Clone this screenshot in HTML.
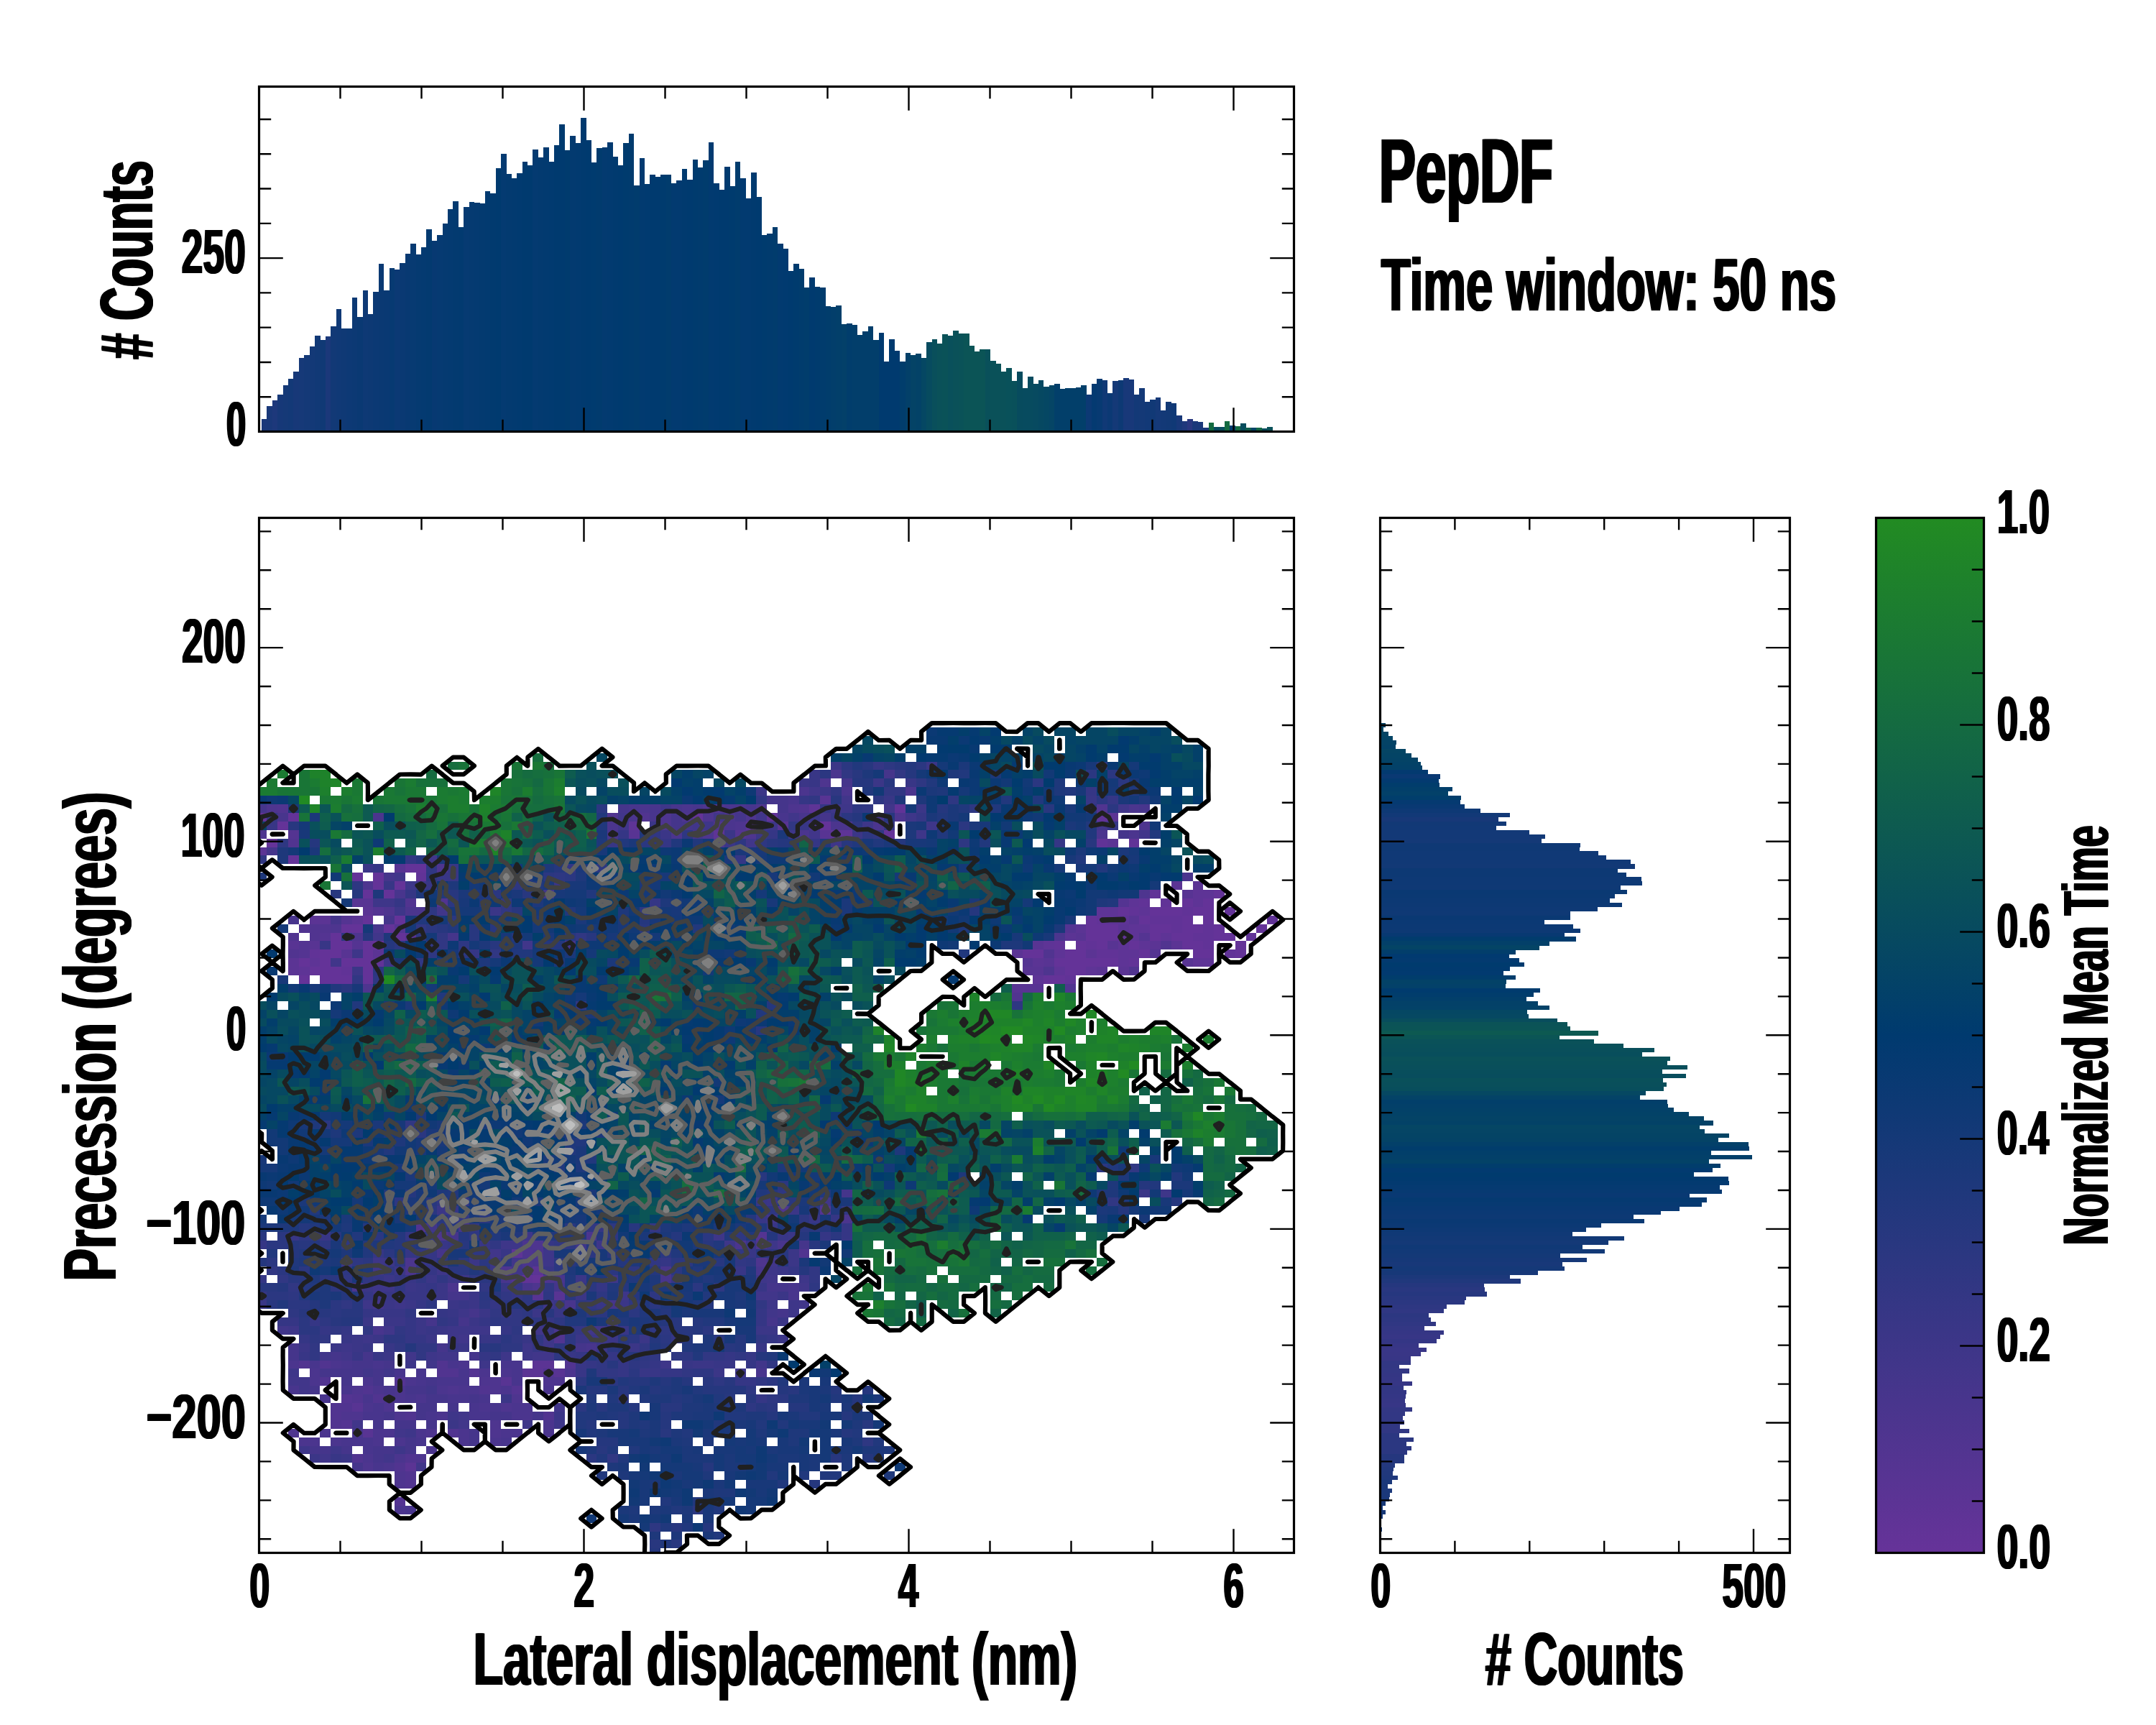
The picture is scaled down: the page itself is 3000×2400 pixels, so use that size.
<!DOCTYPE html><html><head><meta charset="utf-8"><title>PepDF</title><style>html,body{margin:0;padding:0;background:#fff}svg{display:block}</style></head><body><svg width="3000" height="2400" viewBox="0 0 3000 2400">
<rect width="3000" height="2400" fill="#fff"/>
<g shape-rendering="crispEdges">
<rect x="363.90" y="583.04" width="7.6" height="17.46" fill="#1a387a"/>
<rect x="371.31" y="565.07" width="7.6" height="35.43" fill="#193879"/>
<rect x="378.71" y="557.25" width="7.6" height="43.25" fill="#1d387b"/>
<rect x="386.11" y="549.13" width="7.6" height="51.37" fill="#163878"/>
<rect x="393.51" y="536.09" width="7.6" height="64.41" fill="#153977"/>
<rect x="400.92" y="527.39" width="7.6" height="73.11" fill="#133977"/>
<rect x="408.32" y="517.25" width="7.6" height="83.25" fill="#173878"/>
<rect x="415.72" y="498.41" width="7.6" height="102.09" fill="#163978"/>
<rect x="423.13" y="494.35" width="7.6" height="106.15" fill="#143977"/>
<rect x="430.53" y="482.17" width="7.6" height="118.33" fill="#133977"/>
<rect x="437.93" y="467.10" width="7.6" height="133.40" fill="#113976"/>
<rect x="445.34" y="472.90" width="7.6" height="127.60" fill="#103975"/>
<rect x="452.74" y="468.26" width="7.6" height="132.24" fill="#1b387a"/>
<rect x="460.14" y="454.06" width="7.6" height="146.44" fill="#123976"/>
<rect x="467.54" y="430.29" width="7.6" height="170.21" fill="#103976"/>
<rect x="474.95" y="456.96" width="7.6" height="143.54" fill="#0f3975"/>
<rect x="482.35" y="456.96" width="7.6" height="143.54" fill="#0d3975"/>
<rect x="489.75" y="414.06" width="7.6" height="186.44" fill="#0c3974"/>
<rect x="497.16" y="441.01" width="7.6" height="159.49" fill="#0a3973"/>
<rect x="504.56" y="404.20" width="7.6" height="196.30" fill="#0e3975"/>
<rect x="511.96" y="436.96" width="7.6" height="163.54" fill="#0d3974"/>
<rect x="519.37" y="406.23" width="7.6" height="194.27" fill="#0b3974"/>
<rect x="526.77" y="367.10" width="7.6" height="233.40" fill="#0a3973"/>
<rect x="534.17" y="404.20" width="7.6" height="196.30" fill="#093973"/>
<rect x="541.58" y="373.19" width="7.6" height="227.31" fill="#073a72"/>
<rect x="548.98" y="374.93" width="7.6" height="225.57" fill="#0b3974"/>
<rect x="556.38" y="366.23" width="7.6" height="234.27" fill="#0a3973"/>
<rect x="563.78" y="353.19" width="7.6" height="247.31" fill="#083972"/>
<rect x="571.19" y="339.28" width="7.6" height="261.22" fill="#073a72"/>
<rect x="578.59" y="354.06" width="7.6" height="246.44" fill="#053a71"/>
<rect x="585.99" y="344.20" width="7.6" height="256.30" fill="#043a71"/>
<rect x="593.40" y="318.99" width="7.6" height="281.51" fill="#033a70"/>
<rect x="600.80" y="334.93" width="7.6" height="265.57" fill="#073972"/>
<rect x="608.20" y="327.10" width="7.6" height="273.40" fill="#063a72"/>
<rect x="615.61" y="310.87" width="7.6" height="289.63" fill="#053a71"/>
<rect x="623.01" y="291.16" width="7.6" height="309.34" fill="#043a71"/>
<rect x="630.41" y="280.14" width="7.6" height="320.36" fill="#033a70"/>
<rect x="637.81" y="316.09" width="7.6" height="284.41" fill="#023a70"/>
<rect x="645.22" y="288.26" width="7.6" height="312.24" fill="#063a72"/>
<rect x="652.62" y="281.30" width="7.6" height="319.20" fill="#053a71"/>
<rect x="660.02" y="282.17" width="7.6" height="318.33" fill="#043a71"/>
<rect x="667.43" y="283.04" width="7.6" height="317.46" fill="#033a70"/>
<rect x="674.83" y="266.23" width="7.6" height="334.27" fill="#023a70"/>
<rect x="682.23" y="268.84" width="7.6" height="331.66" fill="#013a6f"/>
<rect x="689.63" y="234.06" width="7.6" height="366.44" fill="#003a6f"/>
<rect x="697.04" y="214.06" width="7.6" height="386.44" fill="#043a71"/>
<rect x="704.44" y="242.17" width="7.6" height="358.33" fill="#033a70"/>
<rect x="711.84" y="247.97" width="7.6" height="352.53" fill="#023a70"/>
<rect x="719.25" y="241.01" width="7.6" height="359.49" fill="#013a70"/>
<rect x="726.65" y="225.07" width="7.6" height="375.43" fill="#003a6f"/>
<rect x="734.05" y="230.00" width="7.6" height="370.50" fill="#003a6f"/>
<rect x="741.46" y="208.26" width="7.6" height="392.24" fill="#043a71"/>
<rect x="748.86" y="218.99" width="7.6" height="381.51" fill="#033a70"/>
<rect x="756.26" y="205.07" width="7.6" height="395.43" fill="#023a70"/>
<rect x="763.66" y="225.07" width="7.6" height="375.43" fill="#013a70"/>
<rect x="771.07" y="202.17" width="7.6" height="398.33" fill="#003a6f"/>
<rect x="778.47" y="173.19" width="7.6" height="427.31" fill="#003a6f"/>
<rect x="785.87" y="209.13" width="7.6" height="391.37" fill="#003b6e"/>
<rect x="793.28" y="189.13" width="7.6" height="411.37" fill="#033a70"/>
<rect x="800.68" y="198.99" width="7.6" height="401.51" fill="#023a70"/>
<rect x="808.08" y="164.20" width="7.6" height="436.30" fill="#013a6f"/>
<rect x="815.49" y="195.22" width="7.6" height="405.28" fill="#003a6f"/>
<rect x="822.89" y="225.94" width="7.6" height="374.56" fill="#003b6f"/>
<rect x="830.29" y="206.23" width="7.6" height="394.27" fill="#013b6e"/>
<rect x="837.69" y="205.07" width="7.6" height="395.43" fill="#033a70"/>
<rect x="845.10" y="198.12" width="7.6" height="402.38" fill="#023a70"/>
<rect x="852.50" y="218.12" width="7.6" height="382.38" fill="#013a6f"/>
<rect x="859.90" y="229.71" width="7.6" height="370.79" fill="#003a6f"/>
<rect x="867.31" y="198.99" width="7.6" height="401.51" fill="#003b6e"/>
<rect x="874.71" y="186.23" width="7.6" height="414.27" fill="#013b6e"/>
<rect x="882.11" y="257.83" width="7.6" height="342.67" fill="#013c6d"/>
<rect x="889.52" y="220.14" width="7.6" height="380.36" fill="#023a70"/>
<rect x="896.92" y="255.80" width="7.6" height="344.70" fill="#013a70"/>
<rect x="904.32" y="243.04" width="7.6" height="357.46" fill="#003a6f"/>
<rect x="911.73" y="245.65" width="7.6" height="354.85" fill="#003a6f"/>
<rect x="919.13" y="243.04" width="7.6" height="357.46" fill="#003b6e"/>
<rect x="926.53" y="243.04" width="7.6" height="357.46" fill="#013c6d"/>
<rect x="933.93" y="254.64" width="7.6" height="345.86" fill="#023a70"/>
<rect x="941.34" y="251.16" width="7.6" height="349.34" fill="#023a70"/>
<rect x="948.74" y="235.22" width="7.6" height="365.28" fill="#013a6f"/>
<rect x="956.14" y="250.00" width="7.6" height="350.50" fill="#003a6f"/>
<rect x="963.55" y="222.17" width="7.6" height="378.33" fill="#003b6e"/>
<rect x="970.95" y="232.90" width="7.6" height="367.60" fill="#013b6e"/>
<rect x="978.35" y="223.04" width="7.6" height="377.46" fill="#013c6d"/>
<rect x="985.75" y="198.12" width="7.6" height="402.38" fill="#023a70"/>
<rect x="993.16" y="254.93" width="7.6" height="345.57" fill="#013a70"/>
<rect x="1000.56" y="263.91" width="7.6" height="336.59" fill="#003a6f"/>
<rect x="1007.96" y="232.03" width="7.6" height="368.47" fill="#003a6f"/>
<rect x="1015.37" y="258.99" width="7.6" height="341.51" fill="#003b6e"/>
<rect x="1022.77" y="225.07" width="7.6" height="375.43" fill="#013c6d"/>
<rect x="1030.17" y="247.97" width="7.6" height="352.53" fill="#023a70"/>
<rect x="1037.58" y="275.80" width="7.6" height="324.70" fill="#023a70"/>
<rect x="1044.98" y="240.14" width="7.6" height="360.36" fill="#013a6f"/>
<rect x="1052.38" y="274.06" width="7.6" height="326.44" fill="#003a6f"/>
<rect x="1059.78" y="326.81" width="7.6" height="273.69" fill="#003b6e"/>
<rect x="1067.19" y="325.07" width="7.6" height="275.43" fill="#013b6e"/>
<rect x="1074.59" y="316.09" width="7.6" height="284.41" fill="#013c6d"/>
<rect x="1081.99" y="338.99" width="7.6" height="261.51" fill="#023a70"/>
<rect x="1089.40" y="345.94" width="7.6" height="254.56" fill="#013a70"/>
<rect x="1096.80" y="376.96" width="7.6" height="223.54" fill="#003a6f"/>
<rect x="1104.20" y="366.81" width="7.6" height="233.69" fill="#003b6e"/>
<rect x="1111.61" y="373.77" width="7.6" height="226.73" fill="#013c6d"/>
<rect x="1119.01" y="399.86" width="7.6" height="200.64" fill="#013d6c"/>
<rect x="1126.41" y="385.94" width="7.6" height="214.56" fill="#003a6f"/>
<rect x="1133.82" y="398.70" width="7.6" height="201.80" fill="#003b6e"/>
<rect x="1141.22" y="399.86" width="7.6" height="200.64" fill="#013c6d"/>
<rect x="1148.62" y="425.94" width="7.6" height="174.56" fill="#013d6c"/>
<rect x="1156.02" y="427.10" width="7.6" height="173.40" fill="#023e6b"/>
<rect x="1163.43" y="425.07" width="7.6" height="175.43" fill="#023f6a"/>
<rect x="1170.83" y="450.87" width="7.6" height="149.63" fill="#034069"/>
<rect x="1178.23" y="450.00" width="7.6" height="150.50" fill="#013d6c"/>
<rect x="1185.64" y="452.03" width="7.6" height="148.47" fill="#023e6b"/>
<rect x="1193.04" y="465.94" width="7.6" height="134.56" fill="#023e6b"/>
<rect x="1200.44" y="461.01" width="7.6" height="139.49" fill="#023e6b"/>
<rect x="1207.84" y="454.06" width="7.6" height="146.44" fill="#023e6b"/>
<rect x="1215.25" y="472.90" width="7.6" height="127.60" fill="#023e6b"/>
<rect x="1222.65" y="463.04" width="7.6" height="137.46" fill="#003a6f"/>
<rect x="1230.05" y="503.04" width="7.6" height="97.46" fill="#003a6f"/>
<rect x="1237.46" y="471.74" width="7.6" height="128.76" fill="#003a6f"/>
<rect x="1244.86" y="487.97" width="7.6" height="112.53" fill="#003a6f"/>
<rect x="1252.26" y="503.04" width="7.6" height="97.46" fill="#013d6c"/>
<rect x="1259.67" y="491.16" width="7.6" height="109.34" fill="#034069"/>
<rect x="1267.07" y="494.06" width="7.6" height="106.44" fill="#044366"/>
<rect x="1274.47" y="492.03" width="7.6" height="108.47" fill="#034267"/>
<rect x="1281.88" y="498.12" width="7.6" height="102.38" fill="#054763"/>
<rect x="1289.28" y="476.09" width="7.6" height="124.41" fill="#074b5f"/>
<rect x="1296.68" y="472.03" width="7.6" height="128.47" fill="#094f5b"/>
<rect x="1304.08" y="478.12" width="7.6" height="122.38" fill="#0a5159"/>
<rect x="1311.49" y="465.07" width="7.6" height="135.43" fill="#0a5258"/>
<rect x="1318.89" y="467.14" width="7.6" height="133.36" fill="#09505b"/>
<rect x="1326.29" y="460.19" width="7.6" height="140.31" fill="#0a5159"/>
<rect x="1333.70" y="464.13" width="7.6" height="136.37" fill="#0a5258"/>
<rect x="1341.10" y="464.13" width="7.6" height="136.37" fill="#0b5456"/>
<rect x="1348.50" y="481.06" width="7.6" height="119.44" fill="#0b5456"/>
<rect x="1355.90" y="489.17" width="7.6" height="111.33" fill="#0b5456"/>
<rect x="1363.31" y="486.16" width="7.6" height="114.34" fill="#0b5456"/>
<rect x="1370.71" y="486.16" width="7.6" height="114.34" fill="#09505a"/>
<rect x="1378.11" y="502.16" width="7.6" height="98.34" fill="#0a5159"/>
<rect x="1385.52" y="506.10" width="7.6" height="94.40" fill="#0a5159"/>
<rect x="1392.92" y="517.00" width="7.6" height="83.50" fill="#0a5159"/>
<rect x="1400.32" y="512.13" width="7.6" height="88.37" fill="#09515a"/>
<rect x="1407.73" y="529.99" width="7.6" height="70.51" fill="#09505a"/>
<rect x="1415.13" y="517.24" width="7.6" height="83.26" fill="#074b5e"/>
<rect x="1422.53" y="539.96" width="7.6" height="60.54" fill="#074b5f"/>
<rect x="1429.93" y="524.19" width="7.6" height="76.31" fill="#074b5f"/>
<rect x="1437.34" y="534.17" width="7.6" height="66.33" fill="#074a60"/>
<rect x="1444.74" y="529.29" width="7.6" height="71.21" fill="#064861"/>
<rect x="1452.14" y="538.11" width="7.6" height="62.39" fill="#054763"/>
<rect x="1459.55" y="536.25" width="7.6" height="64.25" fill="#054565"/>
<rect x="1466.95" y="534.17" width="7.6" height="66.33" fill="#023f6a"/>
<rect x="1474.35" y="541.12" width="7.6" height="59.38" fill="#023f6a"/>
<rect x="1481.76" y="540.19" width="7.6" height="60.31" fill="#023f6a"/>
<rect x="1489.16" y="540.19" width="7.6" height="60.31" fill="#023f6a"/>
<rect x="1496.56" y="539.04" width="7.6" height="61.46" fill="#023f6a"/>
<rect x="1503.96" y="536.25" width="7.6" height="64.25" fill="#023f6a"/>
<rect x="1511.37" y="549.24" width="7.6" height="51.26" fill="#0c3974"/>
<rect x="1518.77" y="534.17" width="7.6" height="66.33" fill="#043a71"/>
<rect x="1526.17" y="527.21" width="7.6" height="73.29" fill="#073a72"/>
<rect x="1533.58" y="529.29" width="7.6" height="71.21" fill="#103976"/>
<rect x="1540.98" y="547.15" width="7.6" height="53.35" fill="#0b3974"/>
<rect x="1548.38" y="530.22" width="7.6" height="70.28" fill="#143977"/>
<rect x="1555.79" y="529.29" width="7.6" height="71.21" fill="#0d3974"/>
<rect x="1563.19" y="526.05" width="7.6" height="74.45" fill="#183879"/>
<rect x="1570.59" y="528.37" width="7.6" height="72.13" fill="#183879"/>
<rect x="1577.99" y="549.01" width="7.6" height="51.49" fill="#133977"/>
<rect x="1585.40" y="540.19" width="7.6" height="60.31" fill="#143977"/>
<rect x="1592.80" y="558.98" width="7.6" height="41.52" fill="#123977"/>
<rect x="1600.20" y="556.20" width="7.6" height="44.30" fill="#113976"/>
<rect x="1607.61" y="552.95" width="7.6" height="47.55" fill="#153978"/>
<rect x="1615.01" y="571.04" width="7.6" height="29.46" fill="#133977"/>
<rect x="1622.41" y="558.98" width="7.6" height="41.52" fill="#123976"/>
<rect x="1629.82" y="561.30" width="7.6" height="39.20" fill="#103976"/>
<rect x="1637.22" y="578.00" width="7.6" height="22.50" fill="#183879"/>
<rect x="1644.62" y="586.11" width="7.6" height="14.39" fill="#1f387c"/>
<rect x="1652.02" y="583.33" width="7.6" height="17.17" fill="#2a3780"/>
<rect x="1659.43" y="586.11" width="7.6" height="14.39" fill="#1b387a"/>
<rect x="1666.83" y="587.04" width="7.6" height="13.46" fill="#1a387a"/>
<rect x="1674.23" y="595.16" width="7.6" height="5.34" fill="#193879"/>
<rect x="1681.64" y="588.20" width="7.6" height="12.30" fill="#146b41"/>
<rect x="1689.04" y="594.23" width="7.6" height="6.27" fill="#074a60"/>
<rect x="1696.44" y="594.23" width="7.6" height="6.27" fill="#084d5d"/>
<rect x="1703.85" y="586.11" width="7.6" height="14.39" fill="#146b41"/>
<rect x="1711.25" y="592.14" width="7.6" height="8.36" fill="#003a6f"/>
<rect x="1718.65" y="593.30" width="7.6" height="7.20" fill="#146b41"/>
<rect x="1726.05" y="589.13" width="7.6" height="11.37" fill="#084d5d"/>
<rect x="1733.46" y="595.16" width="7.6" height="5.34" fill="#0f5e4d"/>
<rect x="1740.86" y="595.16" width="7.6" height="5.34" fill="#044466"/>
<rect x="1748.26" y="595.16" width="7.6" height="5.34" fill="#136744"/>
<rect x="1755.67" y="596.09" width="7.6" height="4.41" fill="#084d5d"/>
<rect x="1763.07" y="594.00" width="7.6" height="6.50" fill="#0a5159"/>
</g>
<g shape-rendering="crispEdges">
<rect x="1920.50" y="1005.95" width="7.33" height="6.2" fill="#044366"/>
<rect x="1920.50" y="1011.90" width="4.55" height="6.2" fill="#054763"/>
<rect x="1920.50" y="1017.85" width="11.51" height="6.2" fill="#054564"/>
<rect x="1920.50" y="1023.80" width="17.35" height="6.2" fill="#044465"/>
<rect x="1920.50" y="1029.75" width="22.36" height="6.2" fill="#044366"/>
<rect x="1920.50" y="1035.70" width="21.25" height="6.2" fill="#034267"/>
<rect x="1920.50" y="1041.65" width="35.44" height="6.2" fill="#054564"/>
<rect x="1920.50" y="1047.60" width="43.51" height="6.2" fill="#044465"/>
<rect x="1920.50" y="1053.55" width="52.42" height="6.2" fill="#044366"/>
<rect x="1920.50" y="1059.50" width="56.59" height="6.2" fill="#034267"/>
<rect x="1920.50" y="1065.45" width="58.54" height="6.2" fill="#034168"/>
<rect x="1920.50" y="1071.40" width="66.34" height="6.2" fill="#033a70"/>
<rect x="1920.50" y="1077.35" width="83.31" height="6.2" fill="#0a3973"/>
<rect x="1920.50" y="1083.30" width="81.36" height="6.2" fill="#033a70"/>
<rect x="1920.50" y="1089.25" width="82.48" height="6.2" fill="#013d6c"/>
<rect x="1920.50" y="1095.20" width="100.29" height="6.2" fill="#023f6a"/>
<rect x="1920.50" y="1101.15" width="94.17" height="6.2" fill="#034169"/>
<rect x="1920.50" y="1107.10" width="112.26" height="6.2" fill="#013e6c"/>
<rect x="1920.50" y="1113.05" width="111.14" height="6.2" fill="#053a71"/>
<rect x="1920.50" y="1119.00" width="117.27" height="6.2" fill="#093973"/>
<rect x="1920.50" y="1124.95" width="139.26" height="6.2" fill="#0e3975"/>
<rect x="1920.50" y="1130.90" width="180.17" height="6.2" fill="#123977"/>
<rect x="1920.50" y="1136.85" width="164.30" height="6.2" fill="#173878"/>
<rect x="1920.50" y="1142.80" width="175.16" height="6.2" fill="#123976"/>
<rect x="1920.50" y="1148.75" width="161.52" height="6.2" fill="#123977"/>
<rect x="1920.50" y="1154.70" width="207.44" height="6.2" fill="#133977"/>
<rect x="1920.50" y="1160.65" width="229.15" height="6.2" fill="#133977"/>
<rect x="1920.50" y="1166.60" width="224.42" height="6.2" fill="#143977"/>
<rect x="1920.50" y="1172.55" width="278.14" height="6.2" fill="#0f3975"/>
<rect x="1920.50" y="1178.50" width="277.30" height="6.2" fill="#0f3975"/>
<rect x="1920.50" y="1184.45" width="303.18" height="6.2" fill="#103976"/>
<rect x="1920.50" y="1190.40" width="314.32" height="6.2" fill="#103976"/>
<rect x="1920.50" y="1196.35" width="348.27" height="6.2" fill="#113976"/>
<rect x="1920.50" y="1202.30" width="354.40" height="6.2" fill="#123976"/>
<rect x="1920.50" y="1208.25" width="330.46" height="6.2" fill="#0d3974"/>
<rect x="1920.50" y="1214.20" width="342.43" height="6.2" fill="#0d3974"/>
<rect x="1920.50" y="1220.15" width="363.30" height="6.2" fill="#0e3975"/>
<rect x="1920.50" y="1226.10" width="364.42" height="6.2" fill="#0e3975"/>
<rect x="1920.50" y="1232.05" width="334.36" height="6.2" fill="#0f3975"/>
<rect x="1920.50" y="1238.00" width="343.26" height="6.2" fill="#0a3973"/>
<rect x="1920.50" y="1243.95" width="326.29" height="6.2" fill="#0b3973"/>
<rect x="1920.50" y="1249.90" width="319.33" height="6.2" fill="#0c3974"/>
<rect x="1920.50" y="1255.85" width="336.30" height="6.2" fill="#0d3974"/>
<rect x="1920.50" y="1261.80" width="302.35" height="6.2" fill="#0e3975"/>
<rect x="1920.50" y="1267.75" width="264.22" height="6.2" fill="#0f3975"/>
<rect x="1920.50" y="1273.70" width="264.22" height="6.2" fill="#0a3973"/>
<rect x="1920.50" y="1279.65" width="228.32" height="6.2" fill="#0b3974"/>
<rect x="1920.50" y="1285.60" width="268.12" height="6.2" fill="#0c3974"/>
<rect x="1920.50" y="1291.55" width="278.14" height="6.2" fill="#0d3974"/>
<rect x="1920.50" y="1297.50" width="256.43" height="6.2" fill="#083972"/>
<rect x="1920.50" y="1303.45" width="272.29" height="6.2" fill="#013c6d"/>
<rect x="1920.50" y="1309.40" width="235.28" height="6.2" fill="#034069"/>
<rect x="1920.50" y="1315.35" width="221.36" height="6.2" fill="#044465"/>
<rect x="1920.50" y="1321.30" width="188.24" height="6.2" fill="#023e6b"/>
<rect x="1920.50" y="1327.25" width="179.33" height="6.2" fill="#013a70"/>
<rect x="1920.50" y="1333.20" width="193.25" height="6.2" fill="#033a70"/>
<rect x="1920.50" y="1339.15" width="200.21" height="6.2" fill="#003b6e"/>
<rect x="1920.50" y="1345.10" width="180.17" height="6.2" fill="#013a6f"/>
<rect x="1920.50" y="1351.05" width="171.54" height="6.2" fill="#023a70"/>
<rect x="1920.50" y="1357.00" width="188.24" height="6.2" fill="#013d6c"/>
<rect x="1920.50" y="1362.95" width="175.16" height="6.2" fill="#034267"/>
<rect x="1920.50" y="1368.90" width="174.32" height="6.2" fill="#034169"/>
<rect x="1920.50" y="1374.85" width="222.19" height="6.2" fill="#003b6e"/>
<rect x="1920.50" y="1380.80" width="213.29" height="6.2" fill="#013d6c"/>
<rect x="1920.50" y="1386.75" width="203.55" height="6.2" fill="#023f6a"/>
<rect x="1920.50" y="1392.70" width="219.13" height="6.2" fill="#034168"/>
<rect x="1920.50" y="1398.65" width="235.28" height="6.2" fill="#034268"/>
<rect x="1920.50" y="1404.60" width="204.38" height="6.2" fill="#054763"/>
<rect x="1920.50" y="1410.55" width="206.33" height="6.2" fill="#064862"/>
<rect x="1920.50" y="1416.50" width="246.13" height="6.2" fill="#084d5d"/>
<rect x="1920.50" y="1422.45" width="260.32" height="6.2" fill="#0b5357"/>
<rect x="1920.50" y="1428.40" width="264.22" height="6.2" fill="#0b5456"/>
<rect x="1920.50" y="1434.35" width="303.18" height="6.2" fill="#0d5951"/>
<rect x="1920.50" y="1440.30" width="249.47" height="6.2" fill="#0b5555"/>
<rect x="1920.50" y="1446.25" width="297.34" height="6.2" fill="#0a5159"/>
<rect x="1920.50" y="1452.20" width="338.53" height="6.2" fill="#09505a"/>
<rect x="1920.50" y="1458.15" width="381.39" height="6.2" fill="#094f5b"/>
<rect x="1920.50" y="1464.10" width="364.42" height="6.2" fill="#084e5c"/>
<rect x="1920.50" y="1470.05" width="403.38" height="6.2" fill="#0a5159"/>
<rect x="1920.50" y="1476.00" width="399.20" height="6.2" fill="#09505a"/>
<rect x="1920.50" y="1481.95" width="427.04" height="6.2" fill="#094f5b"/>
<rect x="1920.50" y="1487.90" width="392.53" height="6.2" fill="#084e5c"/>
<rect x="1920.50" y="1493.85" width="425.37" height="6.2" fill="#084d5d"/>
<rect x="1920.50" y="1499.80" width="393.36" height="6.2" fill="#09505a"/>
<rect x="1920.50" y="1505.75" width="398.37" height="6.2" fill="#094f5b"/>
<rect x="1920.50" y="1511.70" width="394.20" height="6.2" fill="#084e5c"/>
<rect x="1920.50" y="1517.65" width="369.15" height="6.2" fill="#064862"/>
<rect x="1920.50" y="1523.60" width="361.35" height="6.2" fill="#044367"/>
<rect x="1920.50" y="1529.55" width="399.20" height="6.2" fill="#023f6a"/>
<rect x="1920.50" y="1535.50" width="400.32" height="6.2" fill="#034069"/>
<rect x="1920.50" y="1541.45" width="408.39" height="6.2" fill="#034168"/>
<rect x="1920.50" y="1547.40" width="429.26" height="6.2" fill="#034267"/>
<rect x="1920.50" y="1553.35" width="450.14" height="6.2" fill="#044366"/>
<rect x="1920.50" y="1559.30" width="463.22" height="6.2" fill="#034267"/>
<rect x="1920.50" y="1565.25" width="444.29" height="6.2" fill="#054664"/>
<rect x="1920.50" y="1571.20" width="451.25" height="6.2" fill="#054565"/>
<rect x="1920.50" y="1577.15" width="485.21" height="6.2" fill="#044465"/>
<rect x="1920.50" y="1583.10" width="470.45" height="6.2" fill="#044366"/>
<rect x="1920.50" y="1589.05" width="512.20" height="6.2" fill="#034069"/>
<rect x="1920.50" y="1595.00" width="513.32" height="6.2" fill="#013d6c"/>
<rect x="1920.50" y="1600.95" width="460.44" height="6.2" fill="#023f6a"/>
<rect x="1920.50" y="1606.90" width="517.21" height="6.2" fill="#034069"/>
<rect x="1920.50" y="1612.85" width="457.37" height="6.2" fill="#034267"/>
<rect x="1920.50" y="1618.80" width="473.52" height="6.2" fill="#013d6c"/>
<rect x="1920.50" y="1624.75" width="462.38" height="6.2" fill="#023a70"/>
<rect x="1920.50" y="1630.70" width="436.50" height="6.2" fill="#003b6e"/>
<rect x="1920.50" y="1636.65" width="484.37" height="6.2" fill="#013a6f"/>
<rect x="1920.50" y="1642.60" width="485.21" height="6.2" fill="#033a70"/>
<rect x="1920.50" y="1648.55" width="472.40" height="6.2" fill="#053a71"/>
<rect x="1920.50" y="1654.50" width="475.19" height="6.2" fill="#073a72"/>
<rect x="1920.50" y="1660.45" width="430.38" height="6.2" fill="#093973"/>
<rect x="1920.50" y="1666.40" width="454.31" height="6.2" fill="#053a71"/>
<rect x="1920.50" y="1672.35" width="447.35" height="6.2" fill="#073a72"/>
<rect x="1920.50" y="1678.30" width="416.46" height="6.2" fill="#093973"/>
<rect x="1920.50" y="1684.25" width="390.30" height="6.2" fill="#0b3974"/>
<rect x="1920.50" y="1690.20" width="352.45" height="6.2" fill="#0d3974"/>
<rect x="1920.50" y="1696.15" width="367.48" height="6.2" fill="#0a3973"/>
<rect x="1920.50" y="1702.10" width="307.36" height="6.2" fill="#0c3974"/>
<rect x="1920.50" y="1708.05" width="286.21" height="6.2" fill="#0e3975"/>
<rect x="1920.50" y="1714.00" width="267.28" height="6.2" fill="#103976"/>
<rect x="1920.50" y="1719.95" width="339.37" height="6.2" fill="#123976"/>
<rect x="1920.50" y="1725.90" width="317.38" height="6.2" fill="#143977"/>
<rect x="1920.50" y="1731.85" width="281.48" height="6.2" fill="#103976"/>
<rect x="1920.50" y="1737.80" width="312.37" height="6.2" fill="#123977"/>
<rect x="1920.50" y="1743.75" width="250.30" height="6.2" fill="#143977"/>
<rect x="1920.50" y="1749.70" width="287.32" height="6.2" fill="#163878"/>
<rect x="1920.50" y="1755.65" width="253.37" height="6.2" fill="#183879"/>
<rect x="1920.50" y="1761.60" width="256.43" height="6.2" fill="#153978"/>
<rect x="1920.50" y="1767.55" width="219.13" height="6.2" fill="#173878"/>
<rect x="1920.50" y="1773.50" width="180.45" height="6.2" fill="#1c387a"/>
<rect x="1920.50" y="1779.45" width="195.20" height="6.2" fill="#20387c"/>
<rect x="1920.50" y="1785.40" width="144.54" height="6.2" fill="#25377e"/>
<rect x="1920.50" y="1791.35" width="145.38" height="6.2" fill="#293780"/>
<rect x="1920.50" y="1797.30" width="148.44" height="6.2" fill="#26377f"/>
<rect x="1920.50" y="1803.25" width="119.49" height="6.2" fill="#293780"/>
<rect x="1920.50" y="1809.20" width="117.27" height="6.2" fill="#2b3781"/>
<rect x="1920.50" y="1815.15" width="92.22" height="6.2" fill="#2e3782"/>
<rect x="1920.50" y="1821.10" width="88.32" height="6.2" fill="#303783"/>
<rect x="1920.50" y="1827.05" width="67.45" height="6.2" fill="#2c3781"/>
<rect x="1920.50" y="1833.00" width="70.23" height="6.2" fill="#2e3782"/>
<rect x="1920.50" y="1838.95" width="77.19" height="6.2" fill="#303783"/>
<rect x="1920.50" y="1844.90" width="61.33" height="6.2" fill="#333784"/>
<rect x="1920.50" y="1850.85" width="88.32" height="6.2" fill="#353685"/>
<rect x="1920.50" y="1856.80" width="83.31" height="6.2" fill="#373686"/>
<rect x="1920.50" y="1862.75" width="78.30" height="6.2" fill="#343685"/>
<rect x="1920.50" y="1868.70" width="53.25" height="6.2" fill="#373686"/>
<rect x="1920.50" y="1874.65" width="64.39" height="6.2" fill="#393687"/>
<rect x="1920.50" y="1880.60" width="56.32" height="6.2" fill="#393686"/>
<rect x="1920.50" y="1886.55" width="42.40" height="6.2" fill="#383686"/>
<rect x="1920.50" y="1892.50" width="42.40" height="6.2" fill="#323784"/>
<rect x="1920.50" y="1898.45" width="26.26" height="6.2" fill="#323783"/>
<rect x="1920.50" y="1904.40" width="40.45" height="6.2" fill="#333784"/>
<rect x="1920.50" y="1910.35" width="30.43" height="6.2" fill="#343684"/>
<rect x="1920.50" y="1916.30" width="30.43" height="6.2" fill="#353685"/>
<rect x="1920.50" y="1922.25" width="44.35" height="6.2" fill="#363685"/>
<rect x="1920.50" y="1928.20" width="32.38" height="6.2" fill="#323784"/>
<rect x="1920.50" y="1934.15" width="36.28" height="6.2" fill="#333684"/>
<rect x="1920.50" y="1940.10" width="35.16" height="6.2" fill="#343685"/>
<rect x="1920.50" y="1946.05" width="34.33" height="6.2" fill="#363685"/>
<rect x="1920.50" y="1952.00" width="35.16" height="6.2" fill="#373686"/>
<rect x="1920.50" y="1957.95" width="44.35" height="6.2" fill="#333784"/>
<rect x="1920.50" y="1963.90" width="34.33" height="6.2" fill="#323784"/>
<rect x="1920.50" y="1969.85" width="31.27" height="6.2" fill="#323784"/>
<rect x="1920.50" y="1975.80" width="33.22" height="6.2" fill="#313783"/>
<rect x="1920.50" y="1981.75" width="27.37" height="6.2" fill="#313783"/>
<rect x="1920.50" y="1987.70" width="40.45" height="6.2" fill="#313783"/>
<rect x="1920.50" y="1993.65" width="26.26" height="6.2" fill="#2b3781"/>
<rect x="1920.50" y="1999.60" width="46.30" height="6.2" fill="#2b3781"/>
<rect x="1920.50" y="2005.55" width="36.28" height="6.2" fill="#2b3781"/>
<rect x="1920.50" y="2011.50" width="43.51" height="6.2" fill="#2b3781"/>
<rect x="1920.50" y="2017.45" width="37.39" height="6.2" fill="#2b3781"/>
<rect x="1920.50" y="2023.40" width="33.22" height="6.2" fill="#25377e"/>
<rect x="1920.50" y="2029.35" width="33.22" height="6.2" fill="#25377e"/>
<rect x="1920.50" y="2035.30" width="20.41" height="6.2" fill="#24387e"/>
<rect x="1920.50" y="2041.25" width="18.46" height="6.2" fill="#22387d"/>
<rect x="1920.50" y="2047.20" width="17.35" height="6.2" fill="#21387c"/>
<rect x="1920.50" y="2053.15" width="24.31" height="6.2" fill="#1f387c"/>
<rect x="1920.50" y="2059.10" width="16.24" height="6.2" fill="#1a387a"/>
<rect x="1920.50" y="2065.05" width="10.39" height="6.2" fill="#1a387a"/>
<rect x="1920.50" y="2071.00" width="16.24" height="6.2" fill="#1b387a"/>
<rect x="1920.50" y="2076.95" width="13.45" height="6.2" fill="#1b387a"/>
<rect x="1920.50" y="2082.90" width="12.34" height="6.2" fill="#1b387a"/>
<rect x="1920.50" y="2088.85" width="7.33" height="6.2" fill="#163878"/>
<rect x="1920.50" y="2094.80" width="3.44" height="6.2" fill="#163878"/>
<rect x="1920.50" y="2100.75" width="7.33" height="6.2" fill="#173878"/>
<rect x="1920.50" y="2106.70" width="3.44" height="6.2" fill="#173878"/>
<rect x="1920.50" y="2124.55" width="2.60" height="6.2" fill="#123977"/>
</g>
<defs><linearGradient id="cb" x1="0" y1="1" x2="0" y2="0"><stop offset="0" stop-color="#663399"/><stop offset="0.5" stop-color="#003a6f"/><stop offset="1" stop-color="#228b22"/></linearGradient></defs>
<rect x="2610.5" y="720.5" width="150.0" height="1440.0" fill="url(#cb)"/>
<clipPath id="ax"><rect x="360.5" y="720.5" width="1440" height="1440"/></clipPath>
<g clip-path="url(#ax)">
<g transform="translate(356.5,1011.9) scale(14.807,11.9)" shape-rendering="crispEdges">
<path d="M0 10h1v1h-1zM3 10h1v1h-1zM41 10h1v1h-1zM2 11h1v1h-1zM53 11h1v1h-1zM59 12h1v1h-1zM1 13h1v1h-1zM3 15h1v1h-1zM14 16h2v1h-2zM9 17h1v1h-1zM11 17h1v1h-1zM11 18h1v1h-1zM13 18h1v1h-1zM10 19h1v1h-1zM12 19h1v1h-1zM90 19h1v1h-1zM87 20h1v1h-1zM89 20h1v1h-1zM81 21h1v1h-1zM84 21h3v1h-3zM88 21h2v1h-2zM91 21h1v1h-1zM10 22h1v1h-1zM13 22h1v1h-1zM78 22h1v1h-1zM83 22h1v1h-1zM87 22h1v1h-1zM89 22h1v1h-1zM8 23h2v1h-2zM12 23h1v1h-1zM78 23h3v1h-3zM84 23h2v1h-2zM87 23h2v1h-2zM90 23h1v1h-1zM94 23h1v1h-1zM7 24h1v1h-1zM13 24h1v1h-1zM78 24h3v1h-3zM84 24h1v1h-1zM86 24h2v1h-2zM90 24h2v1h-2zM7 25h2v1h-2zM10 25h2v1h-2zM77 25h1v1h-1zM79 25h1v1h-1zM82 25h1v1h-1zM87 25h2v1h-2zM92 25h1v1h-1zM6 26h2v1h-2zM10 26h1v1h-1zM72 26h2v1h-2zM76 26h2v1h-2zM83 26h1v1h-1zM88 26h2v1h-2zM92 26h1v1h-1zM4 27h1v1h-1zM6 27h1v1h-1zM8 27h3v1h-3zM75 27h6v1h-6zM5 28h3v1h-3zM10 28h1v1h-1zM76 28h2v1h-2zM4 29h1v1h-1zM6 29h3v1h-3zM10 29h1v1h-1zM74 29h2v1h-2zM26 64h1v1h-1z" fill="#643398"/>
<path d="M60 9h1v1h-1zM48 10h1v1h-1zM79 10h1v1h-1zM79 13h1v1h-1zM82 13h1v1h-1zM15 17h1v1h-1zM84 19h1v1h-1zM83 20h1v1h-1zM85 20h1v1h-1zM82 21h1v1h-1zM87 21h1v1h-1zM79 22h1v1h-1zM84 22h3v1h-3zM95 22h1v1h-1zM86 23h1v1h-1zM89 23h1v1h-1zM81 24h1v1h-1zM88 24h2v1h-2zM93 24h1v1h-1zM75 25h1v1h-1zM78 25h1v1h-1zM89 25h1v1h-1zM5 26h1v1h-1zM79 26h2v1h-2zM91 26h1v1h-1zM11 27h1v1h-1zM82 27h1v1h-1zM8 28h1v1h-1zM76 29h1v1h-1zM25 64h1v1h-1z" fill="#613397"/>
<path d="M52 9h1v1h-1zM35 11h1v1h-1zM43 12h1v1h-1zM54 12h2v1h-2zM88 19h2v1h-2zM82 20h1v1h-1zM88 20h1v1h-1zM79 21h2v1h-2zM83 21h1v1h-1zM80 22h2v1h-2zM82 23h2v1h-2zM82 24h1v1h-1zM85 24h1v1h-1zM74 25h1v1h-1zM81 25h1v1h-1zM83 25h1v1h-1zM75 26h1v1h-1zM81 26h2v1h-2zM5 27h1v1h-1zM81 27h1v1h-1zM88 27h2v1h-2zM4 28h1v1h-1zM75 28h1v1h-1zM78 28h1v1h-1zM73 29h1v1h-1zM24 61h1v1h-1z" fill="#5e3496"/>
<path d="M80 10h1v1h-1zM46 11h1v1h-1zM80 13h1v1h-1zM0 14h1v1h-1zM86 18h1v1h-1zM88 18h1v1h-1zM10 21h1v1h-1zM5 22h2v1h-2zM9 22h1v1h-1zM77 23h1v1h-1zM81 23h1v1h-1zM76 24h1v1h-1zM84 25h1v1h-1zM86 25h1v1h-1zM11 26h1v1h-1zM71 26h1v1h-1zM78 26h1v1h-1zM3 27h1v1h-1zM73 27h1v1h-1zM3 28h1v1h-1zM79 28h1v1h-1zM81 28h1v1h-1zM26 63h1v1h-1zM26 74h2v1h-2zM25 75h2v1h-2zM14 86h1v1h-1z" fill="#5b3494"/>
<path d="M53 8h1v1h-1zM49 11h1v1h-1zM35 12h1v1h-1zM53 12h1v1h-1zM13 16h1v1h-1zM87 19h1v1h-1zM9 20h2v1h-2zM82 22h1v1h-1zM14 24h1v1h-1zM77 24h1v1h-1zM3 25h1v1h-1zM5 25h1v1h-1zM73 25h1v1h-1zM80 25h1v1h-1zM8 26h1v1h-1zM74 27h1v1h-1zM87 27h1v1h-1zM72 28h2v1h-2zM71 30h3v1h-3zM26 66h1v1h-1zM28 66h1v1h-1zM28 75h1v1h-1zM23 76h1v1h-1zM9 79h1v1h-1zM10 82h1v1h-1z" fill="#583493"/>
<path d="M3 12h1v1h-1zM45 12h1v1h-1zM81 20h1v1h-1zM11 21h1v1h-1zM8 22h1v1h-1zM13 23h1v1h-1zM76 23h1v1h-1zM6 24h1v1h-1zM83 24h1v1h-1zM4 25h1v1h-1zM9 25h1v1h-1zM4 26h1v1h-1zM84 26h1v1h-1zM72 27h1v1h-1zM53 56h1v1h-1zM47 59h1v1h-1zM20 75h1v1h-1zM13 76h1v1h-1zM24 77h1v1h-1zM8 78h1v1h-1zM8 81h1v1h-1zM13 90h1v1h-1z" fill="#543492"/>
<path d="M2 9h1v1h-1zM43 9h1v1h-1zM51 9h1v1h-1zM79 9h1v1h-1zM33 10h1v1h-1zM36 10h1v1h-1zM43 11h1v1h-1zM3 13h1v1h-1zM14 20h1v1h-1zM17 20h1v1h-1zM4 23h3v1h-3zM3 24h1v1h-1zM5 24h1v1h-1zM85 25h1v1h-1zM3 26h1v1h-1zM74 26h1v1h-1zM82 28h1v1h-1zM76 30h1v1h-1zM71 31h1v1h-1zM15 58h1v1h-1zM51 61h1v1h-1zM24 64h1v1h-1zM28 71h1v1h-1zM4 74h1v1h-1zM6 74h1v1h-1zM17 74h1v1h-1zM29 74h1v1h-1zM17 75h2v1h-2zM27 75h1v1h-1zM6 76h1v1h-1zM10 77h1v1h-1zM21 77h1v1h-1zM9 78h1v1h-1zM11 78h1v1h-1zM7 79h2v1h-2zM7 80h1v1h-1zM14 80h1v1h-1zM27 80h1v1h-1zM7 81h1v1h-1zM18 82h1v1h-1zM9 85h1v1h-1zM14 85h1v1h-1zM13 86h1v1h-1zM14 87h1v1h-1zM14 88h1v1h-1z" fill="#513490"/>
<path d="M53 6h1v1h-1zM1 9h1v1h-1zM42 9h1v1h-1zM47 9h1v1h-1zM50 9h1v1h-1zM38 10h1v1h-1zM40 10h1v1h-1zM42 10h1v1h-1zM46 10h1v1h-1zM60 10h1v1h-1zM38 11h1v1h-1zM45 11h1v1h-1zM83 11h1v1h-1zM0 12h1v1h-1zM42 12h1v1h-1zM46 12h1v1h-1zM43 13h1v1h-1zM17 16h1v1h-1zM10 18h1v1h-1zM83 19h1v1h-1zM12 21h1v1h-1zM7 23h1v1h-1zM9 24h1v1h-1zM74 28h1v1h-1zM10 30h1v1h-1zM49 56h1v1h-1zM17 59h1v1h-1zM26 60h1v1h-1zM47 60h1v1h-1zM25 61h1v1h-1zM47 62h1v1h-1zM23 63h1v1h-1zM27 64h1v1h-1zM26 65h1v1h-1zM21 76h2v1h-2zM27 76h2v1h-2zM9 77h1v1h-1zM18 77h1v1h-1zM22 77h1v1h-1zM24 78h1v1h-1zM12 79h1v1h-1zM23 79h1v1h-1zM8 80h2v1h-2zM13 80h1v1h-1zM22 81h1v1h-1zM3 82h1v1h-1zM16 82h1v1h-1zM22 82h1v1h-1zM15 85h1v1h-1zM10 86h1v1h-1zM13 87h1v1h-1zM13 88h1v1h-1z" fill="#4e358f"/>
<path d="M54 5h1v1h-1zM51 7h1v1h-1zM55 7h1v1h-1zM61 7h1v1h-1zM36 9h1v1h-1zM40 9h1v1h-1zM44 9h2v1h-2zM82 9h1v1h-1zM11 10h1v1h-1zM35 10h1v1h-1zM44 10h1v1h-1zM33 11h1v1h-1zM44 11h1v1h-1zM52 11h1v1h-1zM54 11h2v1h-2zM58 11h1v1h-1zM39 12h1v1h-1zM51 12h1v1h-1zM79 12h1v1h-1zM82 12h1v1h-1zM87 17h1v1h-1zM14 21h2v1h-2zM75 24h1v1h-1zM55 57h1v1h-1zM31 59h1v1h-1zM25 60h1v1h-1zM45 60h1v1h-1zM26 61h1v1h-1zM14 62h1v1h-1zM25 62h1v1h-1zM14 63h1v1h-1zM9 65h1v1h-1zM18 65h1v1h-1zM3 74h1v1h-1zM7 74h1v1h-1zM19 74h1v1h-1zM5 75h1v1h-1zM21 75h1v1h-1zM23 75h1v1h-1zM29 75h1v1h-1zM5 76h1v1h-1zM10 76h1v1h-1zM14 76h1v1h-1zM11 77h1v1h-1zM13 77h1v1h-1zM17 77h1v1h-1zM19 77h2v1h-2zM23 77h1v1h-1zM27 77h1v1h-1zM12 78h2v1h-2zM15 78h1v1h-1zM10 79h1v1h-1zM21 79h1v1h-1zM24 79h2v1h-2zM17 80h1v1h-1zM24 80h2v1h-2zM27 81h1v1h-1zM6 82h1v1h-1zM11 82h2v1h-2zM15 82h1v1h-1zM19 82h1v1h-1zM23 82h2v1h-2zM27 82h1v1h-1zM4 83h2v1h-2zM7 83h1v1h-1zM11 83h1v1h-1zM13 83h1v1h-1zM19 83h1v1h-1zM22 83h1v1h-1zM16 84h1v1h-1zM10 85h1v1h-1zM13 85h1v1h-1zM12 86h1v1h-1zM13 91h1v1h-1z" fill="#4b358e"/>
<path d="M50 8h1v1h-1zM35 9h1v1h-1zM37 9h1v1h-1zM39 9h1v1h-1zM41 9h1v1h-1zM46 9h1v1h-1zM83 9h1v1h-1zM2 10h1v1h-1zM37 10h1v1h-1zM49 10h1v1h-1zM51 10h1v1h-1zM33 12h1v1h-1zM13 19h1v1h-1zM3 22h1v1h-1zM11 23h1v1h-1zM49 60h1v1h-1zM26 62h1v1h-1zM38 63h1v1h-1zM47 63h1v1h-1zM23 64h1v1h-1zM28 64h1v1h-1zM38 64h1v1h-1zM25 65h1v1h-1zM50 65h1v1h-1zM50 66h1v1h-1zM29 67h1v1h-1zM11 70h1v1h-1zM28 70h1v1h-1zM31 72h1v1h-1zM5 74h1v1h-1zM8 74h1v1h-1zM11 74h1v1h-1zM18 74h1v1h-1zM23 74h2v1h-2zM13 75h1v1h-1zM15 75h1v1h-1zM19 75h1v1h-1zM24 75h1v1h-1zM47 75h1v1h-1zM15 76h1v1h-1zM17 76h3v1h-3zM24 76h1v1h-1zM3 77h1v1h-1zM8 77h1v1h-1zM12 77h1v1h-1zM6 78h1v1h-1zM10 78h1v1h-1zM14 78h1v1h-1zM18 78h2v1h-2zM21 78h1v1h-1zM11 79h1v1h-1zM20 79h1v1h-1zM22 79h1v1h-1zM10 80h2v1h-2zM16 80h1v1h-1zM20 80h2v1h-2zM9 82h1v1h-1zM8 83h3v1h-3zM15 83h1v1h-1zM23 83h1v1h-1zM10 84h1v1h-1zM11 86h1v1h-1zM14 91h1v1h-1z" fill="#48358d"/>
<path d="M59 5h1v1h-1zM55 6h1v1h-1zM48 8h2v1h-2zM0 9h1v1h-1zM34 9h1v1h-1zM49 9h1v1h-1zM39 10h1v1h-1zM45 10h1v1h-1zM53 10h1v1h-1zM58 10h1v1h-1zM39 11h2v1h-2zM41 12h1v1h-1zM81 12h1v1h-1zM1 14h1v1h-1zM12 17h1v1h-1zM7 22h1v1h-1zM12 22h1v1h-1zM18 24h1v1h-1zM29 25h1v1h-1zM55 54h1v1h-1zM19 58h1v1h-1zM18 59h1v1h-1zM51 60h1v1h-1zM17 61h1v1h-1zM25 63h1v1h-1zM28 65h1v1h-1zM48 65h2v1h-2zM18 66h2v1h-2zM11 67h1v1h-1zM33 67h1v1h-1zM20 68h1v1h-1zM49 68h1v1h-1zM16 69h1v1h-1zM19 69h1v1h-1zM48 69h1v1h-1zM3 72h1v1h-1zM17 72h1v1h-1zM30 72h1v1h-1zM3 73h1v1h-1zM7 73h1v1h-1zM10 73h1v1h-1zM20 73h1v1h-1zM9 74h2v1h-2zM12 74h1v1h-1zM6 75h4v1h-4zM11 75h1v1h-1zM8 76h1v1h-1zM11 76h1v1h-1zM16 76h1v1h-1zM5 77h1v1h-1zM14 77h2v1h-2zM16 78h2v1h-2zM20 78h1v1h-1zM15 79h2v1h-2zM18 79h1v1h-1zM12 80h1v1h-1zM15 80h1v1h-1zM22 80h2v1h-2zM26 80h1v1h-1zM11 81h1v1h-1zM13 81h2v1h-2zM16 81h1v1h-1zM20 82h1v1h-1zM14 83h1v1h-1zM20 83h1v1h-1zM5 84h2v1h-2zM8 84h1v1h-1zM11 84h2v1h-2zM14 84h1v1h-1zM11 85h1v1h-1zM9 86h1v1h-1z" fill="#45358b"/>
<path d="M52 7h1v1h-1zM55 8h1v1h-1zM59 9h1v1h-1zM81 9h1v1h-1zM34 10h1v1h-1zM43 10h1v1h-1zM47 10h1v1h-1zM50 10h1v1h-1zM34 11h1v1h-1zM41 11h1v1h-1zM79 11h1v1h-1zM52 12h1v1h-1zM83 12h1v1h-1zM46 13h1v1h-1zM16 15h1v1h-1zM13 17h1v1h-1zM27 19h1v1h-1zM17 21h1v1h-1zM11 24h1v1h-1zM25 25h1v1h-1zM7 27h1v1h-1zM53 55h1v1h-1zM48 57h1v1h-1zM16 58h1v1h-1zM22 61h1v1h-1zM24 62h1v1h-1zM48 62h1v1h-1zM11 63h1v1h-1zM24 63h1v1h-1zM48 64h1v1h-1zM51 65h1v1h-1zM47 66h2v1h-2zM51 67h1v1h-1zM48 68h1v1h-1zM2 70h1v1h-1zM12 70h1v1h-1zM26 70h1v1h-1zM31 70h2v1h-2zM19 71h1v1h-1zM6 73h1v1h-1zM8 73h1v1h-1zM14 73h1v1h-1zM17 73h2v1h-2zM26 73h2v1h-2zM16 74h1v1h-1zM47 74h1v1h-1zM10 75h1v1h-1zM12 75h1v1h-1zM3 76h2v1h-2zM4 77h1v1h-1zM16 77h1v1h-1zM28 79h1v1h-1zM19 80h1v1h-1zM9 81h1v1h-1zM19 81h1v1h-1zM13 82h1v1h-1zM6 85h1v1h-1zM12 85h1v1h-1zM15 86h1v1h-1z" fill="#41368a"/>
<path d="M38 9h1v1h-1zM54 9h2v1h-2zM61 10h1v1h-1zM42 11h1v1h-1zM47 11h2v1h-2zM57 11h1v1h-1zM63 11h1v1h-1zM50 12h1v1h-1zM62 12h1v1h-1zM54 13h1v1h-1zM14 18h2v1h-2zM11 20h2v1h-2zM13 21h1v1h-1zM9 26h1v1h-1zM12 27h1v1h-1zM85 54h1v1h-1zM25 59h1v1h-1zM43 59h1v1h-1zM23 60h2v1h-2zM30 60h1v1h-1zM32 60h1v1h-1zM44 60h1v1h-1zM48 60h1v1h-1zM27 61h1v1h-1zM11 62h1v1h-1zM27 62h1v1h-1zM17 63h1v1h-1zM48 63h1v1h-1zM33 64h1v1h-1zM47 64h1v1h-1zM51 64h1v1h-1zM11 65h2v1h-2zM11 66h1v1h-1zM34 66h1v1h-1zM10 67h1v1h-1zM13 67h1v1h-1zM27 67h1v1h-1zM48 67h1v1h-1zM50 67h1v1h-1zM19 68h1v1h-1zM50 68h1v1h-1zM33 69h1v1h-1zM3 70h1v1h-1zM18 70h4v1h-4zM10 71h1v1h-1zM18 71h1v1h-1zM27 71h1v1h-1zM8 72h1v1h-1zM25 72h1v1h-1zM27 72h1v1h-1zM16 73h1v1h-1zM23 73h1v1h-1zM25 73h1v1h-1zM14 74h1v1h-1zM21 74h1v1h-1zM38 74h1v1h-1zM3 75h1v1h-1zM45 75h1v1h-1zM18 80h1v1h-1zM25 81h1v1h-1zM28 81h1v1h-1zM14 82h1v1h-1zM4 84h1v1h-1zM7 84h1v1h-1zM13 84h1v1h-1z" fill="#3e3689"/>
<path d="M54 4h1v1h-1zM63 4h1v1h-1zM51 6h1v1h-1zM58 6h1v1h-1zM47 7h1v1h-1zM53 7h1v1h-1zM62 9h1v1h-1zM52 10h1v1h-1zM37 11h1v1h-1zM38 12h1v1h-1zM44 12h1v1h-1zM47 12h1v1h-1zM56 12h1v1h-1zM44 13h1v1h-1zM10 16h1v1h-1zM28 18h1v1h-1zM22 21h1v1h-1zM9 28h1v1h-1zM83 54h1v1h-1zM48 55h1v1h-1zM17 56h1v1h-1zM50 56h1v1h-1zM50 59h1v1h-1zM46 60h1v1h-1zM50 61h1v1h-1zM8 62h1v1h-1zM12 62h1v1h-1zM20 62h1v1h-1zM22 62h1v1h-1zM50 62h1v1h-1zM13 63h1v1h-1zM22 63h1v1h-1zM49 63h1v1h-1zM12 64h1v1h-1zM16 64h1v1h-1zM18 64h2v1h-2zM30 64h1v1h-1zM10 65h1v1h-1zM14 65h1v1h-1zM17 65h1v1h-1zM17 66h1v1h-1zM20 66h1v1h-1zM30 66h1v1h-1zM49 66h1v1h-1zM12 67h1v1h-1zM14 67h1v1h-1zM18 67h1v1h-1zM20 67h1v1h-1zM34 67h1v1h-1zM21 68h1v1h-1zM26 68h1v1h-1zM10 69h1v1h-1zM12 69h2v1h-2zM15 69h1v1h-1zM20 69h1v1h-1zM49 69h1v1h-1zM15 70h1v1h-1zM17 70h1v1h-1zM47 70h2v1h-2zM9 71h1v1h-1zM11 71h1v1h-1zM16 71h1v1h-1zM30 71h4v1h-4zM36 71h1v1h-1zM49 71h1v1h-1zM4 72h1v1h-1zM7 72h1v1h-1zM9 72h1v1h-1zM19 72h1v1h-1zM32 72h1v1h-1zM35 72h1v1h-1zM12 73h1v1h-1zM41 74h2v1h-2zM43 75h1v1h-1zM23 78h1v1h-1zM28 80h1v1h-1zM18 81h1v1h-1zM5 85h1v1h-1zM8 85h1v1h-1z" fill="#3b3687"/>
<path d="M52 5h1v1h-1zM52 6h1v1h-1zM61 6h1v1h-1zM59 8h1v1h-1zM78 8h1v1h-1zM54 10h1v1h-1zM1 11h1v1h-1zM51 11h1v1h-1zM33 13h1v1h-1zM18 16h1v1h-1zM17 17h2v1h-2zM12 18h1v1h-1zM16 18h1v1h-1zM6 25h1v1h-1zM47 55h1v1h-1zM47 57h1v1h-1zM52 57h1v1h-1zM48 58h1v1h-1zM3 59h1v1h-1zM6 59h1v1h-1zM49 59h1v1h-1zM16 60h2v1h-2zM21 60h1v1h-1zM23 61h1v1h-1zM46 61h1v1h-1zM15 62h1v1h-1zM27 63h1v1h-1zM45 63h1v1h-1zM14 64h1v1h-1zM39 64h1v1h-1zM15 65h1v1h-1zM23 65h1v1h-1zM47 65h1v1h-1zM12 66h5v1h-5zM0 67h1v1h-1zM19 67h1v1h-1zM28 67h1v1h-1zM32 67h1v1h-1zM11 68h3v1h-3zM18 68h1v1h-1zM23 68h1v1h-1zM28 68h1v1h-1zM16 70h1v1h-1zM27 70h1v1h-1zM34 70h1v1h-1zM8 71h1v1h-1zM21 71h1v1h-1zM25 71h1v1h-1zM10 72h1v1h-1zM12 72h1v1h-1zM18 72h1v1h-1zM47 72h1v1h-1zM4 73h1v1h-1zM9 73h1v1h-1zM11 73h1v1h-1zM29 73h1v1h-1zM30 74h1v1h-1zM40 74h1v1h-1zM43 74h2v1h-2zM30 75h1v1h-1zM36 75h2v1h-2zM7 85h1v1h-1z" fill="#383686"/>
<path d="M58 4h1v1h-1zM78 7h1v1h-1zM51 8h1v1h-1zM80 8h1v1h-1zM53 9h1v1h-1zM1 10h1v1h-1zM62 10h1v1h-1zM59 11h1v1h-1zM80 11h1v1h-1zM34 12h1v1h-1zM48 12h1v1h-1zM38 13h1v1h-1zM52 13h1v1h-1zM75 13h1v1h-1zM45 15h1v1h-1zM11 16h1v1h-1zM29 16h1v1h-1zM14 19h1v1h-1zM13 20h1v1h-1zM37 20h1v1h-1zM20 26h1v1h-1zM18 56h1v1h-1zM54 57h1v1h-1zM32 58h1v1h-1zM37 58h1v1h-1zM55 58h1v1h-1zM14 59h1v1h-1zM16 59h1v1h-1zM53 59h1v1h-1zM55 59h1v1h-1zM0 60h1v1h-1zM18 60h1v1h-1zM27 60h1v1h-1zM11 61h1v1h-1zM14 61h1v1h-1zM16 61h1v1h-1zM16 62h1v1h-1zM38 62h1v1h-1zM16 63h1v1h-1zM50 63h1v1h-1zM0 64h1v1h-1zM11 64h1v1h-1zM13 64h1v1h-1zM16 65h1v1h-1zM24 65h1v1h-1zM32 65h1v1h-1zM0 66h1v1h-1zM10 66h1v1h-1zM24 66h1v1h-1zM15 67h1v1h-1zM22 67h1v1h-1zM10 68h1v1h-1zM17 68h1v1h-1zM47 68h1v1h-1zM2 69h2v1h-2zM5 69h1v1h-1zM14 69h1v1h-1zM18 69h1v1h-1zM21 69h1v1h-1zM27 69h1v1h-1zM47 69h1v1h-1zM6 70h1v1h-1zM8 70h1v1h-1zM14 70h1v1h-1zM23 70h1v1h-1zM30 70h1v1h-1zM4 71h1v1h-1zM14 71h2v1h-2zM22 71h1v1h-1zM39 71h1v1h-1zM48 71h1v1h-1zM26 72h1v1h-1zM21 73h1v1h-1zM30 73h1v1h-1zM33 73h1v1h-1zM44 73h1v1h-1zM46 73h1v1h-1zM31 74h1v1h-1zM34 74h1v1h-1zM37 74h1v1h-1zM46 74h1v1h-1zM34 75h1v1h-1zM38 75h2v1h-2zM45 76h2v1h-2zM47 78h1v1h-1z" fill="#353685"/>
<path d="M55 5h1v1h-1zM60 5h1v1h-1zM54 7h1v1h-1zM59 7h2v1h-2zM47 8h1v1h-1zM52 8h1v1h-1zM57 9h1v1h-1zM50 11h1v1h-1zM37 12h1v1h-1zM58 12h1v1h-1zM0 15h1v1h-1zM14 15h1v1h-1zM16 16h1v1h-1zM23 20h1v1h-1zM23 21h1v1h-1zM15 23h1v1h-1zM17 24h1v1h-1zM30 24h1v1h-1zM16 25h2v1h-2zM22 26h1v1h-1zM15 27h1v1h-1zM9 29h1v1h-1zM14 46h1v1h-1zM82 51h1v1h-1zM17 55h1v1h-1zM19 55h1v1h-1zM80 55h1v1h-1zM55 56h1v1h-1zM18 57h2v1h-2zM20 58h1v1h-1zM31 58h1v1h-1zM22 60h1v1h-1zM28 60h1v1h-1zM15 61h1v1h-1zM45 61h1v1h-1zM37 62h1v1h-1zM45 62h1v1h-1zM1 63h1v1h-1zM12 63h1v1h-1zM15 63h1v1h-1zM52 63h1v1h-1zM2 64h1v1h-1zM8 64h1v1h-1zM10 64h1v1h-1zM15 64h1v1h-1zM17 64h1v1h-1zM52 64h1v1h-1zM3 65h1v1h-1zM13 65h1v1h-1zM21 65h1v1h-1zM27 65h1v1h-1zM30 65h1v1h-1zM23 66h1v1h-1zM8 67h1v1h-1zM31 67h1v1h-1zM47 67h1v1h-1zM14 68h1v1h-1zM22 68h1v1h-1zM24 68h1v1h-1zM17 69h1v1h-1zM23 69h2v1h-2zM7 70h1v1h-1zM10 70h1v1h-1zM13 70h1v1h-1zM29 70h1v1h-1zM6 71h1v1h-1zM24 71h1v1h-1zM26 71h1v1h-1zM47 71h1v1h-1zM5 72h1v1h-1zM13 72h1v1h-1zM15 72h2v1h-2zM36 72h1v1h-1zM5 73h1v1h-1zM15 73h1v1h-1zM22 73h1v1h-1zM37 73h1v1h-1zM42 73h2v1h-2zM45 73h1v1h-1zM32 74h1v1h-1zM36 74h1v1h-1zM48 74h1v1h-1zM32 75h2v1h-2zM40 75h1v1h-1zM47 76h1v1h-1zM33 85h1v1h-1z" fill="#313783"/>
<path d="M59 4h1v1h-1zM62 6h1v1h-1zM58 8h1v1h-1zM65 8h1v1h-1zM56 9h1v1h-1zM67 9h1v1h-1zM56 11h1v1h-1zM40 12h1v1h-1zM57 12h1v1h-1zM2 13h1v1h-1zM45 13h1v1h-1zM47 13h1v1h-1zM66 13h1v1h-1zM16 17h1v1h-1zM28 17h1v1h-1zM9 18h1v1h-1zM24 18h1v1h-1zM16 21h1v1h-1zM36 21h1v1h-1zM8 24h1v1h-1zM15 24h1v1h-1zM19 25h1v1h-1zM16 26h1v1h-1zM11 29h1v1h-1zM30 32h1v1h-1zM71 32h1v1h-1zM49 54h1v1h-1zM13 55h1v1h-1zM48 56h1v1h-1zM51 57h1v1h-1zM17 58h1v1h-1zM33 58h1v1h-1zM4 59h2v1h-2zM15 59h1v1h-1zM20 59h1v1h-1zM33 59h1v1h-1zM45 59h1v1h-1zM6 60h1v1h-1zM8 60h1v1h-1zM29 60h1v1h-1zM20 61h2v1h-2zM48 61h1v1h-1zM9 62h1v1h-1zM13 62h1v1h-1zM46 62h1v1h-1zM8 63h1v1h-1zM35 63h1v1h-1zM20 64h1v1h-1zM7 65h1v1h-1zM43 65h1v1h-1zM52 65h1v1h-1zM3 66h1v1h-1zM25 66h1v1h-1zM27 66h1v1h-1zM32 66h1v1h-1zM37 66h1v1h-1zM16 67h1v1h-1zM21 67h1v1h-1zM25 67h1v1h-1zM30 67h1v1h-1zM35 67h1v1h-1zM3 68h1v1h-1zM25 68h1v1h-1zM6 69h1v1h-1zM22 69h1v1h-1zM25 69h2v1h-2zM28 69h1v1h-1zM24 70h1v1h-1zM37 70h2v1h-2zM5 71h1v1h-1zM12 71h2v1h-2zM29 71h1v1h-1zM23 72h2v1h-2zM28 72h2v1h-2zM28 73h1v1h-1zM36 73h1v1h-1zM39 73h2v1h-2zM35 74h1v1h-1zM41 75h2v1h-2zM43 76h1v1h-1zM46 77h1v1h-1zM34 78h1v1h-1zM48 78h1v1h-1zM46 79h1v1h-1zM57 83h1v1h-1zM37 93h1v1h-1z" fill="#2e3782"/>
<path d="M55 4h1v1h-1zM62 4h1v1h-1zM79 4h1v1h-1zM53 5h1v1h-1zM78 5h1v1h-1zM80 5h1v1h-1zM73 6h1v1h-1zM81 6h1v1h-1zM79 8h1v1h-1zM32 9h1v1h-1zM78 9h1v1h-1zM80 9h1v1h-1zM55 10h1v1h-1zM66 11h1v1h-1zM36 13h2v1h-2zM32 16h1v1h-1zM27 17h1v1h-1zM29 17h1v1h-1zM22 19h1v1h-1zM18 20h1v1h-1zM18 22h1v1h-1zM16 23h1v1h-1zM13 25h1v1h-1zM19 26h1v1h-1zM11 28h1v1h-1zM6 46h1v1h-1zM15 47h1v1h-1zM79 51h1v1h-1zM49 53h1v1h-1zM16 56h1v1h-1zM52 56h1v1h-1zM51 58h1v1h-1zM2 59h1v1h-1zM11 59h1v1h-1zM42 59h1v1h-1zM54 59h1v1h-1zM1 60h2v1h-2zM12 61h1v1h-1zM31 61h1v1h-1zM38 61h1v1h-1zM1 62h1v1h-1zM10 62h1v1h-1zM17 62h1v1h-1zM19 62h1v1h-1zM21 62h1v1h-1zM23 62h1v1h-1zM28 62h1v1h-1zM39 62h2v1h-2zM2 63h1v1h-1zM4 63h1v1h-1zM18 63h2v1h-2zM28 63h1v1h-1zM33 63h1v1h-1zM39 63h1v1h-1zM6 64h2v1h-2zM21 64h1v1h-1zM31 65h1v1h-1zM41 65h1v1h-1zM1 66h2v1h-2zM21 66h1v1h-1zM29 66h1v1h-1zM3 67h2v1h-2zM7 67h1v1h-1zM23 67h1v1h-1zM26 67h1v1h-1zM37 67h1v1h-1zM7 68h1v1h-1zM31 68h2v1h-2zM35 68h1v1h-1zM4 69h1v1h-1zM4 70h2v1h-2zM42 70h1v1h-1zM23 71h1v1h-1zM35 71h1v1h-1zM38 71h1v1h-1zM21 72h1v1h-1zM33 72h1v1h-1zM32 73h1v1h-1zM35 75h1v1h-1zM30 76h1v1h-1zM33 76h1v1h-1zM48 76h1v1h-1zM49 78h1v1h-1zM30 79h1v1h-1zM48 79h1v1h-1zM31 85h1v1h-1zM41 91h1v1h-1z" fill="#2b3781"/>
<path d="M57 4h1v1h-1zM60 4h1v1h-1zM56 5h1v1h-1zM59 6h1v1h-1zM54 8h1v1h-1zM74 9h1v1h-1zM59 10h1v1h-1zM3 11h1v1h-1zM48 13h1v1h-1zM55 13h1v1h-1zM78 13h1v1h-1zM15 15h1v1h-1zM7 19h1v1h-1zM18 19h1v1h-1zM25 19h1v1h-1zM24 21h1v1h-1zM17 23h1v1h-1zM20 23h1v1h-1zM22 23h1v1h-1zM36 23h1v1h-1zM20 24h1v1h-1zM29 24h1v1h-1zM31 24h1v1h-1zM22 25h1v1h-1zM8 30h1v1h-1zM47 35h1v1h-1zM47 52h1v1h-1zM16 55h1v1h-1zM50 55h1v1h-1zM17 57h1v1h-1zM21 57h1v1h-1zM29 58h1v1h-1zM35 58h1v1h-1zM52 58h1v1h-1zM0 59h1v1h-1zM7 59h1v1h-1zM4 60h1v1h-1zM19 60h1v1h-1zM42 60h1v1h-1zM52 60h1v1h-1zM33 61h1v1h-1zM47 61h1v1h-1zM49 61h1v1h-1zM29 62h1v1h-1zM43 62h1v1h-1zM21 63h1v1h-1zM3 64h2v1h-2zM0 65h2v1h-2zM8 65h1v1h-1zM22 66h1v1h-1zM1 67h1v1h-1zM9 67h1v1h-1zM4 68h1v1h-1zM6 68h1v1h-1zM8 68h2v1h-2zM27 68h1v1h-1zM7 69h1v1h-1zM39 69h1v1h-1zM39 70h2v1h-2zM34 71h1v1h-1zM43 71h1v1h-1zM22 72h1v1h-1zM34 72h1v1h-1zM38 72h1v1h-1zM44 72h1v1h-1zM35 73h1v1h-1zM33 74h1v1h-1zM42 76h1v1h-1zM44 76h1v1h-1zM34 77h1v1h-1zM50 77h1v1h-1zM44 78h1v1h-1zM46 78h1v1h-1zM32 79h1v1h-1zM38 79h2v1h-2zM47 79h1v1h-1zM56 79h1v1h-1zM57 81h1v1h-1zM38 82h1v1h-1zM32 84h1v1h-1zM54 85h1v1h-1zM39 93h1v1h-1zM37 95h1v1h-1zM39 95h1v1h-1zM37 97h1v1h-1z" fill="#28377f"/>
<path d="M61 4h1v1h-1zM61 5h1v1h-1zM56 6h2v1h-2zM64 9h1v1h-1zM56 10h1v1h-1zM5 13h1v1h-1zM49 13h1v1h-1zM60 13h1v1h-1zM28 16h1v1h-1zM25 17h1v1h-1zM9 19h1v1h-1zM67 21h1v1h-1zM36 22h1v1h-1zM10 24h1v1h-1zM24 24h1v1h-1zM12 25h1v1h-1zM27 25h2v1h-2zM48 32h1v1h-1zM83 53h1v1h-1zM14 54h1v1h-1zM48 54h1v1h-1zM86 55h1v1h-1zM81 56h1v1h-1zM46 57h1v1h-1zM4 58h1v1h-1zM10 58h1v1h-1zM18 58h1v1h-1zM53 58h1v1h-1zM13 59h1v1h-1zM19 59h1v1h-1zM30 59h1v1h-1zM32 59h1v1h-1zM37 59h1v1h-1zM39 59h1v1h-1zM48 59h1v1h-1zM51 59h1v1h-1zM3 60h1v1h-1zM5 60h1v1h-1zM13 60h2v1h-2zM31 60h1v1h-1zM3 61h1v1h-1zM30 61h1v1h-1zM0 62h1v1h-1zM34 62h1v1h-1zM49 62h1v1h-1zM37 63h1v1h-1zM51 63h1v1h-1zM22 64h1v1h-1zM2 65h1v1h-1zM4 65h1v1h-1zM34 65h1v1h-1zM8 66h1v1h-1zM35 66h1v1h-1zM5 67h1v1h-1zM24 67h1v1h-1zM42 67h1v1h-1zM5 68h1v1h-1zM38 68h1v1h-1zM8 69h2v1h-2zM38 69h1v1h-1zM41 69h1v1h-1zM33 70h1v1h-1zM41 70h1v1h-1zM37 71h1v1h-1zM40 71h1v1h-1zM45 71h1v1h-1zM14 72h1v1h-1zM45 72h1v1h-1zM34 73h1v1h-1zM47 73h1v1h-1zM35 76h2v1h-2zM38 76h1v1h-1zM40 76h1v1h-1zM31 77h2v1h-2zM37 77h1v1h-1zM42 77h4v1h-4zM49 77h1v1h-1zM54 77h1v1h-1zM57 77h1v1h-1zM39 78h1v1h-1zM56 78h1v1h-1zM35 79h1v1h-1zM50 79h2v1h-2zM34 80h1v1h-1zM38 80h1v1h-1zM48 80h1v1h-1zM55 80h1v1h-1zM31 81h1v1h-1zM34 81h1v1h-1zM38 81h1v1h-1zM55 82h1v1h-1zM32 83h2v1h-2zM57 85h1v1h-1zM42 86h1v1h-1zM52 88h1v1h-1zM42 93h1v1h-1zM37 96h1v1h-1z" fill="#25377e"/>
<path d="M56 4h1v1h-1zM66 5h1v1h-1zM63 6h1v1h-1zM57 7h1v1h-1zM76 7h1v1h-1zM82 7h1v1h-1zM70 8h1v1h-1zM73 8h1v1h-1zM83 8h1v1h-1zM66 9h1v1h-1zM69 9h1v1h-1zM32 10h1v1h-1zM64 10h1v1h-1zM32 11h1v1h-1zM78 11h1v1h-1zM36 12h1v1h-1zM64 12h1v1h-1zM78 12h1v1h-1zM84 12h1v1h-1zM34 13h1v1h-1zM39 13h1v1h-1zM41 13h1v1h-1zM50 13h1v1h-1zM53 13h1v1h-1zM56 13h1v1h-1zM58 13h1v1h-1zM68 13h1v1h-1zM77 15h1v1h-1zM79 16h1v1h-1zM26 18h1v1h-1zM17 19h1v1h-1zM31 19h1v1h-1zM21 20h1v1h-1zM80 20h1v1h-1zM29 21h1v1h-1zM15 22h1v1h-1zM18 23h1v1h-1zM41 23h1v1h-1zM24 26h2v1h-2zM66 26h1v1h-1zM17 27h1v1h-1zM7 30h1v1h-1zM17 31h1v1h-1zM9 32h1v1h-1zM47 33h1v1h-1zM30 48h1v1h-1zM12 49h1v1h-1zM29 49h1v1h-1zM31 50h1v1h-1zM28 51h1v1h-1zM80 51h1v1h-1zM86 52h1v1h-1zM84 53h1v1h-1zM18 54h1v1h-1zM47 54h1v1h-1zM53 54h1v1h-1zM49 55h1v1h-1zM5 56h1v1h-1zM21 56h1v1h-1zM54 56h1v1h-1zM5 58h1v1h-1zM47 58h1v1h-1zM49 58h1v1h-1zM9 59h1v1h-1zM22 59h1v1h-1zM24 59h1v1h-1zM26 59h4v1h-4zM44 59h1v1h-1zM46 59h1v1h-1zM10 60h1v1h-1zM12 60h1v1h-1zM15 60h1v1h-1zM43 60h1v1h-1zM1 61h1v1h-1zM4 61h1v1h-1zM10 61h1v1h-1zM39 61h1v1h-1zM3 62h1v1h-1zM30 62h1v1h-1zM20 63h1v1h-1zM41 63h1v1h-1zM46 63h1v1h-1zM29 64h1v1h-1zM32 64h1v1h-1zM35 64h1v1h-1zM42 64h1v1h-1zM5 65h1v1h-1zM29 65h1v1h-1zM33 65h1v1h-1zM4 66h1v1h-1zM9 66h1v1h-1zM42 66h1v1h-1zM2 67h1v1h-1zM36 67h1v1h-1zM38 67h1v1h-1zM29 68h1v1h-1zM36 68h1v1h-1zM29 69h2v1h-2zM34 69h1v1h-1zM37 69h1v1h-1zM42 69h2v1h-2zM37 72h1v1h-1zM40 72h1v1h-1zM31 73h1v1h-1zM41 73h1v1h-1zM48 73h1v1h-1zM34 76h1v1h-1zM49 76h1v1h-1zM35 77h1v1h-1zM38 77h1v1h-1zM41 77h1v1h-1zM31 78h1v1h-1zM33 78h1v1h-1zM36 78h1v1h-1zM40 78h1v1h-1zM43 78h1v1h-1zM54 78h1v1h-1zM44 79h1v1h-1zM30 80h2v1h-2zM33 80h1v1h-1zM44 80h2v1h-2zM51 80h2v1h-2zM30 81h1v1h-1zM36 81h1v1h-1zM43 81h1v1h-1zM47 81h1v1h-1zM49 81h1v1h-1zM31 82h1v1h-1zM40 82h1v1h-1zM56 82h1v1h-1zM58 83h1v1h-1zM33 84h1v1h-1zM35 84h1v1h-1zM32 85h1v1h-1zM34 85h1v1h-1zM32 87h1v1h-1zM48 87h1v1h-1zM51 87h1v1h-1zM53 87h2v1h-2zM49 88h1v1h-1zM38 90h1v1h-1zM41 90h1v1h-1zM39 91h1v1h-1zM43 91h1v1h-1zM38 93h1v1h-1zM40 93h1v1h-1zM43 94h1v1h-1zM38 95h1v1h-1z" fill="#21387d"/>
<path d="M57 5h1v1h-1zM65 5h1v1h-1zM75 6h1v1h-1zM64 7h1v1h-1zM75 7h1v1h-1zM60 8h1v1h-1zM62 8h1v1h-1zM61 12h1v1h-1zM32 13h1v1h-1zM2 14h1v1h-1zM2 15h1v1h-1zM27 16h1v1h-1zM31 16h1v1h-1zM0 17h1v1h-1zM23 17h1v1h-1zM30 17h1v1h-1zM18 18h1v1h-1zM11 19h1v1h-1zM15 19h1v1h-1zM20 19h2v1h-2zM26 20h1v1h-1zM38 20h1v1h-1zM79 20h1v1h-1zM34 21h1v1h-1zM66 23h1v1h-1zM12 24h1v1h-1zM21 25h1v1h-1zM24 25h1v1h-1zM70 25h2v1h-2zM21 27h1v1h-1zM15 45h1v1h-1zM5 46h1v1h-1zM7 47h1v1h-1zM9 47h1v1h-1zM13 48h1v1h-1zM29 48h1v1h-1zM60 49h1v1h-1zM30 51h1v1h-1zM49 51h1v1h-1zM66 52h1v1h-1zM81 52h1v1h-1zM30 53h1v1h-1zM80 53h1v1h-1zM12 54h1v1h-1zM17 54h1v1h-1zM79 54h2v1h-2zM18 55h1v1h-1zM81 55h1v1h-1zM14 56h1v1h-1zM6 57h1v1h-1zM1 58h3v1h-3zM8 58h1v1h-1zM38 58h1v1h-1zM40 58h1v1h-1zM11 60h1v1h-1zM8 61h1v1h-1zM13 61h1v1h-1zM4 62h1v1h-1zM6 62h1v1h-1zM35 62h1v1h-1zM3 63h1v1h-1zM10 63h1v1h-1zM29 63h1v1h-1zM5 64h1v1h-1zM31 64h1v1h-1zM34 64h1v1h-1zM37 64h1v1h-1zM46 64h1v1h-1zM6 65h1v1h-1zM37 65h2v1h-2zM6 66h1v1h-1zM33 66h1v1h-1zM45 66h1v1h-1zM6 67h1v1h-1zM41 67h1v1h-1zM30 68h1v1h-1zM37 68h1v1h-1zM36 69h1v1h-1zM35 70h1v1h-1zM42 71h1v1h-1zM41 72h2v1h-2zM31 75h1v1h-1zM37 76h1v1h-1zM39 76h1v1h-1zM39 77h1v1h-1zM37 78h2v1h-2zM50 78h2v1h-2zM31 79h1v1h-1zM33 79h2v1h-2zM40 79h2v1h-2zM43 79h1v1h-1zM45 79h1v1h-1zM55 79h1v1h-1zM32 80h1v1h-1zM35 80h1v1h-1zM39 80h2v1h-2zM46 80h2v1h-2zM57 80h1v1h-1zM35 81h1v1h-1zM56 81h1v1h-1zM32 82h1v1h-1zM36 82h1v1h-1zM39 82h1v1h-1zM47 82h1v1h-1zM50 82h2v1h-2zM40 83h1v1h-1zM42 83h1v1h-1zM50 83h1v1h-1zM56 83h1v1h-1zM31 84h1v1h-1zM57 84h3v1h-3zM55 85h1v1h-1zM58 85h1v1h-1zM33 86h1v1h-1zM55 86h1v1h-1zM34 87h1v1h-1zM42 87h1v1h-1zM59 87h1v1h-1zM43 89h2v1h-2zM35 91h1v1h-1zM37 91h1v1h-1zM40 91h1v1h-1zM37 94h1v1h-1zM39 94h1v1h-1z" fill="#1e387b"/>
<path d="M66 4h1v1h-1zM69 5h1v1h-1zM63 7h1v1h-1zM81 8h1v1h-1zM3 9h1v1h-1zM65 9h1v1h-1zM5 10h1v1h-1zM63 10h1v1h-1zM65 10h1v1h-1zM61 11h1v1h-1zM67 11h1v1h-1zM76 11h1v1h-1zM32 12h1v1h-1zM49 12h1v1h-1zM35 13h1v1h-1zM59 13h1v1h-1zM5 14h1v1h-1zM45 14h2v1h-2zM77 14h1v1h-1zM81 14h1v1h-1zM17 15h1v1h-1zM44 15h1v1h-1zM30 16h1v1h-1zM27 18h1v1h-1zM36 18h1v1h-1zM19 19h1v1h-1zM24 19h1v1h-1zM55 20h1v1h-1zM67 20h1v1h-1zM37 21h1v1h-1zM42 21h1v1h-1zM55 21h1v1h-1zM16 22h1v1h-1zM26 22h1v1h-1zM30 22h1v1h-1zM34 22h1v1h-1zM75 23h1v1h-1zM27 24h1v1h-1zM29 26h1v1h-1zM13 27h1v1h-1zM28 27h1v1h-1zM33 27h1v1h-1zM12 32h1v1h-1zM14 32h1v1h-1zM31 33h1v1h-1zM11 46h1v1h-1zM30 46h1v1h-1zM12 47h1v1h-1zM16 47h1v1h-1zM32 47h1v1h-1zM10 48h1v1h-1zM17 48h1v1h-1zM30 49h1v1h-1zM30 50h1v1h-1zM81 51h1v1h-1zM14 52h1v1h-1zM86 53h2v1h-2zM4 55h1v1h-1zM14 55h1v1h-1zM51 55h1v1h-1zM55 55h1v1h-1zM79 56h1v1h-1zM8 57h1v1h-1zM23 57h1v1h-1zM0 58h1v1h-1zM22 58h1v1h-1zM24 58h1v1h-1zM30 58h1v1h-1zM41 58h1v1h-1zM43 58h1v1h-1zM45 58h1v1h-1zM23 59h1v1h-1zM36 59h1v1h-1zM38 59h1v1h-1zM7 60h1v1h-1zM41 60h1v1h-1zM53 60h1v1h-1zM34 61h1v1h-1zM44 61h1v1h-1zM5 62h1v1h-1zM7 62h1v1h-1zM18 62h1v1h-1zM41 62h2v1h-2zM51 62h1v1h-1zM31 63h1v1h-1zM34 63h1v1h-1zM40 63h1v1h-1zM9 64h1v1h-1zM41 64h1v1h-1zM43 64h3v1h-3zM22 65h1v1h-1zM46 65h1v1h-1zM5 66h1v1h-1zM7 66h1v1h-1zM31 66h1v1h-1zM40 66h1v1h-1zM45 67h1v1h-1zM34 68h1v1h-1zM40 68h1v1h-1zM32 69h1v1h-1zM35 69h1v1h-1zM36 70h1v1h-1zM51 76h1v1h-1zM30 77h1v1h-1zM33 77h1v1h-1zM36 77h1v1h-1zM51 77h1v1h-1zM53 77h1v1h-1zM41 78h1v1h-1zM55 78h1v1h-1zM58 78h1v1h-1zM42 79h1v1h-1zM53 79h1v1h-1zM41 80h2v1h-2zM50 80h1v1h-1zM56 80h1v1h-1zM37 81h1v1h-1zM45 81h1v1h-1zM37 82h1v1h-1zM42 82h1v1h-1zM44 82h1v1h-1zM54 82h1v1h-1zM39 83h1v1h-1zM37 84h1v1h-1zM40 84h1v1h-1zM48 84h1v1h-1zM55 84h1v1h-1zM40 85h3v1h-3zM44 85h1v1h-1zM49 85h2v1h-2zM52 85h1v1h-1zM34 86h1v1h-1zM44 86h2v1h-2zM52 86h1v1h-1zM39 87h1v1h-1zM37 88h1v1h-1zM43 88h1v1h-1zM42 89h1v1h-1zM34 91h1v1h-1zM38 91h1v1h-1zM42 91h1v1h-1zM35 92h1v1h-1zM40 92h1v1h-1zM42 92h1v1h-1zM42 94h1v1h-1z" fill="#1b387a"/>
<path d="M78 4h1v1h-1zM82 6h1v1h-1zM77 7h1v1h-1zM80 7h1v1h-1zM76 9h1v1h-1zM62 11h1v1h-1zM64 11h1v1h-1zM68 11h1v1h-1zM4 12h1v1h-1zM57 13h1v1h-1zM61 13h2v1h-2zM32 14h1v1h-1zM47 14h1v1h-1zM76 15h1v1h-1zM82 15h1v1h-1zM77 16h1v1h-1zM24 17h1v1h-1zM38 17h1v1h-1zM48 17h1v1h-1zM29 18h2v1h-2zM28 19h1v1h-1zM19 20h1v1h-1zM39 20h1v1h-1zM48 20h1v1h-1zM18 21h1v1h-1zM39 21h1v1h-1zM14 22h1v1h-1zM37 22h1v1h-1zM76 22h1v1h-1zM31 23h1v1h-1zM34 23h1v1h-1zM23 24h1v1h-1zM33 24h1v1h-1zM71 24h1v1h-1zM74 24h1v1h-1zM23 25h1v1h-1zM18 26h1v1h-1zM2 29h1v1h-1zM5 30h1v1h-1zM9 30h1v1h-1zM46 35h1v1h-1zM4 46h1v1h-1zM13 46h1v1h-1zM17 46h1v1h-1zM21 46h1v1h-1zM13 47h1v1h-1zM17 47h1v1h-1zM28 47h1v1h-1zM15 48h2v1h-2zM11 49h1v1h-1zM15 49h1v1h-1zM0 50h1v1h-1zM27 50h1v1h-1zM84 50h1v1h-1zM13 51h1v1h-1zM50 52h1v1h-1zM15 54h1v1h-1zM22 54h1v1h-1zM31 54h1v1h-1zM12 55h1v1h-1zM15 55h1v1h-1zM26 55h1v1h-1zM30 55h1v1h-1zM52 55h1v1h-1zM85 55h1v1h-1zM47 56h1v1h-1zM51 56h1v1h-1zM80 56h1v1h-1zM5 57h1v1h-1zM13 57h1v1h-1zM15 57h2v1h-2zM20 57h1v1h-1zM22 57h1v1h-1zM25 57h1v1h-1zM30 57h1v1h-1zM33 57h1v1h-1zM53 57h1v1h-1zM83 57h1v1h-1zM6 58h1v1h-1zM39 58h1v1h-1zM21 59h1v1h-1zM41 59h1v1h-1zM37 60h1v1h-1zM6 61h1v1h-1zM18 61h2v1h-2zM28 61h2v1h-2zM32 61h1v1h-1zM43 61h1v1h-1zM32 62h2v1h-2zM36 62h1v1h-1zM44 62h1v1h-1zM43 63h1v1h-1zM36 65h1v1h-1zM40 65h1v1h-1zM44 65h2v1h-2zM39 66h1v1h-1zM43 66h2v1h-2zM40 67h1v1h-1zM44 67h1v1h-1zM33 68h1v1h-1zM41 68h3v1h-3zM44 69h1v1h-1zM45 70h2v1h-2zM44 71h1v1h-1zM46 71h1v1h-1zM31 76h2v1h-2zM53 76h1v1h-1zM40 77h1v1h-1zM52 77h1v1h-1zM52 78h1v1h-1zM37 79h1v1h-1zM52 79h1v1h-1zM37 80h1v1h-1zM49 80h1v1h-1zM53 80h2v1h-2zM44 81h1v1h-1zM46 81h1v1h-1zM51 81h2v1h-2zM30 82h1v1h-1zM33 82h2v1h-2zM43 82h1v1h-1zM34 83h3v1h-3zM45 83h1v1h-1zM47 83h1v1h-1zM49 83h1v1h-1zM55 83h1v1h-1zM30 84h1v1h-1zM36 84h1v1h-1zM41 84h1v1h-1zM43 84h2v1h-2zM46 84h1v1h-1zM49 84h2v1h-2zM54 84h1v1h-1zM38 85h1v1h-1zM51 85h1v1h-1zM41 86h1v1h-1zM48 86h2v1h-2zM51 86h1v1h-1zM35 87h1v1h-1zM44 87h1v1h-1zM36 88h1v1h-1zM40 88h1v1h-1zM46 88h3v1h-3zM36 89h1v1h-1zM47 89h1v1h-1zM36 90h1v1h-1zM39 90h1v1h-1zM43 90h1v1h-1zM37 92h1v1h-1z" fill="#183879"/>
<path d="M64 4h1v1h-1zM82 4h1v1h-1zM58 5h1v1h-1zM62 5h1v1h-1zM80 6h1v1h-1zM66 7h1v1h-1zM82 8h1v1h-1zM61 9h1v1h-1zM66 10h1v1h-1zM78 10h1v1h-1zM4 11h1v1h-1zM77 11h1v1h-1zM42 13h1v1h-1zM63 13h1v1h-1zM3 14h1v1h-1zM82 14h1v1h-1zM47 15h1v1h-1zM55 15h1v1h-1zM66 16h1v1h-1zM75 16h1v1h-1zM78 16h1v1h-1zM37 17h1v1h-1zM60 17h1v1h-1zM20 18h1v1h-1zM37 18h1v1h-1zM50 18h1v1h-1zM84 18h1v1h-1zM23 19h1v1h-1zM29 19h2v1h-2zM36 19h1v1h-1zM47 19h1v1h-1zM8 20h1v1h-1zM57 20h1v1h-1zM72 20h1v1h-1zM19 21h3v1h-3zM26 21h1v1h-1zM30 21h1v1h-1zM38 21h1v1h-1zM17 22h1v1h-1zM22 22h2v1h-2zM39 22h1v1h-1zM2 23h1v1h-1zM10 23h1v1h-1zM14 23h1v1h-1zM26 23h1v1h-1zM16 24h1v1h-1zM25 24h1v1h-1zM37 24h1v1h-1zM20 25h1v1h-1zM26 26h1v1h-1zM31 26h1v1h-1zM22 27h1v1h-1zM26 27h1v1h-1zM19 29h1v1h-1zM16 30h1v1h-1zM30 31h1v1h-1zM7 33h1v1h-1zM43 43h1v1h-1zM6 45h1v1h-1zM8 46h1v1h-1zM6 47h1v1h-1zM14 47h1v1h-1zM29 47h1v1h-1zM7 48h2v1h-2zM6 49h1v1h-1zM17 49h1v1h-1zM29 50h1v1h-1zM0 51h2v1h-2zM59 51h1v1h-1zM52 52h1v1h-1zM13 53h2v1h-2zM16 53h1v1h-1zM21 53h1v1h-1zM47 53h1v1h-1zM87 54h1v1h-1zM9 55h1v1h-1zM20 55h1v1h-1zM54 55h1v1h-1zM20 56h1v1h-1zM32 56h1v1h-1zM82 56h1v1h-1zM0 57h1v1h-1zM3 57h2v1h-2zM29 57h1v1h-1zM50 57h1v1h-1zM79 57h1v1h-1zM7 58h1v1h-1zM14 58h1v1h-1zM23 58h1v1h-1zM28 58h1v1h-1zM46 58h1v1h-1zM33 60h1v1h-1zM5 61h1v1h-1zM7 61h1v1h-1zM37 61h1v1h-1zM31 62h1v1h-1zM6 63h1v1h-1zM9 63h1v1h-1zM42 63h1v1h-1zM39 65h1v1h-1zM42 65h1v1h-1zM39 67h1v1h-1zM46 67h1v1h-1zM39 68h1v1h-1zM45 69h2v1h-2zM43 72h1v1h-1zM42 78h1v1h-1zM53 78h1v1h-1zM42 81h1v1h-1zM50 81h1v1h-1zM55 81h1v1h-1zM58 81h1v1h-1zM35 82h1v1h-1zM46 82h1v1h-1zM48 82h1v1h-1zM52 82h2v1h-2zM44 83h1v1h-1zM46 83h1v1h-1zM53 83h1v1h-1zM38 84h2v1h-2zM45 84h1v1h-1zM51 84h1v1h-1zM53 84h1v1h-1zM56 84h1v1h-1zM37 85h1v1h-1zM43 85h1v1h-1zM45 85h2v1h-2zM48 85h1v1h-1zM53 85h1v1h-1zM38 86h3v1h-3zM43 86h1v1h-1zM46 86h1v1h-1zM36 87h1v1h-1zM40 87h2v1h-2zM49 87h1v1h-1zM41 88h1v1h-1zM39 89h1v1h-1zM42 90h1v1h-1zM44 90h1v1h-1zM46 90h2v1h-2zM46 91h1v1h-1zM34 92h1v1h-1zM36 93h1v1h-1z" fill="#153978"/>
<path d="M74 5h1v1h-1zM70 6h1v1h-1zM72 6h1v1h-1zM58 7h1v1h-1zM74 7h1v1h-1zM84 8h1v1h-1zM73 10h1v1h-1zM76 10h2v1h-2zM70 11h1v1h-1zM84 11h1v1h-1zM65 12h1v1h-1zM67 15h1v1h-1zM81 15h1v1h-1zM24 16h1v1h-1zM80 16h1v1h-1zM7 17h1v1h-1zM22 17h1v1h-1zM26 17h1v1h-1zM36 17h1v1h-1zM52 17h1v1h-1zM21 18h1v1h-1zM25 18h1v1h-1zM16 19h1v1h-1zM38 19h1v1h-1zM78 19h2v1h-2zM81 19h2v1h-2zM27 20h1v1h-1zM30 20h1v1h-1zM40 20h1v1h-1zM78 20h1v1h-1zM35 21h1v1h-1zM65 21h1v1h-1zM78 21h1v1h-1zM32 22h1v1h-1zM64 22h1v1h-1zM66 22h1v1h-1zM27 23h1v1h-1zM30 23h1v1h-1zM32 23h2v1h-2zM35 23h1v1h-1zM65 23h1v1h-1zM26 25h1v1h-1zM65 25h1v1h-1zM72 25h1v1h-1zM23 26h1v1h-1zM44 26h1v1h-1zM20 27h1v1h-1zM42 28h1v1h-1zM3 30h1v1h-1zM30 33h1v1h-1zM26 34h1v1h-1zM19 35h1v1h-1zM43 41h1v1h-1zM7 45h1v1h-1zM30 45h1v1h-1zM7 46h1v1h-1zM16 46h1v1h-1zM24 46h1v1h-1zM29 46h1v1h-1zM1 47h1v1h-1zM4 47h1v1h-1zM24 47h1v1h-1zM1 48h2v1h-2zM14 48h1v1h-1zM25 48h1v1h-1zM2 49h1v1h-1zM13 49h2v1h-2zM11 50h1v1h-1zM18 50h1v1h-1zM28 50h1v1h-1zM51 51h1v1h-1zM86 51h1v1h-1zM29 52h2v1h-2zM48 52h1v1h-1zM87 52h1v1h-1zM1 53h1v1h-1zM3 53h1v1h-1zM52 53h1v1h-1zM20 54h1v1h-1zM52 54h1v1h-1zM84 54h1v1h-1zM5 55h1v1h-1zM24 55h1v1h-1zM4 56h1v1h-1zM15 56h1v1h-1zM19 56h1v1h-1zM30 56h1v1h-1zM84 56h2v1h-2zM10 57h1v1h-1zM25 58h1v1h-1zM36 58h1v1h-1zM44 58h1v1h-1zM54 58h1v1h-1zM8 59h1v1h-1zM34 59h1v1h-1zM20 60h1v1h-1zM39 60h2v1h-2zM50 60h1v1h-1zM35 61h1v1h-1zM40 61h1v1h-1zM55 61h1v1h-1zM53 62h1v1h-1zM30 63h1v1h-1zM44 63h1v1h-1zM36 64h1v1h-1zM40 64h1v1h-1zM46 68h1v1h-1zM53 75h1v1h-1zM57 78h1v1h-1zM53 81h1v1h-1zM41 82h1v1h-1zM37 83h1v1h-1zM51 83h1v1h-1zM35 85h1v1h-1zM36 86h1v1h-1zM47 86h1v1h-1zM45 87h1v1h-1zM47 87h1v1h-1zM35 88h1v1h-1zM39 88h1v1h-1zM44 88h1v1h-1zM38 89h1v1h-1zM46 89h1v1h-1zM48 89h1v1h-1zM35 90h1v1h-1zM45 91h1v1h-1zM31 92h1v1h-1zM36 92h1v1h-1zM38 92h1v1h-1z" fill="#123976"/>
<path d="M63 5h1v1h-1zM83 5h1v1h-1zM64 6h1v1h-1zM79 6h1v1h-1zM46 7h1v1h-1zM72 7h1v1h-1zM1 8h1v1h-1zM63 8h1v1h-1zM75 8h1v1h-1zM63 9h1v1h-1zM72 10h1v1h-1zM63 12h1v1h-1zM68 12h1v1h-1zM11 13h1v1h-1zM67 13h1v1h-1zM38 14h1v1h-1zM43 14h1v1h-1zM57 14h1v1h-1zM76 14h1v1h-1zM78 14h1v1h-1zM48 15h2v1h-2zM37 16h1v1h-1zM72 16h1v1h-1zM82 16h1v1h-1zM33 17h1v1h-1zM31 18h2v1h-2zM49 18h1v1h-1zM61 18h1v1h-1zM56 19h1v1h-1zM80 19h1v1h-1zM22 20h1v1h-1zM24 20h1v1h-1zM29 20h1v1h-1zM41 20h1v1h-1zM77 21h1v1h-1zM27 22h1v1h-1zM31 22h1v1h-1zM40 22h2v1h-2zM69 22h1v1h-1zM29 23h1v1h-1zM44 23h1v1h-1zM32 24h1v1h-1zM35 24h1v1h-1zM73 24h1v1h-1zM18 25h1v1h-1zM31 25h2v1h-2zM64 25h1v1h-1zM15 26h1v1h-1zM28 26h1v1h-1zM42 26h2v1h-2zM34 27h1v1h-1zM32 29h1v1h-1zM6 30h1v1h-1zM29 31h1v1h-1zM17 32h1v1h-1zM18 33h1v1h-1zM48 33h1v1h-1zM30 34h1v1h-1zM45 34h1v1h-1zM44 35h1v1h-1zM44 36h1v1h-1zM14 44h1v1h-1zM12 45h1v1h-1zM33 45h1v1h-1zM54 45h1v1h-1zM3 46h1v1h-1zM9 46h1v1h-1zM22 46h1v1h-1zM8 47h1v1h-1zM11 47h1v1h-1zM27 47h1v1h-1zM5 48h1v1h-1zM10 49h1v1h-1zM19 49h1v1h-1zM81 49h1v1h-1zM3 50h1v1h-1zM10 50h1v1h-1zM79 50h1v1h-1zM83 51h1v1h-1zM87 51h1v1h-1zM21 52h1v1h-1zM0 53h1v1h-1zM29 53h1v1h-1zM59 53h1v1h-1zM61 53h1v1h-1zM16 54h1v1h-1zM54 54h1v1h-1zM78 54h1v1h-1zM81 54h1v1h-1zM0 55h2v1h-2zM46 55h1v1h-1zM2 56h1v1h-1zM12 56h2v1h-2zM28 56h1v1h-1zM31 56h1v1h-1zM41 56h1v1h-1zM67 56h1v1h-1zM41 57h1v1h-1zM43 57h1v1h-1zM45 57h1v1h-1zM21 58h1v1h-1zM26 58h1v1h-1zM42 58h1v1h-1zM50 58h1v1h-1zM12 59h1v1h-1zM34 60h1v1h-1zM9 61h1v1h-1zM41 61h1v1h-1zM5 63h1v1h-1zM36 63h1v1h-1zM36 66h1v1h-1zM46 66h1v1h-1zM44 68h1v1h-1zM31 69h1v1h-1zM36 80h1v1h-1zM43 80h1v1h-1zM40 81h2v1h-2zM48 81h1v1h-1zM49 82h1v1h-1zM38 83h1v1h-1zM47 84h1v1h-1zM36 85h1v1h-1zM39 85h1v1h-1zM47 85h1v1h-1zM60 86h1v1h-1zM37 87h2v1h-2zM46 87h1v1h-1zM38 88h1v1h-1zM42 88h1v1h-1zM35 89h1v1h-1zM40 89h1v1h-1zM45 89h1v1h-1zM40 90h1v1h-1zM48 90h1v1h-1zM41 93h1v1h-1z" fill="#0e3975"/>
<path d="M63 0h1v1h-1zM66 1h1v1h-1zM65 3h1v1h-1zM67 4h1v1h-1zM77 4h1v1h-1zM76 5h1v1h-1zM82 5h1v1h-1zM67 6h1v1h-1zM69 6h1v1h-1zM77 6h1v1h-1zM62 7h1v1h-1zM67 7h1v1h-1zM79 7h1v1h-1zM83 7h2v1h-2zM2 8h1v1h-1zM40 8h1v1h-1zM69 8h1v1h-1zM74 8h1v1h-1zM57 10h1v1h-1zM71 12h1v1h-1zM40 13h1v1h-1zM39 14h1v1h-1zM56 14h1v1h-1zM67 14h1v1h-1zM79 14h1v1h-1zM39 15h1v1h-1zM46 15h1v1h-1zM72 15h1v1h-1zM81 16h1v1h-1zM31 17h1v1h-1zM80 17h1v1h-1zM17 18h1v1h-1zM23 18h1v1h-1zM51 18h1v1h-1zM78 18h1v1h-1zM34 19h1v1h-1zM39 19h1v1h-1zM76 19h1v1h-1zM16 20h1v1h-1zM20 20h1v1h-1zM25 20h1v1h-1zM56 20h1v1h-1zM77 20h1v1h-1zM27 21h1v1h-1zM66 21h1v1h-1zM33 22h1v1h-1zM35 22h1v1h-1zM43 22h1v1h-1zM65 22h1v1h-1zM71 22h1v1h-1zM21 23h1v1h-1zM54 23h1v1h-1zM70 23h1v1h-1zM36 24h1v1h-1zM39 24h1v1h-1zM14 25h1v1h-1zM69 25h1v1h-1zM12 26h1v1h-1zM18 27h2v1h-2zM23 27h1v1h-1zM7 32h1v1h-1zM13 32h1v1h-1zM29 32h1v1h-1zM41 32h1v1h-1zM8 33h1v1h-1zM46 34h2v1h-2zM50 34h1v1h-1zM21 37h1v1h-1zM1 38h1v1h-1zM18 40h1v1h-1zM34 40h1v1h-1zM22 43h1v1h-1zM40 43h1v1h-1zM4 45h1v1h-1zM10 46h1v1h-1zM15 46h1v1h-1zM23 46h1v1h-1zM31 46h1v1h-1zM3 47h1v1h-1zM25 47h1v1h-1zM56 47h1v1h-1zM26 48h1v1h-1zM57 48h1v1h-1zM26 49h1v1h-1zM17 50h1v1h-1zM58 50h1v1h-1zM2 51h1v1h-1zM26 51h1v1h-1zM56 51h1v1h-1zM1 52h1v1h-1zM4 52h1v1h-1zM31 52h2v1h-2zM11 53h1v1h-1zM20 53h1v1h-1zM23 53h1v1h-1zM48 53h1v1h-1zM2 54h1v1h-1zM13 54h1v1h-1zM19 54h1v1h-1zM21 55h1v1h-1zM25 55h1v1h-1zM83 56h1v1h-1zM28 57h1v1h-1zM40 57h1v1h-1zM12 58h2v1h-2zM40 59h1v1h-1zM42 61h1v1h-1zM7 63h1v1h-1zM53 63h1v1h-1zM35 65h1v1h-1zM41 66h1v1h-1zM37 89h1v1h-1z" fill="#0b3974"/>
<path d="M63 1h2v1h-2zM68 1h1v1h-1zM67 2h1v1h-1zM57 3h1v1h-1zM66 3h1v1h-1zM65 4h1v1h-1zM68 4h1v1h-1zM76 4h1v1h-1zM80 4h1v1h-1zM67 5h1v1h-1zM81 5h1v1h-1zM66 6h1v1h-1zM83 6h1v1h-1zM0 8h1v1h-1zM70 9h2v1h-2zM75 9h1v1h-1zM65 11h1v1h-1zM70 12h1v1h-1zM70 13h1v1h-1zM49 14h1v1h-1zM63 14h1v1h-1zM65 14h1v1h-1zM83 15h1v1h-1zM35 16h1v1h-1zM39 16h1v1h-1zM74 16h1v1h-1zM49 17h1v1h-1zM61 17h1v1h-1zM82 17h1v1h-1zM84 17h1v1h-1zM55 18h1v1h-1zM37 19h1v1h-1zM54 19h1v1h-1zM75 19h1v1h-1zM35 20h1v1h-1zM65 20h1v1h-1zM76 20h1v1h-1zM54 21h1v1h-1zM62 21h1v1h-1zM75 21h1v1h-1zM38 22h1v1h-1zM54 22h1v1h-1zM75 22h1v1h-1zM38 23h1v1h-1zM45 23h1v1h-1zM69 23h1v1h-1zM74 23h1v1h-1zM28 24h1v1h-1zM30 25h1v1h-1zM17 26h1v1h-1zM45 26h1v1h-1zM29 27h1v1h-1zM35 27h1v1h-1zM43 27h1v1h-1zM46 27h1v1h-1zM1 28h1v1h-1zM18 28h1v1h-1zM30 29h1v1h-1zM4 30h1v1h-1zM13 30h1v1h-1zM30 30h1v1h-1zM33 30h1v1h-1zM48 30h1v1h-1zM6 31h1v1h-1zM31 31h1v1h-1zM26 35h1v1h-1zM41 35h1v1h-1zM50 35h1v1h-1zM24 36h1v1h-1zM46 36h1v1h-1zM19 37h1v1h-1zM2 38h1v1h-1zM17 39h1v1h-1zM19 39h1v1h-1zM34 39h1v1h-1zM43 39h1v1h-1zM6 42h1v1h-1zM25 43h1v1h-1zM3 45h1v1h-1zM31 45h1v1h-1zM41 46h1v1h-1zM55 46h1v1h-1zM18 47h1v1h-1zM26 47h1v1h-1zM3 48h1v1h-1zM5 49h1v1h-1zM7 49h1v1h-1zM16 49h1v1h-1zM24 49h2v1h-2zM42 49h1v1h-1zM2 50h1v1h-1zM6 50h1v1h-1zM8 50h2v1h-2zM12 50h2v1h-2zM26 50h1v1h-1zM3 51h2v1h-2zM22 51h1v1h-1zM27 51h1v1h-1zM29 51h1v1h-1zM31 51h1v1h-1zM0 52h1v1h-1zM2 52h1v1h-1zM22 52h1v1h-1zM49 52h1v1h-1zM82 52h1v1h-1zM15 53h1v1h-1zM24 53h1v1h-1zM26 53h1v1h-1zM51 53h1v1h-1zM0 54h2v1h-2zM10 54h1v1h-1zM24 54h1v1h-1zM22 55h1v1h-1zM28 55h2v1h-2zM79 55h1v1h-1zM1 56h1v1h-1zM3 56h1v1h-1zM45 56h1v1h-1zM2 57h1v1h-1zM9 57h1v1h-1zM11 57h1v1h-1zM31 57h1v1h-1zM42 57h1v1h-1zM80 57h1v1h-1zM9 58h1v1h-1zM27 58h1v1h-1zM34 58h1v1h-1zM10 59h1v1h-1zM52 59h1v1h-1zM9 60h1v1h-1zM36 60h1v1h-1zM38 66h1v1h-1zM49 73h1v1h-1zM52 75h1v1h-1z" fill="#083972"/>
<path d="M64 0h2v1h-2zM67 0h1v1h-1zM63 3h2v1h-2zM71 4h1v1h-1zM70 5h1v1h-1zM65 7h1v1h-1zM68 7h1v1h-1zM44 8h1v1h-1zM77 9h1v1h-1zM70 10h1v1h-1zM74 11h1v1h-1zM34 14h2v1h-2zM58 14h1v1h-1zM13 15h1v1h-1zM36 15h1v1h-1zM53 15h1v1h-1zM70 15h1v1h-1zM73 15h1v1h-1zM53 16h1v1h-1zM64 16h2v1h-2zM19 17h1v1h-1zM32 17h1v1h-1zM53 17h2v1h-2zM76 17h1v1h-1zM81 18h1v1h-1zM26 19h1v1h-1zM62 19h1v1h-1zM36 20h1v1h-1zM68 20h1v1h-1zM75 20h1v1h-1zM40 21h2v1h-2zM56 21h1v1h-1zM71 21h1v1h-1zM19 22h2v1h-2zM24 23h1v1h-1zM40 23h1v1h-1zM19 24h1v1h-1zM21 24h1v1h-1zM44 24h1v1h-1zM22 29h1v1h-1zM65 29h1v1h-1zM31 30h1v1h-1zM49 31h1v1h-1zM31 32h1v1h-1zM11 33h1v1h-1zM28 33h1v1h-1zM31 34h1v1h-1zM40 34h1v1h-1zM28 35h1v1h-1zM43 35h1v1h-1zM20 36h1v1h-1zM40 36h1v1h-1zM43 36h1v1h-1zM1 37h1v1h-1zM22 37h1v1h-1zM27 37h1v1h-1zM17 38h1v1h-1zM1 39h2v1h-2zM38 39h1v1h-1zM3 40h1v1h-1zM31 42h1v1h-1zM5 43h1v1h-1zM14 43h1v1h-1zM44 43h1v1h-1zM53 43h1v1h-1zM32 44h1v1h-1zM43 44h1v1h-1zM1 45h1v1h-1zM5 45h1v1h-1zM23 45h1v1h-1zM38 45h1v1h-1zM0 46h1v1h-1zM2 46h1v1h-1zM19 46h1v1h-1zM25 46h1v1h-1zM42 46h1v1h-1zM2 47h1v1h-1zM5 47h1v1h-1zM19 47h1v1h-1zM21 47h1v1h-1zM23 47h1v1h-1zM30 47h1v1h-1zM54 47h1v1h-1zM4 48h1v1h-1zM6 48h1v1h-1zM11 48h1v1h-1zM18 48h1v1h-1zM21 48h1v1h-1zM28 48h1v1h-1zM41 48h1v1h-1zM3 49h2v1h-2zM8 49h2v1h-2zM61 49h1v1h-1zM4 50h1v1h-1zM19 50h1v1h-1zM21 50h1v1h-1zM10 51h2v1h-2zM88 51h1v1h-1zM13 52h1v1h-1zM19 52h1v1h-1zM43 52h1v1h-1zM78 52h1v1h-1zM12 53h1v1h-1zM53 53h1v1h-1zM21 54h1v1h-1zM37 54h1v1h-1zM88 54h1v1h-1zM31 55h1v1h-1zM67 55h1v1h-1zM6 56h1v1h-1zM10 56h1v1h-1zM22 56h2v1h-2zM25 56h1v1h-1zM29 56h1v1h-1zM40 56h1v1h-1zM46 56h1v1h-1zM12 57h1v1h-1zM24 57h1v1h-1zM72 57h1v1h-1zM75 58h1v1h-1zM35 60h1v1h-1zM38 60h1v1h-1zM36 61h1v1h-1zM52 62h1v1h-1z" fill="#053a71"/>
<path d="M69 0h1v1h-1zM67 1h1v1h-1zM81 1h1v1h-1zM64 2h1v1h-1zM62 3h1v1h-1zM81 3h1v1h-1zM84 3h1v1h-1zM64 5h1v1h-1zM84 5h1v1h-1zM39 6h1v1h-1zM40 7h1v1h-1zM43 7h1v1h-1zM86 7h1v1h-1zM41 8h1v1h-1zM88 8h1v1h-1zM72 9h1v1h-1zM69 10h1v1h-1zM74 10h1v1h-1zM72 13h1v1h-1zM44 14h1v1h-1zM55 14h1v1h-1zM59 14h1v1h-1zM29 15h1v1h-1zM32 15h1v1h-1zM57 15h1v1h-1zM36 16h1v1h-1zM52 16h1v1h-1zM39 17h2v1h-2zM45 17h1v1h-1zM79 17h1v1h-1zM83 17h1v1h-1zM85 17h1v1h-1zM48 18h1v1h-1zM76 18h1v1h-1zM83 18h1v1h-1zM40 19h1v1h-1zM50 19h1v1h-1zM52 19h1v1h-1zM55 19h1v1h-1zM28 20h1v1h-1zM33 20h1v1h-1zM73 20h1v1h-1zM31 21h1v1h-1zM48 21h1v1h-1zM76 21h1v1h-1zM25 22h1v1h-1zM28 22h1v1h-1zM45 22h1v1h-1zM63 22h1v1h-1zM67 22h1v1h-1zM25 23h1v1h-1zM55 23h1v1h-1zM58 23h1v1h-1zM62 23h1v1h-1zM72 23h1v1h-1zM34 24h1v1h-1zM45 24h1v1h-1zM54 24h1v1h-1zM62 24h1v1h-1zM64 24h1v1h-1zM15 25h1v1h-1zM36 25h1v1h-1zM67 25h1v1h-1zM1 26h1v1h-1zM14 26h1v1h-1zM27 27h1v1h-1zM22 28h1v1h-1zM29 28h1v1h-1zM33 28h2v1h-2zM21 31h1v1h-1zM32 31h1v1h-1zM49 32h1v1h-1zM29 33h1v1h-1zM32 34h1v1h-1zM41 34h1v1h-1zM49 34h1v1h-1zM18 35h1v1h-1zM21 35h1v1h-1zM40 35h1v1h-1zM45 35h1v1h-1zM48 37h1v1h-1zM10 38h1v1h-1zM18 38h1v1h-1zM11 39h1v1h-1zM44 39h1v1h-1zM4 40h1v1h-1zM6 40h1v1h-1zM20 40h1v1h-1zM39 40h1v1h-1zM38 42h1v1h-1zM41 42h1v1h-1zM42 44h1v1h-1zM14 45h1v1h-1zM16 45h1v1h-1zM22 45h1v1h-1zM26 46h1v1h-1zM53 46h1v1h-1zM58 46h1v1h-1zM31 47h1v1h-1zM9 48h1v1h-1zM24 48h1v1h-1zM31 48h1v1h-1zM22 49h2v1h-2zM50 49h1v1h-1zM14 50h1v1h-1zM78 50h1v1h-1zM8 51h2v1h-2zM12 51h1v1h-1zM18 51h1v1h-1zM21 51h1v1h-1zM7 52h1v1h-1zM28 52h1v1h-1zM65 52h1v1h-1zM2 53h1v1h-1zM81 53h1v1h-1zM4 54h1v1h-1zM51 54h1v1h-1zM57 54h1v1h-1zM86 54h1v1h-1zM2 55h2v1h-2zM10 55h1v1h-1zM68 55h1v1h-1zM26 56h1v1h-1zM43 56h1v1h-1zM14 57h1v1h-1zM26 57h1v1h-1zM44 57h1v1h-1zM81 57h1v1h-1zM35 59h1v1h-1zM55 60h1v1h-1zM32 63h1v1h-1zM54 75h1v1h-1z" fill="#023a70"/>
<path d="M65 2h2v1h-2zM69 2h2v1h-2zM78 2h1v1h-1zM80 2h2v1h-2zM67 3h1v1h-1zM78 3h1v1h-1zM74 4h2v1h-2zM83 4h2v1h-2zM75 5h1v1h-1zM71 6h1v1h-1zM74 6h1v1h-1zM42 7h1v1h-1zM43 8h1v1h-1zM46 8h1v1h-1zM64 8h1v1h-1zM71 8h1v1h-1zM86 8h1v1h-1zM12 10h1v1h-1zM71 10h1v1h-1zM67 12h1v1h-1zM4 14h1v1h-1zM33 14h1v1h-1zM52 14h1v1h-1zM60 14h1v1h-1zM83 14h1v1h-1zM18 15h1v1h-1zM37 15h1v1h-1zM68 15h1v1h-1zM74 15h1v1h-1zM21 16h1v1h-1zM23 16h1v1h-1zM41 16h1v1h-1zM46 16h1v1h-1zM48 16h1v1h-1zM55 16h1v1h-1zM84 16h1v1h-1zM20 17h2v1h-2zM46 17h1v1h-1zM58 17h1v1h-1zM71 17h2v1h-2zM78 17h1v1h-1zM86 17h1v1h-1zM40 18h1v1h-1zM53 18h1v1h-1zM75 18h1v1h-1zM77 18h1v1h-1zM79 18h2v1h-2zM82 18h1v1h-1zM77 19h1v1h-1zM32 20h1v1h-1zM54 20h1v1h-1zM60 20h1v1h-1zM64 20h1v1h-1zM45 21h1v1h-1zM21 22h1v1h-1zM74 22h1v1h-1zM28 23h1v1h-1zM37 23h1v1h-1zM64 23h1v1h-1zM43 24h1v1h-1zM60 24h1v1h-1zM70 24h1v1h-1zM34 25h2v1h-2zM61 25h2v1h-2zM27 26h1v1h-1zM34 26h1v1h-1zM62 26h1v1h-1zM44 27h2v1h-2zM48 27h1v1h-1zM60 27h2v1h-2zM19 28h1v1h-1zM32 28h1v1h-1zM15 29h1v1h-1zM46 29h1v1h-1zM32 30h1v1h-1zM1 31h1v1h-1zM41 31h1v1h-1zM48 31h1v1h-1zM50 31h1v1h-1zM15 32h1v1h-1zM18 32h1v1h-1zM26 32h1v1h-1zM32 32h2v1h-2zM19 33h1v1h-1zM21 33h1v1h-1zM26 33h1v1h-1zM9 34h1v1h-1zM11 34h1v1h-1zM38 34h1v1h-1zM42 34h1v1h-1zM48 34h1v1h-1zM8 35h1v1h-1zM42 35h1v1h-1zM48 35h1v1h-1zM18 36h1v1h-1zM42 36h1v1h-1zM0 37h1v1h-1zM25 37h1v1h-1zM40 37h4v1h-4zM54 37h1v1h-1zM3 38h3v1h-3zM18 39h1v1h-1zM31 39h1v1h-1zM41 39h1v1h-1zM5 41h2v1h-2zM33 42h1v1h-1zM42 42h2v1h-2zM1 44h1v1h-1zM17 44h1v1h-1zM25 44h1v1h-1zM31 44h1v1h-1zM41 44h1v1h-1zM9 45h1v1h-1zM12 46h1v1h-1zM20 46h1v1h-1zM27 46h2v1h-2zM40 46h1v1h-1zM10 47h1v1h-1zM79 47h1v1h-1zM83 47h1v1h-1zM19 48h1v1h-1zM54 48h1v1h-1zM77 48h1v1h-1zM86 49h1v1h-1zM42 50h1v1h-1zM86 50h1v1h-1zM7 51h1v1h-1zM14 51h1v1h-1zM37 51h1v1h-1zM50 51h1v1h-1zM3 52h1v1h-1zM8 52h1v1h-1zM26 52h2v1h-2zM54 52h1v1h-1zM58 52h1v1h-1zM4 53h2v1h-2zM9 53h1v1h-1zM5 54h1v1h-1zM11 54h1v1h-1zM26 54h1v1h-1zM28 54h1v1h-1zM30 54h1v1h-1zM32 54h2v1h-2zM82 54h1v1h-1zM7 55h2v1h-2zM23 55h1v1h-1zM75 55h1v1h-1zM82 55h1v1h-1zM9 56h1v1h-1zM11 56h1v1h-1zM7 57h1v1h-1zM27 57h1v1h-1zM32 57h1v1h-1zM34 57h1v1h-1zM50 74h1v1h-1z" fill="#013b6e"/>
<path d="M66 0h1v1h-1zM84 0h1v1h-1zM65 1h1v1h-1zM69 1h1v1h-1zM82 1h1v1h-1zM60 3h1v1h-1zM75 3h1v1h-1zM79 3h1v1h-1zM82 3h2v1h-2zM40 5h1v1h-1zM72 5h1v1h-1zM85 5h1v1h-1zM41 6h1v1h-1zM84 6h2v1h-2zM87 6h2v1h-2zM41 7h1v1h-1zM45 7h1v1h-1zM71 7h1v1h-1zM73 7h1v1h-1zM81 7h1v1h-1zM35 8h1v1h-1zM85 9h2v1h-2zM75 10h1v1h-1zM85 12h1v1h-1zM68 14h1v1h-1zM72 14h1v1h-1zM84 14h1v1h-1zM12 15h1v1h-1zM51 15h1v1h-1zM64 15h1v1h-1zM84 15h2v1h-2zM19 16h1v1h-1zM62 16h1v1h-1zM68 16h2v1h-2zM83 16h1v1h-1zM88 16h2v1h-2zM42 17h1v1h-1zM75 17h1v1h-1zM19 18h1v1h-1zM33 18h1v1h-1zM60 18h1v1h-1zM46 19h1v1h-1zM61 19h1v1h-1zM64 19h1v1h-1zM49 20h1v1h-1zM53 20h1v1h-1zM62 20h1v1h-1zM46 21h1v1h-1zM53 21h1v1h-1zM63 21h1v1h-1zM68 21h2v1h-2zM74 21h1v1h-1zM44 22h1v1h-1zM47 22h1v1h-1zM53 22h1v1h-1zM58 22h1v1h-1zM62 22h1v1h-1zM68 22h1v1h-1zM72 22h1v1h-1zM39 23h1v1h-1zM63 23h1v1h-1zM26 24h1v1h-1zM40 24h1v1h-1zM61 24h1v1h-1zM65 24h1v1h-1zM69 24h1v1h-1zM33 25h1v1h-1zM37 25h1v1h-1zM40 25h1v1h-1zM21 26h1v1h-1zM30 26h1v1h-1zM41 26h1v1h-1zM60 26h1v1h-1zM16 27h1v1h-1zM41 27h1v1h-1zM62 27h1v1h-1zM54 28h1v1h-1zM17 29h2v1h-2zM47 29h1v1h-1zM2 30h1v1h-1zM11 30h1v1h-1zM29 30h1v1h-1zM9 31h1v1h-1zM47 32h1v1h-1zM45 33h1v1h-1zM49 33h2v1h-2zM1 34h1v1h-1zM7 34h2v1h-2zM18 34h1v1h-1zM20 34h1v1h-1zM27 34h1v1h-1zM0 35h1v1h-1zM24 35h1v1h-1zM31 35h1v1h-1zM39 35h1v1h-1zM0 36h1v1h-1zM19 36h1v1h-1zM25 36h1v1h-1zM47 36h1v1h-1zM23 37h1v1h-1zM31 38h1v1h-1zM33 38h2v1h-2zM41 38h1v1h-1zM53 38h1v1h-1zM21 39h1v1h-1zM18 41h1v1h-1zM41 41h1v1h-1zM45 41h1v1h-1zM6 43h1v1h-1zM11 44h1v1h-1zM23 44h1v1h-1zM8 45h1v1h-1zM20 45h1v1h-1zM27 45h1v1h-1zM41 45h1v1h-1zM32 46h1v1h-1zM37 46h2v1h-2zM45 46h1v1h-1zM48 46h1v1h-1zM82 46h1v1h-1zM33 47h1v1h-1zM40 47h1v1h-1zM58 47h1v1h-1zM12 48h1v1h-1zM23 48h1v1h-1zM20 49h1v1h-1zM28 49h1v1h-1zM23 50h1v1h-1zM43 50h1v1h-1zM61 50h1v1h-1zM74 50h1v1h-1zM23 51h2v1h-2zM41 51h1v1h-1zM47 51h1v1h-1zM57 51h1v1h-1zM60 51h1v1h-1zM69 51h1v1h-1zM6 52h1v1h-1zM9 52h1v1h-1zM16 52h1v1h-1zM51 52h1v1h-1zM53 52h1v1h-1zM85 52h1v1h-1zM71 53h1v1h-1zM88 53h1v1h-1zM3 54h1v1h-1zM9 54h1v1h-1zM23 54h1v1h-1zM27 54h1v1h-1zM29 54h1v1h-1zM34 54h1v1h-1zM6 55h1v1h-1zM11 55h1v1h-1zM72 55h1v1h-1zM7 56h1v1h-1zM11 58h1v1h-1z" fill="#023e6b"/>
<path d="M71 1h1v1h-1zM61 2h2v1h-2zM77 2h1v1h-1zM83 2h1v1h-1zM86 2h1v1h-1zM88 2h1v1h-1zM54 3h1v1h-1zM56 3h1v1h-1zM68 3h1v1h-1zM71 3h1v1h-1zM85 3h1v1h-1zM88 3h1v1h-1zM85 4h2v1h-2zM68 5h1v1h-1zM71 5h1v1h-1zM79 5h1v1h-1zM88 5h1v1h-1zM40 6h1v1h-1zM78 6h1v1h-1zM86 6h1v1h-1zM39 7h1v1h-1zM88 7h1v1h-1zM33 8h1v1h-1zM36 8h2v1h-2zM42 8h1v1h-1zM72 8h1v1h-1zM85 10h1v1h-1zM8 11h1v1h-1zM69 11h1v1h-1zM75 11h1v1h-1zM65 13h1v1h-1zM77 13h1v1h-1zM85 13h1v1h-1zM42 14h1v1h-1zM48 14h1v1h-1zM62 14h1v1h-1zM71 14h1v1h-1zM73 14h1v1h-1zM9 15h1v1h-1zM30 15h2v1h-2zM40 15h1v1h-1zM63 15h1v1h-1zM69 15h1v1h-1zM79 15h1v1h-1zM22 16h1v1h-1zM26 16h1v1h-1zM38 16h1v1h-1zM47 16h1v1h-1zM49 16h1v1h-1zM85 16h1v1h-1zM81 17h1v1h-1zM71 18h1v1h-1zM48 19h2v1h-2zM51 19h1v1h-1zM63 19h1v1h-1zM31 20h1v1h-1zM42 20h1v1h-1zM32 21h1v1h-1zM57 21h3v1h-3zM70 21h1v1h-1zM29 22h1v1h-1zM46 22h1v1h-1zM57 22h1v1h-1zM19 23h1v1h-1zM38 24h1v1h-1zM42 24h1v1h-1zM63 24h1v1h-1zM44 25h2v1h-2zM61 26h1v1h-1zM48 28h1v1h-1zM26 29h1v1h-1zM17 30h1v1h-1zM20 30h1v1h-1zM28 31h1v1h-1zM40 31h1v1h-1zM53 31h1v1h-1zM19 32h1v1h-1zM9 33h1v1h-1zM10 34h1v1h-1zM37 34h1v1h-1zM20 35h1v1h-1zM27 35h1v1h-1zM52 35h1v1h-1zM7 36h1v1h-1zM16 36h1v1h-1zM41 36h1v1h-1zM52 36h1v1h-1zM18 37h1v1h-1zM44 37h1v1h-1zM36 38h1v1h-1zM3 39h1v1h-1zM33 39h1v1h-1zM46 39h1v1h-1zM54 39h1v1h-1zM30 40h1v1h-1zM33 40h1v1h-1zM42 40h1v1h-1zM44 40h1v1h-1zM19 41h1v1h-1zM21 41h1v1h-1zM38 41h1v1h-1zM44 42h1v1h-1zM4 43h1v1h-1zM8 43h1v1h-1zM18 43h1v1h-1zM20 43h1v1h-1zM26 43h1v1h-1zM32 43h1v1h-1zM42 43h1v1h-1zM2 44h2v1h-2zM37 44h1v1h-1zM0 45h1v1h-1zM11 45h1v1h-1zM19 45h1v1h-1zM24 45h1v1h-1zM28 45h2v1h-2zM40 45h1v1h-1zM42 45h1v1h-1zM48 45h1v1h-1zM18 46h1v1h-1zM47 46h1v1h-1zM43 47h1v1h-1zM48 47h1v1h-1zM72 47h1v1h-1zM76 47h1v1h-1zM22 48h1v1h-1zM42 48h1v1h-1zM83 48h1v1h-1zM18 49h1v1h-1zM58 49h1v1h-1zM84 49h1v1h-1zM24 50h1v1h-1zM36 50h1v1h-1zM48 50h1v1h-1zM87 50h1v1h-1zM5 51h1v1h-1zM19 51h2v1h-2zM34 51h1v1h-1zM5 52h1v1h-1zM24 52h1v1h-1zM44 52h1v1h-1zM57 52h1v1h-1zM59 52h1v1h-1zM74 52h1v1h-1zM83 52h1v1h-1zM8 53h1v1h-1zM18 53h1v1h-1zM25 53h1v1h-1zM28 53h1v1h-1zM37 53h1v1h-1zM44 53h1v1h-1zM54 53h1v1h-1zM68 53h1v1h-1zM82 53h1v1h-1zM8 54h1v1h-1zM46 54h1v1h-1zM74 55h1v1h-1zM77 55h1v1h-1zM42 56h1v1h-1zM78 56h1v1h-1zM60 57h1v1h-1zM53 74h1v1h-1z" fill="#034069"/>
<path d="M68 0h1v1h-1zM72 0h1v1h-1zM83 0h1v1h-1zM73 1h1v1h-1zM76 1h1v1h-1zM79 2h1v1h-1zM85 2h1v1h-1zM58 3h1v1h-1zM70 3h1v1h-1zM73 3h1v1h-1zM77 3h1v1h-1zM42 5h1v1h-1zM86 5h2v1h-2zM32 7h1v1h-1zM44 7h1v1h-1zM69 7h1v1h-1zM34 8h1v1h-1zM38 8h2v1h-2zM45 8h1v1h-1zM67 8h2v1h-2zM77 8h1v1h-1zM85 8h1v1h-1zM0 11h1v1h-1zM72 12h1v1h-1zM74 12h1v1h-1zM64 13h1v1h-1zM53 14h1v1h-1zM64 14h1v1h-1zM70 14h1v1h-1zM28 15h1v1h-1zM43 15h1v1h-1zM50 15h1v1h-1zM34 16h1v1h-1zM45 16h1v1h-1zM57 16h1v1h-1zM71 16h1v1h-1zM73 16h1v1h-1zM57 17h1v1h-1zM63 17h1v1h-1zM38 18h1v1h-1zM52 18h1v1h-1zM56 18h3v1h-3zM70 18h1v1h-1zM72 18h1v1h-1zM35 19h1v1h-1zM53 19h1v1h-1zM68 19h1v1h-1zM63 20h1v1h-1zM66 20h1v1h-1zM70 20h2v1h-2zM33 21h1v1h-1zM43 21h1v1h-1zM50 21h1v1h-1zM52 21h1v1h-1zM64 21h1v1h-1zM73 21h1v1h-1zM52 22h1v1h-1zM55 22h1v1h-1zM60 22h1v1h-1zM73 22h1v1h-1zM23 23h1v1h-1zM68 23h1v1h-1zM71 23h1v1h-1zM73 23h1v1h-1zM55 24h2v1h-2zM59 24h1v1h-1zM68 24h1v1h-1zM38 25h1v1h-1zM41 25h1v1h-1zM55 25h1v1h-1zM35 26h1v1h-1zM39 26h1v1h-1zM58 27h1v1h-1zM28 28h1v1h-1zM35 28h1v1h-1zM46 28h1v1h-1zM20 29h1v1h-1zM42 29h1v1h-1zM58 29h1v1h-1zM51 30h1v1h-1zM8 31h1v1h-1zM27 31h1v1h-1zM8 32h1v1h-1zM20 32h1v1h-1zM27 32h2v1h-2zM43 32h1v1h-1zM0 33h1v1h-1zM25 33h1v1h-1zM32 33h1v1h-1zM19 34h1v1h-1zM25 34h1v1h-1zM28 34h2v1h-2zM33 34h1v1h-1zM1 35h1v1h-1zM7 35h1v1h-1zM25 35h1v1h-1zM33 35h1v1h-1zM3 36h1v1h-1zM21 36h1v1h-1zM45 36h1v1h-1zM16 37h1v1h-1zM20 37h1v1h-1zM6 38h1v1h-1zM19 38h2v1h-2zM42 38h1v1h-1zM26 39h1v1h-1zM1 40h1v1h-1zM5 40h1v1h-1zM19 40h1v1h-1zM45 40h1v1h-1zM31 41h1v1h-1zM34 41h1v1h-1zM44 41h1v1h-1zM25 42h1v1h-1zM54 42h1v1h-1zM17 43h1v1h-1zM36 43h1v1h-1zM39 43h1v1h-1zM41 43h1v1h-1zM46 43h1v1h-1zM9 44h1v1h-1zM20 44h3v1h-3zM24 44h1v1h-1zM39 44h2v1h-2zM17 45h1v1h-1zM21 45h1v1h-1zM35 45h1v1h-1zM39 45h1v1h-1zM1 46h1v1h-1zM33 46h1v1h-1zM35 46h1v1h-1zM39 46h1v1h-1zM35 47h1v1h-1zM42 47h1v1h-1zM59 47h1v1h-1zM70 47h1v1h-1zM78 47h1v1h-1zM81 47h1v1h-1zM27 48h1v1h-1zM38 48h1v1h-1zM56 48h1v1h-1zM43 49h2v1h-2zM48 49h1v1h-1zM5 50h1v1h-1zM15 50h1v1h-1zM20 50h1v1h-1zM25 50h1v1h-1zM75 50h1v1h-1zM6 51h1v1h-1zM39 51h1v1h-1zM61 51h1v1h-1zM77 51h1v1h-1zM11 52h1v1h-1zM15 52h1v1h-1zM18 52h1v1h-1zM23 52h1v1h-1zM25 52h1v1h-1zM46 52h1v1h-1zM68 52h1v1h-1zM7 53h1v1h-1zM19 53h1v1h-1zM22 53h1v1h-1zM31 53h1v1h-1zM45 53h1v1h-1zM55 53h1v1h-1zM6 54h1v1h-1zM65 54h1v1h-1zM71 54h1v1h-1zM33 55h2v1h-2zM27 56h1v1h-1zM33 56h1v1h-1zM62 56h1v1h-1zM37 57h1v1h-1zM49 57h1v1h-1zM56 57h1v1h-1zM55 62h1v1h-1z" fill="#044367"/>
<path d="M75 0h2v1h-2zM78 0h2v1h-2zM81 0h2v1h-2zM85 0h1v1h-1zM77 1h4v1h-4zM83 1h3v1h-3zM56 2h1v1h-1zM74 2h1v1h-1zM76 2h1v1h-1zM82 2h1v1h-1zM84 2h1v1h-1zM55 3h1v1h-1zM59 3h1v1h-1zM69 3h1v1h-1zM76 3h1v1h-1zM69 4h1v1h-1zM81 4h1v1h-1zM39 5h1v1h-1zM41 5h1v1h-1zM36 7h1v1h-1zM66 8h1v1h-1zM87 8h1v1h-1zM7 11h1v1h-1zM86 13h1v1h-1zM36 14h2v1h-2zM40 14h1v1h-1zM54 14h1v1h-1zM61 14h1v1h-1zM80 14h1v1h-1zM85 14h1v1h-1zM33 15h1v1h-1zM41 15h1v1h-1zM61 15h1v1h-1zM86 15h1v1h-1zM20 16h1v1h-1zM44 16h1v1h-1zM50 16h1v1h-1zM67 16h1v1h-1zM51 17h1v1h-1zM56 17h1v1h-1zM69 17h1v1h-1zM73 17h2v1h-2zM39 18h1v1h-1zM54 18h1v1h-1zM59 18h1v1h-1zM63 18h1v1h-1zM34 20h1v1h-1zM46 20h1v1h-1zM50 20h1v1h-1zM25 21h1v1h-1zM28 21h1v1h-1zM72 21h1v1h-1zM42 23h1v1h-1zM56 23h2v1h-2zM59 23h1v1h-1zM61 23h1v1h-1zM67 23h1v1h-1zM22 24h1v1h-1zM57 24h1v1h-1zM42 25h2v1h-2zM40 26h1v1h-1zM58 26h1v1h-1zM32 27h1v1h-1zM47 27h1v1h-1zM41 28h1v1h-1zM45 28h1v1h-1zM40 29h1v1h-1zM14 30h1v1h-1zM18 30h2v1h-2zM23 30h1v1h-1zM49 30h1v1h-1zM4 31h1v1h-1zM20 31h1v1h-1zM43 31h1v1h-1zM1 32h1v1h-1zM3 32h1v1h-1zM40 32h1v1h-1zM51 32h2v1h-2zM2 33h1v1h-1zM6 33h1v1h-1zM12 33h1v1h-1zM34 33h1v1h-1zM41 33h1v1h-1zM44 33h1v1h-1zM17 34h1v1h-1zM39 34h1v1h-1zM43 34h2v1h-2zM53 34h1v1h-1zM3 35h1v1h-1zM5 35h1v1h-1zM11 35h1v1h-1zM49 35h1v1h-1zM51 35h1v1h-1zM2 36h1v1h-1zM8 36h1v1h-1zM38 36h1v1h-1zM48 36h1v1h-1zM50 36h1v1h-1zM3 37h1v1h-1zM11 37h1v1h-1zM17 37h1v1h-1zM7 38h1v1h-1zM26 38h1v1h-1zM46 38h1v1h-1zM4 39h4v1h-4zM27 39h1v1h-1zM39 39h2v1h-2zM42 39h1v1h-1zM0 41h1v1h-1zM3 41h1v1h-1zM7 41h1v1h-1zM27 41h1v1h-1zM40 41h1v1h-1zM46 41h1v1h-1zM8 42h1v1h-1zM17 42h1v1h-1zM19 42h3v1h-3zM35 42h1v1h-1zM53 42h1v1h-1zM0 43h1v1h-1zM19 43h1v1h-1zM34 43h1v1h-1zM37 43h1v1h-1zM6 44h1v1h-1zM15 44h2v1h-2zM45 44h1v1h-1zM49 44h1v1h-1zM55 44h1v1h-1zM2 45h1v1h-1zM13 45h1v1h-1zM25 45h1v1h-1zM43 45h1v1h-1zM57 46h1v1h-1zM70 46h1v1h-1zM38 47h1v1h-1zM47 47h1v1h-1zM57 47h1v1h-1zM71 47h1v1h-1zM20 48h1v1h-1zM47 48h1v1h-1zM60 48h1v1h-1zM27 49h1v1h-1zM31 49h2v1h-2zM41 49h1v1h-1zM53 49h1v1h-1zM56 49h1v1h-1zM59 49h1v1h-1zM75 49h1v1h-1zM7 50h1v1h-1zM22 50h1v1h-1zM83 50h1v1h-1zM25 51h1v1h-1zM55 51h1v1h-1zM63 51h1v1h-1zM12 52h1v1h-1zM20 52h1v1h-1zM36 52h1v1h-1zM32 53h1v1h-1zM36 53h1v1h-1zM50 53h1v1h-1zM70 53h1v1h-1zM25 54h1v1h-1zM45 54h1v1h-1zM68 54h1v1h-1zM41 55h1v1h-1zM61 56h1v1h-1zM74 58h1v1h-1zM80 58h1v1h-1zM54 64h1v1h-1z" fill="#054564"/>
<path d="M57 1h1v1h-1zM70 1h1v1h-1zM87 2h1v1h-1zM32 3h1v1h-1zM74 3h1v1h-1zM87 4h2v1h-2zM32 6h1v1h-1zM43 6h1v1h-1zM45 6h1v1h-1zM3 8h1v1h-1zM31 9h1v1h-1zM68 9h1v1h-1zM76 12h2v1h-2zM74 13h1v1h-1zM41 14h1v1h-1zM50 14h1v1h-1zM26 15h1v1h-1zM38 15h1v1h-1zM58 15h1v1h-1zM51 16h1v1h-1zM61 16h1v1h-1zM70 16h1v1h-1zM86 16h1v1h-1zM70 17h1v1h-1zM22 18h1v1h-1zM35 18h1v1h-1zM73 18h1v1h-1zM32 19h2v1h-2zM41 19h2v1h-2zM59 19h1v1h-1zM71 19h1v1h-1zM45 20h1v1h-1zM60 21h2v1h-2zM56 22h1v1h-1zM61 22h1v1h-1zM43 23h1v1h-1zM41 24h1v1h-1zM66 24h1v1h-1zM54 25h1v1h-1zM60 25h1v1h-1zM33 26h1v1h-1zM53 26h1v1h-1zM51 27h1v1h-1zM14 28h2v1h-2zM21 28h1v1h-1zM27 28h1v1h-1zM44 28h1v1h-1zM53 28h1v1h-1zM27 29h1v1h-1zM31 29h1v1h-1zM45 29h1v1h-1zM51 29h2v1h-2zM15 30h1v1h-1zM27 30h1v1h-1zM47 31h1v1h-1zM5 32h1v1h-1zM11 32h1v1h-1zM21 32h1v1h-1zM24 32h1v1h-1zM42 32h1v1h-1zM50 32h1v1h-1zM14 33h1v1h-1zM24 33h1v1h-1zM51 33h1v1h-1zM12 34h1v1h-1zM52 34h1v1h-1zM6 35h1v1h-1zM10 35h1v1h-1zM30 35h1v1h-1zM34 35h1v1h-1zM9 36h1v1h-1zM23 36h1v1h-1zM2 37h1v1h-1zM5 37h2v1h-2zM32 37h1v1h-1zM46 37h2v1h-2zM0 38h1v1h-1zM9 38h1v1h-1zM23 38h1v1h-1zM25 38h1v1h-1zM39 38h1v1h-1zM44 38h2v1h-2zM54 38h1v1h-1zM23 39h1v1h-1zM51 39h1v1h-1zM56 39h1v1h-1zM0 40h1v1h-1zM7 40h1v1h-1zM17 40h1v1h-1zM31 40h1v1h-1zM35 40h2v1h-2zM1 41h1v1h-1zM24 41h1v1h-1zM54 41h1v1h-1zM1 42h2v1h-2zM15 42h1v1h-1zM18 42h1v1h-1zM39 42h2v1h-2zM1 43h1v1h-1zM3 43h1v1h-1zM9 43h1v1h-1zM55 43h1v1h-1zM30 44h1v1h-1zM33 44h1v1h-1zM10 45h1v1h-1zM37 45h1v1h-1zM55 45h1v1h-1zM60 46h1v1h-1zM68 46h1v1h-1zM22 47h1v1h-1zM34 47h1v1h-1zM39 47h1v1h-1zM44 47h1v1h-1zM55 47h1v1h-1zM66 47h1v1h-1zM35 48h1v1h-1zM43 48h2v1h-2zM48 48h1v1h-1zM50 48h1v1h-1zM53 48h1v1h-1zM67 48h1v1h-1zM21 49h1v1h-1zM52 49h1v1h-1zM16 50h1v1h-1zM53 50h2v1h-2zM60 50h1v1h-1zM46 51h1v1h-1zM48 51h1v1h-1zM65 51h1v1h-1zM85 51h1v1h-1zM35 52h1v1h-1zM56 52h1v1h-1zM84 52h1v1h-1zM34 53h1v1h-1zM79 53h1v1h-1zM42 55h1v1h-1zM69 55h2v1h-2zM76 55h1v1h-1zM34 56h2v1h-2zM44 56h1v1h-1zM68 56h1v1h-1zM38 57h2v1h-2zM65 57h1v1h-1z" fill="#064862"/>
<path d="M73 0h1v1h-1zM72 1h1v1h-1zM74 1h1v1h-1zM57 2h1v1h-1zM73 2h1v1h-1zM87 3h1v1h-1zM70 4h1v1h-1zM73 5h1v1h-1zM68 6h1v1h-1zM30 7h1v1h-1zM38 7h1v1h-1zM29 8h1v1h-1zM31 8h1v1h-1zM30 9h1v1h-1zM73 9h1v1h-1zM73 11h1v1h-1zM7 13h1v1h-1zM75 14h1v1h-1zM34 15h1v1h-1zM54 15h1v1h-1zM59 15h1v1h-1zM88 15h1v1h-1zM8 16h1v1h-1zM43 16h1v1h-1zM58 16h1v1h-1zM34 17h2v1h-2zM43 17h1v1h-1zM47 18h1v1h-1zM66 18h1v1h-1zM58 19h1v1h-1zM66 19h2v1h-2zM70 19h1v1h-1zM72 19h1v1h-1zM52 20h1v1h-1zM44 21h1v1h-1zM24 22h1v1h-1zM42 22h1v1h-1zM53 23h1v1h-1zM60 23h1v1h-1zM39 25h1v1h-1zM58 25h1v1h-1zM13 26h1v1h-1zM32 26h1v1h-1zM31 27h1v1h-1zM37 27h1v1h-1zM40 27h1v1h-1zM42 27h1v1h-1zM56 27h1v1h-1zM23 28h1v1h-1zM43 28h1v1h-1zM47 28h1v1h-1zM60 28h1v1h-1zM21 29h1v1h-1zM39 29h1v1h-1zM43 29h2v1h-2zM28 30h1v1h-1zM47 30h1v1h-1zM2 31h1v1h-1zM5 31h1v1h-1zM26 31h1v1h-1zM22 32h1v1h-1zM44 32h1v1h-1zM54 32h1v1h-1zM10 33h1v1h-1zM35 33h1v1h-1zM42 33h1v1h-1zM52 33h1v1h-1zM0 34h1v1h-1zM2 34h2v1h-2zM51 34h1v1h-1zM12 35h1v1h-1zM17 35h1v1h-1zM1 36h1v1h-1zM26 36h1v1h-1zM7 37h2v1h-2zM33 37h2v1h-2zM45 37h1v1h-1zM13 38h1v1h-1zM15 38h1v1h-1zM38 38h1v1h-1zM0 39h1v1h-1zM8 39h1v1h-1zM35 39h1v1h-1zM2 40h1v1h-1zM28 40h2v1h-2zM54 40h1v1h-1zM17 41h1v1h-1zM32 41h1v1h-1zM42 41h1v1h-1zM53 41h1v1h-1zM0 42h1v1h-1zM5 42h1v1h-1zM34 42h1v1h-1zM52 42h1v1h-1zM56 42h1v1h-1zM13 43h1v1h-1zM21 43h1v1h-1zM35 43h1v1h-1zM51 43h1v1h-1zM54 43h1v1h-1zM56 43h2v1h-2zM0 44h1v1h-1zM4 44h2v1h-2zM7 44h2v1h-2zM13 44h1v1h-1zM34 44h1v1h-1zM36 44h1v1h-1zM38 44h1v1h-1zM48 44h1v1h-1zM53 44h1v1h-1zM26 45h1v1h-1zM53 45h1v1h-1zM54 46h1v1h-1zM61 46h1v1h-1zM80 46h1v1h-1zM20 47h1v1h-1zM53 47h1v1h-1zM64 47h1v1h-1zM49 48h1v1h-1zM51 48h1v1h-1zM58 48h1v1h-1zM51 49h1v1h-1zM57 49h1v1h-1zM67 49h1v1h-1zM71 49h2v1h-2zM78 49h1v1h-1zM33 50h1v1h-1zM88 50h1v1h-1zM15 51h1v1h-1zM70 51h1v1h-1zM10 52h1v1h-1zM17 52h1v1h-1zM6 53h1v1h-1zM10 53h1v1h-1zM17 53h1v1h-1zM46 53h1v1h-1zM64 53h1v1h-1zM58 54h1v1h-1zM27 55h1v1h-1zM32 55h1v1h-1zM78 55h1v1h-1zM8 56h1v1h-1zM73 56h1v1h-1zM59 57h1v1h-1zM67 57h1v1h-1z" fill="#074a5f"/>
<path d="M80 0h1v1h-1zM86 1h1v1h-1zM58 2h1v1h-1zM31 5h1v1h-1zM30 6h1v1h-1zM33 7h2v1h-2zM32 8h1v1h-1zM12 11h1v1h-1zM71 11h1v1h-1zM5 12h2v1h-2zM11 12h1v1h-1zM73 12h1v1h-1zM69 13h1v1h-1zM12 14h1v1h-1zM74 14h1v1h-1zM65 15h1v1h-1zM89 15h1v1h-1zM63 16h1v1h-1zM62 17h1v1h-1zM67 17h2v1h-2zM69 18h1v1h-1zM45 19h1v1h-1zM47 21h1v1h-1zM51 21h1v1h-1zM48 24h1v1h-1zM58 24h1v1h-1zM72 24h1v1h-1zM36 26h1v1h-1zM46 26h1v1h-1zM25 27h1v1h-1zM30 27h1v1h-1zM50 27h1v1h-1zM26 28h1v1h-1zM30 28h2v1h-2zM40 28h1v1h-1zM29 29h1v1h-1zM33 29h1v1h-1zM55 29h1v1h-1zM59 29h1v1h-1zM24 30h1v1h-1zM34 30h2v1h-2zM43 30h1v1h-1zM52 30h1v1h-1zM15 31h1v1h-1zM23 31h1v1h-1zM33 31h1v1h-1zM55 31h1v1h-1zM0 32h1v1h-1zM4 32h1v1h-1zM46 32h1v1h-1zM56 32h1v1h-1zM4 33h2v1h-2zM33 33h1v1h-1zM38 33h2v1h-2zM43 33h1v1h-1zM6 34h1v1h-1zM2 35h1v1h-1zM38 35h1v1h-1zM6 36h1v1h-1zM51 36h1v1h-1zM9 37h1v1h-1zM12 37h1v1h-1zM35 37h1v1h-1zM50 37h2v1h-2zM8 38h1v1h-1zM11 38h1v1h-1zM16 38h1v1h-1zM22 38h1v1h-1zM40 38h1v1h-1zM52 38h1v1h-1zM25 39h1v1h-1zM28 39h1v1h-1zM37 39h1v1h-1zM15 40h1v1h-1zM43 40h1v1h-1zM52 40h1v1h-1zM55 40h1v1h-1zM4 41h1v1h-1zM30 41h1v1h-1zM39 41h1v1h-1zM23 42h2v1h-2zM45 42h1v1h-1zM51 42h1v1h-1zM55 42h1v1h-1zM15 43h2v1h-2zM31 43h1v1h-1zM45 43h1v1h-1zM10 44h1v1h-1zM18 44h1v1h-1zM36 45h1v1h-1zM44 45h2v1h-2zM49 46h1v1h-1zM59 46h1v1h-1zM65 46h1v1h-1zM74 46h1v1h-1zM77 46h1v1h-1zM37 47h1v1h-1zM50 47h1v1h-1zM40 49h1v1h-1zM70 49h1v1h-1zM39 50h1v1h-1zM44 50h1v1h-1zM59 50h1v1h-1zM63 50h1v1h-1zM72 50h1v1h-1zM80 50h1v1h-1zM17 51h1v1h-1zM40 51h1v1h-1zM66 51h1v1h-1zM78 51h1v1h-1zM33 52h1v1h-1zM69 52h1v1h-1zM35 53h1v1h-1zM38 53h1v1h-1zM56 53h1v1h-1zM7 54h1v1h-1zM36 54h1v1h-1zM50 54h1v1h-1zM64 55h1v1h-1zM84 55h1v1h-1zM24 56h1v1h-1zM39 56h1v1h-1zM70 57h1v1h-1z" fill="#084d5d"/>
<path d="M59 2h1v1h-1zM86 3h1v1h-1zM31 4h1v1h-1zM30 5h1v1h-1zM32 5h2v1h-2zM77 5h1v1h-1zM31 6h1v1h-1zM34 6h1v1h-1zM5 11h1v1h-1zM13 11h1v1h-1zM27 12h1v1h-1zM75 12h1v1h-1zM4 13h1v1h-1zM28 14h1v1h-1zM4 15h1v1h-1zM6 15h1v1h-1zM10 15h1v1h-1zM62 15h1v1h-1zM66 15h1v1h-1zM25 16h1v1h-1zM33 16h1v1h-1zM40 16h1v1h-1zM54 16h1v1h-1zM65 17h1v1h-1zM34 18h1v1h-1zM42 18h1v1h-1zM44 18h1v1h-1zM46 18h1v1h-1zM74 18h1v1h-1zM65 19h1v1h-1zM69 19h1v1h-1zM51 20h1v1h-1zM59 20h1v1h-1zM48 22h2v1h-2zM49 25h1v1h-1zM52 25h1v1h-1zM47 26h2v1h-2zM55 26h1v1h-1zM14 27h1v1h-1zM24 27h1v1h-1zM39 27h1v1h-1zM49 27h1v1h-1zM20 28h1v1h-1zM39 28h1v1h-1zM55 28h1v1h-1zM23 29h1v1h-1zM40 30h2v1h-2zM50 30h1v1h-1zM3 31h1v1h-1zM13 31h1v1h-1zM18 31h2v1h-2zM22 31h1v1h-1zM24 31h1v1h-1zM42 31h1v1h-1zM53 32h1v1h-1zM1 33h1v1h-1zM3 33h1v1h-1zM20 33h1v1h-1zM22 33h1v1h-1zM27 33h1v1h-1zM46 33h1v1h-1zM4 34h1v1h-1zM16 34h1v1h-1zM55 34h1v1h-1zM23 35h1v1h-1zM32 35h1v1h-1zM54 35h1v1h-1zM5 36h1v1h-1zM17 36h1v1h-1zM36 36h1v1h-1zM39 36h1v1h-1zM4 37h1v1h-1zM38 37h1v1h-1zM21 38h1v1h-1zM29 38h2v1h-2zM32 38h1v1h-1zM35 38h1v1h-1zM43 38h1v1h-1zM10 39h1v1h-1zM20 39h1v1h-1zM29 39h2v1h-2zM45 39h1v1h-1zM16 40h1v1h-1zM26 40h1v1h-1zM38 40h1v1h-1zM53 40h1v1h-1zM16 42h1v1h-1zM22 42h1v1h-1zM27 42h1v1h-1zM37 42h1v1h-1zM38 43h1v1h-1zM47 43h1v1h-1zM27 44h1v1h-1zM44 44h1v1h-1zM46 44h1v1h-1zM51 45h1v1h-1zM56 45h1v1h-1zM52 46h1v1h-1zM72 46h1v1h-1zM36 47h1v1h-1zM41 47h1v1h-1zM61 47h1v1h-1zM32 48h1v1h-1zM40 48h1v1h-1zM52 48h1v1h-1zM65 48h1v1h-1zM78 48h1v1h-1zM81 48h1v1h-1zM84 48h1v1h-1zM76 49h1v1h-1zM40 50h1v1h-1zM46 50h2v1h-2zM66 50h1v1h-1zM68 50h1v1h-1zM76 50h1v1h-1zM16 51h1v1h-1zM32 51h1v1h-1zM43 51h2v1h-2zM76 52h1v1h-1zM27 53h1v1h-1zM43 53h1v1h-1zM67 53h1v1h-1zM72 53h1v1h-1zM76 53h1v1h-1zM41 54h2v1h-2zM59 54h1v1h-1zM73 54h2v1h-2zM35 55h1v1h-1zM37 55h1v1h-1zM43 55h1v1h-1zM76 56h1v1h-1zM35 57h1v1h-1zM61 57h1v1h-1zM74 57h1v1h-1zM60 58h1v1h-1zM65 58h1v1h-1zM67 58h1v1h-1z" fill="#09505b"/>
<path d="M73 4h1v1h-1zM30 8h1v1h-1zM7 10h1v1h-1zM27 10h1v1h-1zM68 10h1v1h-1zM26 11h1v1h-1zM10 13h1v1h-1zM26 13h1v1h-1zM31 13h1v1h-1zM7 14h1v1h-1zM10 14h1v1h-1zM66 14h1v1h-1zM87 14h1v1h-1zM5 15h1v1h-1zM24 15h2v1h-2zM35 15h1v1h-1zM44 17h1v1h-1zM50 17h1v1h-1zM55 17h1v1h-1zM59 17h1v1h-1zM62 18h1v1h-1zM60 19h1v1h-1zM43 20h1v1h-1zM47 20h1v1h-1zM58 20h1v1h-1zM69 20h1v1h-1zM49 21h1v1h-1zM51 22h1v1h-1zM47 23h1v1h-1zM49 23h1v1h-1zM51 23h1v1h-1zM52 24h2v1h-2zM53 25h1v1h-1zM59 25h1v1h-1zM38 26h1v1h-1zM54 26h1v1h-1zM59 26h1v1h-1zM17 28h1v1h-1zM24 28h2v1h-2zM57 28h1v1h-1zM14 29h1v1h-1zM24 29h2v1h-2zM36 29h1v1h-1zM41 29h1v1h-1zM48 29h1v1h-1zM21 30h2v1h-2zM26 30h1v1h-1zM42 30h1v1h-1zM12 31h1v1h-1zM54 31h1v1h-1zM25 32h1v1h-1zM39 32h1v1h-1zM57 32h1v1h-1zM23 33h1v1h-1zM40 33h1v1h-1zM53 33h1v1h-1zM24 34h1v1h-1zM4 35h1v1h-1zM9 35h1v1h-1zM56 35h1v1h-1zM4 36h1v1h-1zM31 36h2v1h-2zM34 36h2v1h-2zM49 36h1v1h-1zM53 36h1v1h-1zM31 37h1v1h-1zM36 37h1v1h-1zM52 37h2v1h-2zM12 38h1v1h-1zM32 39h1v1h-1zM48 39h1v1h-1zM50 39h1v1h-1zM23 40h1v1h-1zM27 40h1v1h-1zM40 40h2v1h-2zM12 42h1v1h-1zM2 43h1v1h-1zM12 43h1v1h-1zM27 43h1v1h-1zM30 43h1v1h-1zM33 43h1v1h-1zM12 44h1v1h-1zM26 44h1v1h-1zM29 44h1v1h-1zM50 44h1v1h-1zM56 44h1v1h-1zM46 45h1v1h-1zM52 45h1v1h-1zM82 45h1v1h-1zM43 46h1v1h-1zM56 46h1v1h-1zM73 46h1v1h-1zM81 46h1v1h-1zM83 46h1v1h-1zM45 47h2v1h-2zM73 47h2v1h-2zM77 47h1v1h-1zM33 48h1v1h-1zM45 48h1v1h-1zM55 48h1v1h-1zM71 48h2v1h-2zM54 49h1v1h-1zM73 50h1v1h-1zM35 51h1v1h-1zM54 51h1v1h-1zM58 51h1v1h-1zM68 51h1v1h-1zM72 51h1v1h-1zM84 51h1v1h-1zM41 52h2v1h-2zM62 52h1v1h-1zM80 52h1v1h-1zM39 53h1v1h-1zM58 53h1v1h-1zM66 53h1v1h-1zM35 54h1v1h-1zM62 54h1v1h-1zM72 54h1v1h-1zM38 55h2v1h-2zM45 55h1v1h-1zM58 55h1v1h-1zM64 56h1v1h-1zM58 57h1v1h-1zM66 57h1v1h-1zM76 58h1v1h-1zM79 58h1v1h-1z" fill="#0a5258"/>
<path d="M29 6h1v1h-1zM6 9h1v1h-1zM29 9h1v1h-1zM9 12h1v1h-1zM66 12h1v1h-1zM69 12h1v1h-1zM86 12h1v1h-1zM6 13h1v1h-1zM19 13h1v1h-1zM31 14h1v1h-1zM51 14h1v1h-1zM20 15h2v1h-2zM27 15h1v1h-1zM59 16h1v1h-1zM47 17h1v1h-1zM8 18h1v1h-1zM41 18h1v1h-1zM64 18h1v1h-1zM67 18h1v1h-1zM61 20h1v1h-1zM59 22h1v1h-1zM70 22h1v1h-1zM46 25h1v1h-1zM49 26h1v1h-1zM57 26h1v1h-1zM54 27h1v1h-1zM37 28h1v1h-1zM57 29h1v1h-1zM46 30h1v1h-1zM52 31h1v1h-1zM36 32h1v1h-1zM38 32h1v1h-1zM14 34h2v1h-2zM21 34h1v1h-1zM13 35h1v1h-1zM35 35h1v1h-1zM22 36h1v1h-1zM29 36h1v1h-1zM28 38h1v1h-1zM47 38h1v1h-1zM8 40h1v1h-1zM10 40h1v1h-1zM22 40h1v1h-1zM37 40h1v1h-1zM46 40h1v1h-1zM16 41h1v1h-1zM29 41h1v1h-1zM55 41h2v1h-2zM4 42h1v1h-1zM9 42h2v1h-2zM14 42h1v1h-1zM36 42h1v1h-1zM47 42h1v1h-1zM23 43h2v1h-2zM19 44h1v1h-1zM35 44h1v1h-1zM50 45h1v1h-1zM34 46h1v1h-1zM84 46h1v1h-1zM34 48h1v1h-1zM59 48h1v1h-1zM63 48h1v1h-1zM74 48h1v1h-1zM34 49h1v1h-1zM39 49h1v1h-1zM68 49h1v1h-1zM34 50h2v1h-2zM81 50h1v1h-1zM33 51h1v1h-1zM38 51h1v1h-1zM42 51h1v1h-1zM71 51h1v1h-1zM38 52h1v1h-1zM73 52h1v1h-1zM41 53h1v1h-1zM60 53h1v1h-1zM38 54h1v1h-1zM40 55h1v1h-1zM36 56h1v1h-1zM36 57h1v1h-1zM63 57h1v1h-1zM71 57h1v1h-1zM64 58h1v1h-1zM71 58h2v1h-2zM70 59h1v1h-1z" fill="#0b5556"/>
<path d="M70 7h1v1h-1zM10 12h1v1h-1zM14 12h1v1h-1zM18 12h1v1h-1zM24 12h1v1h-1zM29 12h1v1h-1zM16 13h1v1h-1zM25 13h1v1h-1zM28 13h1v1h-1zM8 14h1v1h-1zM71 15h1v1h-1zM43 18h1v1h-1zM49 24h1v1h-1zM51 25h1v1h-1zM57 25h1v1h-1zM51 26h1v1h-1zM57 27h1v1h-1zM38 28h1v1h-1zM52 28h1v1h-1zM28 29h1v1h-1zM38 29h1v1h-1zM54 29h1v1h-1zM12 30h1v1h-1zM39 30h1v1h-1zM44 30h1v1h-1zM53 30h1v1h-1zM57 30h1v1h-1zM10 31h1v1h-1zM25 31h1v1h-1zM35 31h2v1h-2zM10 32h1v1h-1zM16 32h1v1h-1zM34 32h1v1h-1zM16 33h2v1h-2zM54 33h1v1h-1zM13 34h1v1h-1zM34 34h1v1h-1zM16 35h1v1h-1zM53 35h1v1h-1zM55 35h1v1h-1zM13 36h1v1h-1zM27 36h2v1h-2zM33 36h1v1h-1zM54 36h1v1h-1zM24 37h1v1h-1zM29 37h2v1h-2zM39 37h1v1h-1zM27 38h1v1h-1zM37 38h1v1h-1zM49 38h1v1h-1zM51 38h1v1h-1zM56 38h1v1h-1zM36 39h1v1h-1zM55 39h1v1h-1zM11 40h1v1h-1zM13 40h1v1h-1zM32 40h1v1h-1zM2 41h1v1h-1zM8 41h1v1h-1zM11 41h1v1h-1zM25 41h2v1h-2zM33 41h1v1h-1zM37 41h1v1h-1zM46 42h1v1h-1zM7 43h1v1h-1zM54 44h1v1h-1zM18 45h1v1h-1zM34 45h1v1h-1zM36 46h1v1h-1zM46 46h1v1h-1zM50 46h1v1h-1zM63 46h1v1h-1zM76 46h1v1h-1zM79 46h1v1h-1zM86 46h1v1h-1zM36 48h2v1h-2zM33 49h1v1h-1zM38 49h1v1h-1zM47 49h1v1h-1zM49 49h1v1h-1zM64 49h3v1h-3zM69 49h1v1h-1zM32 50h1v1h-1zM45 50h1v1h-1zM50 50h1v1h-1zM70 50h1v1h-1zM52 51h1v1h-1zM75 51h1v1h-1zM39 52h2v1h-2zM45 52h1v1h-1zM63 52h1v1h-1zM70 52h1v1h-1zM67 54h1v1h-1zM44 55h1v1h-1zM61 55h1v1h-1zM37 56h2v1h-2zM59 56h2v1h-2zM68 57h1v1h-1zM76 57h1v1h-1zM77 58h2v1h-2zM81 58h1v1h-1zM67 59h1v1h-1zM72 59h1v1h-1z" fill="#0c5753"/>
<path d="M4 9h1v1h-1zM10 9h1v1h-1zM10 10h1v1h-1zM12 12h2v1h-2zM9 13h1v1h-1zM71 13h1v1h-1zM13 14h1v1h-1zM22 15h1v1h-1zM42 15h1v1h-1zM52 15h1v1h-1zM56 15h1v1h-1zM41 17h1v1h-1zM66 17h1v1h-1zM45 18h1v1h-1zM44 19h1v1h-1zM57 19h1v1h-1zM50 22h1v1h-1zM51 24h1v1h-1zM47 25h1v1h-1zM50 26h1v1h-1zM52 26h1v1h-1zM38 27h1v1h-1zM13 28h1v1h-1zM16 28h1v1h-1zM56 28h1v1h-1zM34 29h1v1h-1zM53 29h1v1h-1zM56 29h1v1h-1zM36 30h1v1h-1zM11 31h1v1h-1zM34 31h1v1h-1zM51 31h1v1h-1zM37 33h1v1h-1zM35 34h1v1h-1zM54 34h1v1h-1zM57 34h1v1h-1zM22 35h1v1h-1zM11 36h1v1h-1zM55 36h2v1h-2zM26 37h1v1h-1zM50 38h1v1h-1zM22 39h1v1h-1zM14 40h1v1h-1zM20 41h1v1h-1zM35 41h1v1h-1zM52 41h1v1h-1zM3 42h1v1h-1zM7 42h1v1h-1zM29 42h1v1h-1zM47 44h1v1h-1zM32 45h1v1h-1zM47 45h1v1h-1zM75 46h1v1h-1zM78 46h1v1h-1zM49 47h1v1h-1zM67 47h1v1h-1zM76 48h1v1h-1zM77 49h1v1h-1zM49 50h1v1h-1zM62 50h1v1h-1zM67 50h1v1h-1zM53 51h1v1h-1zM37 52h1v1h-1zM55 52h1v1h-1zM61 52h1v1h-1zM75 52h1v1h-1zM42 53h1v1h-1zM63 53h1v1h-1zM69 53h1v1h-1zM39 54h1v1h-1zM44 54h1v1h-1zM66 54h1v1h-1zM69 54h2v1h-2zM63 56h1v1h-1zM65 56h1v1h-1zM75 57h1v1h-1zM66 58h1v1h-1zM68 58h1v1h-1z" fill="#0d5a51"/>
<path d="M29 5h1v1h-1zM6 11h1v1h-1zM18 11h1v1h-1zM27 11h1v1h-1zM26 12h1v1h-1zM28 12h1v1h-1zM14 13h1v1h-1zM29 13h1v1h-1zM17 14h1v1h-1zM29 14h2v1h-2zM60 15h1v1h-1zM44 20h1v1h-1zM48 23h1v1h-1zM52 23h1v1h-1zM46 24h1v1h-1zM56 25h1v1h-1zM37 26h1v1h-1zM56 26h1v1h-1zM53 27h1v1h-1zM49 28h1v1h-1zM37 29h1v1h-1zM25 30h1v1h-1zM45 30h1v1h-1zM46 31h1v1h-1zM15 33h1v1h-1zM55 33h1v1h-1zM56 34h1v1h-1zM29 35h1v1h-1zM37 35h1v1h-1zM10 36h1v1h-1zM14 36h1v1h-1zM30 36h1v1h-1zM13 37h1v1h-1zM15 39h1v1h-1zM12 40h1v1h-1zM21 40h1v1h-1zM10 41h1v1h-1zM13 41h1v1h-1zM22 41h1v1h-1zM47 41h2v1h-2zM26 42h1v1h-1zM30 42h1v1h-1zM32 42h1v1h-1zM28 43h1v1h-1zM49 43h1v1h-1zM51 44h1v1h-1zM57 44h1v1h-1zM49 45h1v1h-1zM84 45h1v1h-1zM44 46h1v1h-1zM51 46h1v1h-1zM66 46h1v1h-1zM60 47h1v1h-1zM63 47h1v1h-1zM80 47h1v1h-1zM85 47h1v1h-1zM39 48h1v1h-1zM68 48h2v1h-2zM75 48h1v1h-1zM45 49h1v1h-1zM55 49h1v1h-1zM63 49h1v1h-1zM79 49h1v1h-1zM37 50h1v1h-1zM57 50h1v1h-1zM64 50h1v1h-1zM77 50h1v1h-1zM36 51h1v1h-1zM74 51h1v1h-1zM34 52h1v1h-1zM78 53h1v1h-1zM89 53h1v1h-1zM60 54h2v1h-2zM75 54h1v1h-1zM56 55h2v1h-2zM59 55h1v1h-1zM66 55h1v1h-1zM66 56h1v1h-1zM57 57h1v1h-1zM57 58h2v1h-2zM79 59h1v1h-1zM56 60h1v1h-1zM56 61h1v1h-1zM62 67h1v1h-1z" fill="#0e5c4f"/>
<path d="M6 10h1v1h-1zM11 11h1v1h-1zM14 11h1v1h-1zM28 11h1v1h-1zM17 12h1v1h-1zM30 12h1v1h-1zM24 13h1v1h-1zM30 13h1v1h-1zM9 14h1v1h-1zM7 15h1v1h-1zM64 17h1v1h-1zM68 18h1v1h-1zM46 23h1v1h-1zM50 23h1v1h-1zM47 24h1v1h-1zM50 25h1v1h-1zM52 27h1v1h-1zM59 27h1v1h-1zM37 30h1v1h-1zM70 30h1v1h-1zM75 30h1v1h-1zM39 31h1v1h-1zM56 31h2v1h-2zM35 32h1v1h-1zM37 32h1v1h-1zM22 34h1v1h-1zM14 35h1v1h-1zM12 36h1v1h-1zM15 36h1v1h-1zM28 37h1v1h-1zM56 37h2v1h-2zM55 38h1v1h-1zM9 40h1v1h-1zM24 40h2v1h-2zM9 41h1v1h-1zM15 41h1v1h-1zM23 41h1v1h-1zM13 42h1v1h-1zM50 42h1v1h-1zM11 43h1v1h-1zM28 44h1v1h-1zM78 45h2v1h-2zM85 45h1v1h-1zM67 46h1v1h-1zM71 46h1v1h-1zM65 47h1v1h-1zM94 47h1v1h-1zM46 48h1v1h-1zM66 48h1v1h-1zM79 48h1v1h-1zM82 48h1v1h-1zM95 48h1v1h-1zM87 49h1v1h-1zM94 49h1v1h-1zM38 50h1v1h-1zM65 50h1v1h-1zM76 51h1v1h-1zM60 52h1v1h-1zM77 52h1v1h-1zM57 53h1v1h-1zM62 53h1v1h-1zM76 54h1v1h-1zM62 55h1v1h-1zM71 56h1v1h-1zM77 57h1v1h-1zM62 58h1v1h-1zM70 58h1v1h-1zM62 68h1v1h-1z" fill="#0f5f4c"/>
<path d="M24 10h1v1h-1zM26 10h1v1h-1zM15 11h1v1h-1zM20 12h1v1h-1zM12 13h1v1h-1zM17 13h1v1h-1zM56 16h1v1h-1zM36 27h1v1h-1zM36 28h1v1h-1zM38 30h1v1h-1zM56 30h1v1h-1zM23 32h1v1h-1zM13 33h1v1h-1zM36 34h1v1h-1zM36 35h1v1h-1zM37 36h1v1h-1zM10 37h1v1h-1zM24 38h1v1h-1zM12 39h1v1h-1zM47 39h1v1h-1zM50 40h1v1h-1zM36 41h1v1h-1zM87 41h1v1h-1zM48 42h1v1h-1zM58 42h1v1h-1zM83 42h1v1h-1zM29 43h1v1h-1zM48 43h1v1h-1zM50 43h1v1h-1zM84 43h1v1h-1zM52 44h1v1h-1zM83 44h1v1h-1zM62 46h1v1h-1zM64 46h1v1h-1zM51 47h2v1h-2zM95 47h1v1h-1zM35 49h1v1h-1zM37 49h1v1h-1zM46 49h1v1h-1zM95 49h1v1h-1zM41 50h1v1h-1zM51 50h1v1h-1zM69 50h1v1h-1zM90 50h1v1h-1zM67 51h1v1h-1zM73 51h1v1h-1zM73 53h1v1h-1zM90 53h1v1h-1zM89 54h1v1h-1zM62 57h1v1h-1zM73 58h1v1h-1zM56 59h1v1h-1zM64 59h1v1h-1zM66 59h1v1h-1zM68 59h1v1h-1zM73 59h3v1h-3zM78 59h1v1h-1zM71 60h1v1h-1zM76 61h1v1h-1zM69 62h1v1h-1zM70 63h1v1h-1zM58 66h1v1h-1z" fill="#10614a"/>
<path d="M11 9h1v1h-1zM25 11h1v1h-1zM15 13h1v1h-1zM27 13h1v1h-1zM51 13h1v1h-1zM14 14h1v1h-1zM16 14h1v1h-1zM18 14h1v1h-1zM27 14h1v1h-1zM23 15h1v1h-1zM42 16h1v1h-1zM65 18h1v1h-1zM43 19h1v1h-1zM51 28h1v1h-1zM49 29h1v1h-1zM58 30h1v1h-1zM14 31h1v1h-1zM45 32h1v1h-1zM57 35h1v1h-1zM49 37h1v1h-1zM48 38h1v1h-1zM9 39h1v1h-1zM14 39h1v1h-1zM16 39h1v1h-1zM24 39h1v1h-1zM47 40h1v1h-1zM49 40h1v1h-1zM51 40h1v1h-1zM12 41h1v1h-1zM28 41h1v1h-1zM11 42h1v1h-1zM49 42h1v1h-1zM57 45h1v1h-1zM68 45h1v1h-1zM72 45h1v1h-1zM80 45h1v1h-1zM83 45h1v1h-1zM86 45h1v1h-1zM93 46h1v1h-1zM61 48h2v1h-2zM36 49h1v1h-1zM74 49h1v1h-1zM90 49h1v1h-1zM92 51h1v1h-1zM72 52h1v1h-1zM91 52h1v1h-1zM33 53h1v1h-1zM77 53h1v1h-1zM90 54h1v1h-1zM65 55h1v1h-1zM69 56h1v1h-1zM64 57h1v1h-1zM59 58h1v1h-1zM63 58h1v1h-1zM63 59h1v1h-1zM76 59h1v1h-1zM70 60h1v1h-1zM72 60h1v1h-1zM69 61h3v1h-3zM69 63h1v1h-1zM60 64h2v1h-2zM70 65h1v1h-1zM61 67h1v1h-1zM65 68h1v1h-1zM69 68h1v1h-1zM60 69h1v1h-1z" fill="#126447"/>
<path d="M12 9h1v1h-1zM31 10h1v1h-1zM15 12h1v1h-1zM25 14h1v1h-1zM60 16h1v1h-1zM48 25h1v1h-1zM12 28h1v1h-1zM44 31h2v1h-2zM36 33h1v1h-1zM23 34h1v1h-1zM15 35h1v1h-1zM58 36h1v1h-1zM15 37h1v1h-1zM14 38h1v1h-1zM49 39h1v1h-1zM57 39h1v1h-1zM57 40h1v1h-1zM57 41h1v1h-1zM28 42h1v1h-1zM85 42h1v1h-1zM52 43h1v1h-1zM85 43h1v1h-1zM58 44h1v1h-1zM82 44h1v1h-1zM85 44h1v1h-1zM58 45h1v1h-1zM67 45h1v1h-1zM81 45h1v1h-1zM94 46h2v1h-2zM93 47h1v1h-1zM64 48h1v1h-1zM80 48h1v1h-1zM87 48h1v1h-1zM82 49h1v1h-1zM56 50h1v1h-1zM62 51h1v1h-1zM90 51h1v1h-1zM56 54h1v1h-1zM36 55h1v1h-1zM71 55h1v1h-1zM73 55h1v1h-1zM89 55h1v1h-1zM61 58h1v1h-1zM57 59h1v1h-1zM68 60h1v1h-1zM73 60h1v1h-1zM77 60h2v1h-2zM67 61h1v1h-1zM73 61h1v1h-1zM71 62h1v1h-1zM72 63h1v1h-1zM63 65h1v1h-1zM66 65h1v1h-1zM69 65h1v1h-1zM60 66h1v1h-1zM62 66h1v1h-1zM64 66h1v1h-1zM59 68h1v1h-1z" fill="#136645"/>
<path d="M26 6h1v1h-1zM8 9h1v1h-1zM13 10h1v1h-1zM29 10h1v1h-1zM30 11h1v1h-1zM25 12h1v1h-1zM21 14h1v1h-1zM50 24h1v1h-1zM13 29h1v1h-1zM35 29h1v1h-1zM72 31h1v1h-1zM57 36h1v1h-1zM14 37h1v1h-1zM37 37h1v1h-1zM13 39h1v1h-1zM88 40h1v1h-1zM58 41h1v1h-1zM58 43h1v1h-1zM82 43h1v1h-1zM91 43h1v1h-1zM94 45h1v1h-1zM69 46h1v1h-1zM70 48h1v1h-1zM89 49h1v1h-1zM52 50h1v1h-1zM89 50h1v1h-1zM91 50h1v1h-1zM89 51h1v1h-1zM91 51h1v1h-1zM65 53h1v1h-1zM91 54h1v1h-1zM63 55h1v1h-1zM56 56h1v1h-1zM70 56h1v1h-1zM58 59h4v1h-4zM59 60h1v1h-1zM74 60h2v1h-2zM72 61h1v1h-1zM77 61h1v1h-1zM60 62h1v1h-1zM67 62h1v1h-1zM60 63h1v1h-1zM68 63h1v1h-1zM59 64h1v1h-1zM62 64h1v1h-1zM66 64h2v1h-2zM70 64h2v1h-2zM73 64h2v1h-2zM60 65h1v1h-1zM69 66h1v1h-1zM65 67h1v1h-1zM70 67h1v1h-1zM60 68h1v1h-1zM62 69h1v1h-1z" fill="#146942"/>
<path d="M16 5h1v1h-1zM25 5h1v1h-1zM26 8h1v1h-1zM15 10h1v1h-1zM28 10h1v1h-1zM16 11h1v1h-1zM29 11h1v1h-1zM8 12h1v1h-1zM21 12h1v1h-1zM18 13h1v1h-1zM22 13h1v1h-1zM23 14h1v1h-1zM50 29h1v1h-1zM69 31h1v1h-1zM57 38h1v1h-1zM48 40h1v1h-1zM56 40h1v1h-1zM85 40h1v1h-1zM14 41h1v1h-1zM88 41h1v1h-1zM57 42h1v1h-1zM89 43h1v1h-1zM93 44h1v1h-1zM63 45h2v1h-2zM69 45h1v1h-1zM73 45h1v1h-1zM94 48h1v1h-1zM64 51h1v1h-1zM89 52h2v1h-2zM60 55h1v1h-1zM90 55h1v1h-1zM57 56h1v1h-1zM69 57h1v1h-1zM65 59h1v1h-1zM60 60h1v1h-1zM69 60h1v1h-1zM63 61h1v1h-1zM74 61h2v1h-2zM68 62h1v1h-1zM59 63h1v1h-1zM62 63h1v1h-1zM73 63h2v1h-2zM68 64h1v1h-1zM61 65h2v1h-2zM64 65h2v1h-2zM74 65h1v1h-1zM65 66h1v1h-1zM64 67h1v1h-1zM59 69h1v1h-1z" fill="#156b40"/>
<path d="M26 3h1v1h-1zM18 4h1v1h-1zM26 5h1v1h-1zM26 7h1v1h-1zM13 9h1v1h-1zM25 9h3v1h-3zM9 10h1v1h-1zM14 10h1v1h-1zM25 10h1v1h-1zM30 10h1v1h-1zM31 11h1v1h-1zM16 12h1v1h-1zM6 14h1v1h-1zM26 14h1v1h-1zM52 39h2v1h-2zM58 39h1v1h-1zM58 40h2v1h-2zM88 42h1v1h-1zM86 43h1v1h-1zM92 44h1v1h-1zM60 45h2v1h-2zM65 45h2v1h-2zM70 45h1v1h-1zM76 45h1v1h-1zM93 45h1v1h-1zM88 48h1v1h-1zM91 49h1v1h-1zM93 49h1v1h-1zM55 50h1v1h-1zM45 51h1v1h-1zM64 52h1v1h-1zM40 53h1v1h-1zM40 54h1v1h-1zM63 54h1v1h-1zM77 54h1v1h-1zM58 56h1v1h-1zM57 60h1v1h-1zM63 60h1v1h-1zM65 60h1v1h-1zM67 60h1v1h-1zM57 61h1v1h-1zM62 61h1v1h-1zM64 61h1v1h-1zM68 61h1v1h-1zM79 62h1v1h-1zM61 63h1v1h-1zM65 63h3v1h-3zM71 63h1v1h-1zM78 63h1v1h-1zM72 64h1v1h-1zM67 65h1v1h-1zM71 65h2v1h-2zM63 66h1v1h-1zM71 66h1v1h-1zM60 67h1v1h-1zM69 67h1v1h-1z" fill="#166e3e"/>
<path d="M27 4h1v1h-1zM24 5h1v1h-1zM27 5h1v1h-1zM15 6h3v1h-3zM25 6h1v1h-1zM24 7h1v1h-1zM27 8h1v1h-1zM9 9h1v1h-1zM17 9h1v1h-1zM24 9h1v1h-1zM8 10h1v1h-1zM18 10h1v1h-1zM22 10h1v1h-1zM19 11h1v1h-1zM23 11h1v1h-1zM19 12h1v1h-1zM19 15h1v1h-1zM8 17h1v1h-1zM50 28h1v1h-1zM16 29h1v1h-1zM64 37h1v1h-1zM87 40h1v1h-1zM49 41h1v1h-1zM89 41h1v1h-1zM66 42h1v1h-1zM88 43h1v1h-1zM59 44h1v1h-1zM87 44h1v1h-1zM91 44h1v1h-1zM59 45h1v1h-1zM62 45h1v1h-1zM74 45h2v1h-2zM91 45h2v1h-2zM87 46h1v1h-1zM92 46h1v1h-1zM86 47h1v1h-1zM92 47h1v1h-1zM91 48h2v1h-2zM92 49h1v1h-1zM43 54h1v1h-1zM56 58h1v1h-1zM62 60h1v1h-1zM58 61h1v1h-1zM78 61h1v1h-1zM63 62h2v1h-2zM74 62h2v1h-2zM56 63h1v1h-1zM63 63h1v1h-1zM64 64h1v1h-1zM66 68h1v1h-1z" fill="#17703b"/>
<path d="M19 4h1v1h-1zM24 6h1v1h-1zM13 7h1v1h-1zM23 8h1v1h-1zM25 8h1v1h-1zM28 8h1v1h-1zM14 9h1v1h-1zM20 9h1v1h-1zM4 10h1v1h-1zM16 10h1v1h-1zM17 11h1v1h-1zM20 11h1v1h-1zM19 14h2v1h-2zM38 31h1v1h-1zM64 32h1v1h-1zM72 32h1v1h-1zM71 33h1v1h-1zM63 34h1v1h-1zM62 35h1v1h-1zM86 36h1v1h-1zM66 40h1v1h-1zM50 41h1v1h-1zM66 41h1v1h-1zM89 42h1v1h-1zM10 43h1v1h-1zM66 43h1v1h-1zM86 44h1v1h-1zM88 44h1v1h-1zM77 45h1v1h-1zM69 47h1v1h-1zM64 54h1v1h-1zM69 58h1v1h-1zM66 60h1v1h-1zM76 60h1v1h-1zM61 61h1v1h-1zM61 62h2v1h-2zM65 62h1v1h-1zM58 63h1v1h-1zM59 65h1v1h-1zM56 66h2v1h-2zM59 67h1v1h-1z" fill="#187339"/>
<path d="M24 4h1v1h-1zM4 5h1v1h-1zM28 5h1v1h-1zM4 6h1v1h-1zM13 6h1v1h-1zM23 6h1v1h-1zM27 6h1v1h-1zM2 7h4v1h-4zM23 7h1v1h-1zM27 7h1v1h-1zM8 8h1v1h-1zM11 8h1v1h-1zM16 8h1v1h-1zM24 8h1v1h-1zM28 9h1v1h-1zM17 10h1v1h-1zM19 10h1v1h-1zM23 10h1v1h-1zM7 16h1v1h-1zM6 18h1v1h-1zM37 31h1v1h-1zM70 31h1v1h-1zM65 32h1v1h-1zM65 33h1v1h-1zM60 38h1v1h-1zM85 38h1v1h-1zM82 40h1v1h-1zM67 41h2v1h-2zM65 42h1v1h-1zM68 43h1v1h-1zM90 43h1v1h-1zM69 44h1v1h-1zM73 44h1v1h-1zM81 44h1v1h-1zM91 46h1v1h-1zM91 47h1v1h-1zM62 49h1v1h-1zM80 49h1v1h-1zM75 53h1v1h-1zM62 59h1v1h-1zM61 60h1v1h-1zM60 61h1v1h-1zM66 61h1v1h-1zM58 62h1v1h-1zM58 68h1v1h-1z" fill="#197536"/>
<path d="M26 4h1v1h-1zM9 6h1v1h-1zM9 7h1v1h-1zM12 7h1v1h-1zM14 7h2v1h-2zM18 7h1v1h-1zM6 8h1v1h-1zM12 8h4v1h-4zM16 9h1v1h-1zM23 9h1v1h-1zM20 10h1v1h-1zM21 11h1v1h-1zM24 11h1v1h-1zM7 12h1v1h-1zM24 14h1v1h-1zM76 31h1v1h-1zM63 33h1v1h-1zM63 35h3v1h-3zM63 37h1v1h-1zM67 37h1v1h-1zM85 37h1v1h-1zM58 38h1v1h-1zM65 38h1v1h-1zM73 38h1v1h-1zM62 39h1v1h-1zM65 39h1v1h-1zM67 39h1v1h-1zM70 39h1v1h-1zM77 39h1v1h-1zM68 40h3v1h-3zM75 40h1v1h-1zM51 41h1v1h-1zM59 41h1v1h-1zM64 41h2v1h-2zM70 41h2v1h-2zM75 41h1v1h-1zM90 41h1v1h-1zM64 42h1v1h-1zM68 42h2v1h-2zM71 42h1v1h-1zM91 42h1v1h-1zM60 43h1v1h-1zM64 43h1v1h-1zM87 43h1v1h-1zM60 44h1v1h-1zM64 44h4v1h-4zM79 44h2v1h-2zM87 45h1v1h-1zM89 45h1v1h-1zM88 46h1v1h-1zM90 46h1v1h-1zM87 47h1v1h-1zM65 61h1v1h-1zM66 62h1v1h-1zM57 65h1v1h-1zM57 68h1v1h-1z" fill="#1a7834"/>
<path d="M2 5h1v1h-1zM1 6h1v1h-1zM5 6h1v1h-1zM14 6h1v1h-1zM0 7h2v1h-2zM17 7h1v1h-1zM19 7h1v1h-1zM7 8h1v1h-1zM9 8h1v1h-1zM17 8h1v1h-1zM19 8h1v1h-1zM22 9h1v1h-1zM22 12h1v1h-1zM31 12h1v1h-1zM21 13h1v1h-1zM8 15h1v1h-1zM70 32h1v1h-1zM74 32h1v1h-1zM75 33h1v1h-1zM64 34h1v1h-1zM73 37h1v1h-1zM76 37h1v1h-1zM84 37h1v1h-1zM59 38h1v1h-1zM72 38h1v1h-1zM72 39h2v1h-2zM85 39h1v1h-1zM62 40h3v1h-3zM67 40h1v1h-1zM72 40h1v1h-1zM73 41h2v1h-2zM81 41h1v1h-1zM59 42h1v1h-1zM61 42h1v1h-1zM67 42h1v1h-1zM79 43h1v1h-1zM81 43h1v1h-1zM68 44h1v1h-1zM85 46h1v1h-1zM62 47h1v1h-1zM68 47h1v1h-1zM90 47h1v1h-1zM89 48h1v1h-1zM71 50h1v1h-1zM72 56h1v1h-1z" fill="#1b7b32"/>
<path d="M28 6h1v1h-1zM8 7h1v1h-1zM25 7h1v1h-1zM18 8h1v1h-1zM21 8h2v1h-2zM7 9h1v1h-1zM15 9h1v1h-1zM18 9h2v1h-2zM22 11h1v1h-1zM20 13h1v1h-1zM23 13h1v1h-1zM73 31h1v1h-1zM67 32h1v1h-1zM69 32h1v1h-1zM76 32h1v1h-1zM64 33h1v1h-1zM66 33h1v1h-1zM72 33h1v1h-1zM75 34h1v1h-1zM66 35h1v1h-1zM76 35h1v1h-1zM63 36h1v1h-1zM70 36h1v1h-1zM75 36h1v1h-1zM78 36h1v1h-1zM81 36h1v1h-1zM83 36h2v1h-2zM89 36h1v1h-1zM62 37h1v1h-1zM65 37h2v1h-2zM68 37h1v1h-1zM77 37h1v1h-1zM80 37h1v1h-1zM87 37h1v1h-1zM66 38h3v1h-3zM71 38h1v1h-1zM81 38h2v1h-2zM63 39h2v1h-2zM73 40h1v1h-1zM63 41h1v1h-1zM69 41h1v1h-1zM72 41h1v1h-1zM77 41h1v1h-1zM78 42h1v1h-1zM80 42h2v1h-2zM63 43h1v1h-1zM67 43h1v1h-1zM69 43h1v1h-1zM90 45h1v1h-1zM89 47h1v1h-1zM73 48h1v1h-1zM64 60h1v1h-1z" fill="#1c7d2f"/>
<path d="M6 7h1v1h-1zM28 7h1v1h-1zM21 10h1v1h-1zM11 14h1v1h-1zM68 32h1v1h-1zM73 32h1v1h-1zM75 32h1v1h-1zM67 33h1v1h-1zM73 33h1v1h-1zM65 34h2v1h-2zM73 34h1v1h-1zM77 34h1v1h-1zM79 34h1v1h-1zM74 35h1v1h-1zM77 35h1v1h-1zM65 36h1v1h-1zM74 36h1v1h-1zM82 36h1v1h-1zM85 36h1v1h-1zM69 37h1v1h-1zM78 37h2v1h-2zM83 37h1v1h-1zM70 38h1v1h-1zM76 38h2v1h-2zM80 38h1v1h-1zM59 39h2v1h-2zM68 39h1v1h-1zM71 39h1v1h-1zM87 39h1v1h-1zM61 40h1v1h-1zM74 40h1v1h-1zM80 40h1v1h-1zM80 41h1v1h-1zM60 42h1v1h-1zM59 43h1v1h-1zM65 43h1v1h-1zM70 43h1v1h-1zM76 43h1v1h-1zM70 44h1v1h-1zM76 44h1v1h-1zM89 46h1v1h-1zM58 67h1v1h-1z" fill="#1d802d"/>
<path d="M5 5h2v1h-2zM6 6h1v1h-1zM21 9h1v1h-1zM23 12h1v1h-1zM16 31h1v1h-1zM67 31h1v1h-1zM74 33h1v1h-1zM67 34h5v1h-5zM58 35h1v1h-1zM72 35h2v1h-2zM79 35h1v1h-1zM59 36h1v1h-1zM66 36h2v1h-2zM76 36h1v1h-1zM70 37h1v1h-1zM82 37h1v1h-1zM61 38h1v1h-1zM66 39h1v1h-1zM78 39h1v1h-1zM81 39h1v1h-1zM78 40h1v1h-1zM61 41h2v1h-2zM79 41h1v1h-1zM62 42h1v1h-1zM70 42h1v1h-1zM74 42h2v1h-2zM61 43h2v1h-2zM72 43h1v1h-1zM74 43h1v1h-1zM62 44h2v1h-2zM75 44h1v1h-1zM88 47h1v1h-1zM73 49h1v1h-1z" fill="#1e822a"/>
<path d="M7 6h1v1h-1zM22 7h1v1h-1zM5 9h1v1h-1zM22 14h1v1h-1zM75 31h1v1h-1zM74 34h1v1h-1zM69 35h1v1h-1zM80 35h1v1h-1zM84 35h2v1h-2zM73 36h1v1h-1zM79 36h2v1h-2zM59 37h1v1h-1zM71 37h2v1h-2zM81 37h1v1h-1zM69 38h1v1h-1zM78 38h1v1h-1zM71 40h1v1h-1zM79 40h1v1h-1zM72 42h2v1h-2zM76 42h2v1h-2zM79 42h1v1h-1zM78 43h1v1h-1zM80 43h1v1h-1zM71 44h1v1h-1zM77 44h2v1h-2z" fill="#1f8528"/>
<path d="M69 33h2v1h-2zM78 33h1v1h-1zM72 34h1v1h-1zM76 34h1v1h-1zM67 35h2v1h-2zM69 36h1v1h-1zM72 36h1v1h-1zM79 38h1v1h-1zM74 39h1v1h-1zM60 40h1v1h-1zM60 41h1v1h-1zM78 41h1v1h-1zM77 43h1v1h-1zM72 44h1v1h-1zM88 45h1v1h-1z" fill="#208726"/>
<path d="M4 8h1v1h-1zM12 29h1v1h-1zM68 33h1v1h-1zM70 35h2v1h-2zM75 35h1v1h-1zM68 36h1v1h-1zM82 39h1v1h-1zM81 40h1v1h-1zM71 43h1v1h-1zM73 43h1v1h-1zM75 43h1v1h-1zM61 44h1v1h-1zM74 44h1v1h-1z" fill="#218a23"/>
</g>
</g>
<path d="M473.50 600.50L473.50 583.80M473.50 120.50L473.50 137.20M586.50 600.50L586.50 583.80M586.50 120.50L586.50 137.20M699.50 600.50L699.50 583.80M699.50 120.50L699.50 137.20M812.50 600.50L812.50 567.20M812.50 120.50L812.50 153.80M925.50 600.50L925.50 583.80M925.50 120.50L925.50 137.20M1038.50 600.50L1038.50 583.80M1038.50 120.50L1038.50 137.20M1151.50 600.50L1151.50 583.80M1151.50 120.50L1151.50 137.20M1264.50 600.50L1264.50 567.20M1264.50 120.50L1264.50 153.80M1377.50 600.50L1377.50 583.80M1377.50 120.50L1377.50 137.20M1490.50 600.50L1490.50 583.80M1490.50 120.50L1490.50 137.20M1603.50 600.50L1603.50 583.80M1603.50 120.50L1603.50 137.20M1716.50 600.50L1716.50 567.20M1716.50 120.50L1716.50 153.80M360.50 552.23L377.20 552.23M1800.50 552.23L1783.80 552.23M360.50 503.95L377.20 503.95M1800.50 503.95L1783.80 503.95M360.50 455.67L377.20 455.67M1800.50 455.67L1783.80 455.67M360.50 407.40L377.20 407.40M1800.50 407.40L1783.80 407.40M360.50 359.12L393.80 359.12M1800.50 359.12L1767.20 359.12M360.50 310.85L377.20 310.85M1800.50 310.85L1783.80 310.85M360.50 262.57L377.20 262.57M1800.50 262.57L1783.80 262.57M360.50 214.30L377.20 214.30M1800.50 214.30L1783.80 214.30M360.50 166.02L377.20 166.02M1800.50 166.02L1783.80 166.02M473.50 2160.50L473.50 2143.80M473.50 720.50L473.50 737.20M586.50 2160.50L586.50 2143.80M586.50 720.50L586.50 737.20M699.50 2160.50L699.50 2143.80M699.50 720.50L699.50 737.20M812.50 2160.50L812.50 2127.20M812.50 720.50L812.50 753.80M925.50 2160.50L925.50 2143.80M925.50 720.50L925.50 737.20M1038.50 2160.50L1038.50 2143.80M1038.50 720.50L1038.50 737.20M1151.50 2160.50L1151.50 2143.80M1151.50 720.50L1151.50 737.20M1264.50 2160.50L1264.50 2127.20M1264.50 720.50L1264.50 753.80M1377.50 2160.50L1377.50 2143.80M1377.50 720.50L1377.50 737.20M1490.50 2160.50L1490.50 2143.80M1490.50 720.50L1490.50 737.20M1603.50 2160.50L1603.50 2143.80M1603.50 720.50L1603.50 737.20M1716.50 2160.50L1716.50 2127.20M1716.50 720.50L1716.50 753.80M360.50 2141.26L377.20 2141.26M1800.50 2141.26L1783.80 2141.26M360.50 2087.34L377.20 2087.34M1800.50 2087.34L1783.80 2087.34M360.50 2033.42L377.20 2033.42M1800.50 2033.42L1783.80 2033.42M360.50 1979.50L393.80 1979.50M1800.50 1979.50L1767.20 1979.50M360.50 1925.58L377.20 1925.58M1800.50 1925.58L1783.80 1925.58M360.50 1871.66L377.20 1871.66M1800.50 1871.66L1783.80 1871.66M360.50 1817.74L377.20 1817.74M1800.50 1817.74L1783.80 1817.74M360.50 1763.82L377.20 1763.82M1800.50 1763.82L1783.80 1763.82M360.50 1709.90L393.80 1709.90M1800.50 1709.90L1767.20 1709.90M360.50 1655.98L377.20 1655.98M1800.50 1655.98L1783.80 1655.98M360.50 1602.06L377.20 1602.06M1800.50 1602.06L1783.80 1602.06M360.50 1548.14L377.20 1548.14M1800.50 1548.14L1783.80 1548.14M360.50 1494.22L377.20 1494.22M1800.50 1494.22L1783.80 1494.22M360.50 1440.30L393.80 1440.30M1800.50 1440.30L1767.20 1440.30M360.50 1386.38L377.20 1386.38M1800.50 1386.38L1783.80 1386.38M360.50 1332.46L377.20 1332.46M1800.50 1332.46L1783.80 1332.46M360.50 1278.54L377.20 1278.54M1800.50 1278.54L1783.80 1278.54M360.50 1224.62L377.20 1224.62M1800.50 1224.62L1783.80 1224.62M360.50 1170.70L393.80 1170.70M1800.50 1170.70L1767.20 1170.70M360.50 1116.78L377.20 1116.78M1800.50 1116.78L1783.80 1116.78M360.50 1062.86L377.20 1062.86M1800.50 1062.86L1783.80 1062.86M360.50 1008.94L377.20 1008.94M1800.50 1008.94L1783.80 1008.94M360.50 955.02L377.20 955.02M1800.50 955.02L1783.80 955.02M360.50 901.10L393.80 901.10M1800.50 901.10L1767.20 901.10M360.50 847.18L377.20 847.18M1800.50 847.18L1783.80 847.18M360.50 793.26L377.20 793.26M1800.50 793.26L1783.80 793.26M360.50 739.34L377.20 739.34M1800.50 739.34L1783.80 739.34M2024.40 2160.50L2024.40 2143.80M2024.40 720.50L2024.40 737.20M2128.30 2160.50L2128.30 2143.80M2128.30 720.50L2128.30 737.20M2232.20 2160.50L2232.20 2143.80M2232.20 720.50L2232.20 737.20M2336.10 2160.50L2336.10 2143.80M2336.10 720.50L2336.10 737.20M2440.00 2160.50L2440.00 2127.20M2440.00 720.50L2440.00 753.80M1920.50 2141.26L1937.20 2141.26M2490.50 2141.26L2473.80 2141.26M1920.50 2087.34L1937.20 2087.34M2490.50 2087.34L2473.80 2087.34M1920.50 2033.42L1937.20 2033.42M2490.50 2033.42L2473.80 2033.42M1920.50 1979.50L1953.80 1979.50M2490.50 1979.50L2457.20 1979.50M1920.50 1925.58L1937.20 1925.58M2490.50 1925.58L2473.80 1925.58M1920.50 1871.66L1937.20 1871.66M2490.50 1871.66L2473.80 1871.66M1920.50 1817.74L1937.20 1817.74M2490.50 1817.74L2473.80 1817.74M1920.50 1763.82L1937.20 1763.82M2490.50 1763.82L2473.80 1763.82M1920.50 1709.90L1953.80 1709.90M2490.50 1709.90L2457.20 1709.90M1920.50 1655.98L1937.20 1655.98M2490.50 1655.98L2473.80 1655.98M1920.50 1602.06L1937.20 1602.06M2490.50 1602.06L2473.80 1602.06M1920.50 1548.14L1937.20 1548.14M2490.50 1548.14L2473.80 1548.14M1920.50 1494.22L1937.20 1494.22M2490.50 1494.22L2473.80 1494.22M1920.50 1440.30L1953.80 1440.30M2490.50 1440.30L2457.20 1440.30M1920.50 1386.38L1937.20 1386.38M2490.50 1386.38L2473.80 1386.38M1920.50 1332.46L1937.20 1332.46M2490.50 1332.46L2473.80 1332.46M1920.50 1278.54L1937.20 1278.54M2490.50 1278.54L2473.80 1278.54M1920.50 1224.62L1937.20 1224.62M2490.50 1224.62L2473.80 1224.62M1920.50 1170.70L1953.80 1170.70M2490.50 1170.70L2457.20 1170.70M1920.50 1116.78L1937.20 1116.78M2490.50 1116.78L2473.80 1116.78M1920.50 1062.86L1937.20 1062.86M2490.50 1062.86L2473.80 1062.86M1920.50 1008.94L1937.20 1008.94M2490.50 1008.94L2473.80 1008.94M1920.50 955.02L1937.20 955.02M2490.50 955.02L2473.80 955.02M1920.50 901.10L1953.80 901.10M2490.50 901.10L2457.20 901.10M1920.50 847.18L1937.20 847.18M2490.50 847.18L2473.80 847.18M1920.50 793.26L1937.20 793.26M2490.50 793.26L2473.80 793.26M1920.50 739.34L1937.20 739.34M2490.50 739.34L2473.80 739.34M2760.50 2088.50L2743.80 2088.50M2760.50 2016.50L2743.80 2016.50M2760.50 1944.50L2743.80 1944.50M2760.50 1872.50L2727.20 1872.50M2760.50 1800.50L2743.80 1800.50M2760.50 1728.50L2743.80 1728.50M2760.50 1656.50L2743.80 1656.50M2760.50 1584.50L2727.20 1584.50M2760.50 1512.50L2743.80 1512.50M2760.50 1440.50L2743.80 1440.50M2760.50 1368.50L2743.80 1368.50M2760.50 1296.50L2727.20 1296.50M2760.50 1224.50L2743.80 1224.50M2760.50 1152.50L2743.80 1152.50M2760.50 1080.50L2743.80 1080.50M2760.50 1008.50L2727.20 1008.50M2760.50 936.50L2743.80 936.50M2760.50 864.50L2743.80 864.50M2760.50 792.50L2743.80 792.50" stroke="#000" stroke-width="2.4" fill="none"/>
<g clip-path="url(#ax)">
<path d="M1282.0 1017.9L1296.7 1006.0L1311.6 1006.1L1326.4 1006.0L1341.2 1006.2L1356.0 1006.1L1370.8 1006.0L1385.6 1006.2L1400.1 1017.9L1400.4 1018.0L1415.2 1018.1L1415.3 1017.9L1430.0 1006.0L1444.8 1006.2L1459.3 1017.9L1459.6 1018.1L1459.9 1017.9L1474.4 1006.2L1489.2 1006.2L1503.7 1017.9L1504.0 1017.9L1504.3 1017.9L1518.8 1006.2L1533.7 1006.1L1548.5 1006.0L1563.3 1006.0L1578.1 1006.2L1592.9 1006.2L1607.7 1006.2L1622.5 1006.0L1637.2 1017.9L1637.3 1018.0L1652.0 1029.8L1652.1 1029.8L1666.9 1029.8L1681.6 1041.7L1681.6 1053.5L1681.7 1065.5L1681.4 1077.3L1681.4 1089.2L1681.4 1101.2L1681.7 1113.0L1666.9 1124.9L1652.1 1124.8L1652.0 1125.0L1637.3 1136.8L1637.2 1136.8L1622.5 1148.7L1622.4 1148.8L1622.5 1148.9L1637.3 1149.0L1651.8 1160.7L1651.8 1172.5L1652.1 1172.7L1666.8 1184.5L1666.9 1184.7L1681.7 1184.7L1696.2 1196.3L1696.4 1208.2L1681.7 1220.0L1666.9 1220.0L1666.6 1220.2L1666.9 1220.3L1681.6 1232.0L1681.7 1232.3L1696.5 1232.1L1711.2 1244.0L1696.5 1255.8L1696.4 1255.8L1696.2 1267.8L1696.2 1279.7L1696.5 1279.7L1711.3 1291.5L1711.3 1291.7L1726.0 1303.5L1726.1 1303.7L1726.2 1303.5L1741.0 1291.6L1741.1 1291.5L1755.8 1279.7L1755.9 1279.7L1770.6 1267.9L1785.2 1279.7L1770.6 1291.4L1770.5 1291.5L1755.8 1303.4L1755.7 1303.5L1741.0 1315.3L1740.7 1315.3L1740.7 1327.2L1726.1 1338.9L1711.3 1338.9L1696.8 1327.2L1711.3 1315.6L1711.6 1315.3L1711.3 1315.2L1696.5 1315.2L1696.4 1315.3L1696.2 1327.2L1696.5 1339.2L1681.7 1351.0L1666.9 1350.8L1652.1 1350.8L1637.6 1339.2L1652.1 1327.5L1652.2 1327.2L1652.1 1327.1L1637.3 1327.2L1622.5 1327.2L1622.4 1327.2L1607.7 1339.0L1592.9 1339.1L1592.8 1339.2L1592.6 1351.0L1578.1 1362.7L1563.3 1362.9L1548.5 1351.0L1548.5 1351.0L1548.3 1351.0L1533.7 1362.8L1518.8 1362.8L1504.0 1362.7L1503.9 1363.0L1503.7 1374.8L1503.9 1386.8L1503.9 1398.7L1489.2 1410.4L1489.1 1410.5L1489.2 1410.7L1504.0 1410.7L1504.3 1410.5L1518.8 1398.9L1533.4 1410.5L1533.7 1410.8L1548.2 1422.5L1548.5 1422.5L1563.2 1434.3L1563.3 1434.6L1578.1 1434.6L1592.9 1434.4L1593.0 1434.3L1607.7 1422.5L1622.5 1422.6L1637.2 1434.3L1637.3 1434.4L1652.0 1446.2L1652.1 1446.5L1666.6 1458.2L1652.1 1469.8L1637.6 1458.2L1637.3 1458.1L1637.2 1458.2L1637.0 1470.0L1637.0 1482.0L1637.0 1493.8L1622.5 1505.5L1608.0 1493.8L1608.0 1482.0L1608.0 1470.0L1607.7 1469.9L1592.9 1470.0L1592.7 1470.0L1592.7 1482.0L1592.7 1493.8L1578.1 1505.6L1577.8 1505.8L1577.8 1517.7L1578.1 1517.9L1578.4 1517.7L1592.9 1506.0L1607.4 1517.7L1607.7 1517.7L1608.0 1517.7L1622.5 1506.0L1637.0 1517.7L1637.3 1517.8L1652.1 1517.7L1652.3 1517.7L1652.1 1517.5L1637.5 1505.8L1637.5 1493.8L1637.5 1482.0L1652.1 1470.2L1666.8 1482.0L1666.9 1482.0L1681.6 1493.8L1681.7 1494.1L1696.5 1494.1L1711.0 1505.8L1711.3 1505.9L1726.0 1517.7L1726.0 1529.5L1726.1 1529.7L1741.0 1529.7L1755.6 1541.5L1755.8 1541.7L1770.3 1553.3L1770.6 1553.4L1785.3 1565.2L1785.2 1577.2L1785.3 1589.0L1785.1 1601.0L1770.6 1612.6L1755.8 1612.7L1741.0 1612.6L1726.1 1612.7L1726.0 1612.8L1726.1 1613.0L1740.8 1624.8L1726.1 1636.5L1726.1 1636.7L1711.3 1648.5L1711.2 1648.5L1711.3 1648.8L1725.9 1660.5L1711.3 1672.1L1711.2 1672.3L1696.5 1684.1L1681.7 1684.0L1667.2 1672.3L1666.9 1672.3L1652.1 1672.2L1652.0 1672.3L1637.3 1684.2L1637.0 1684.2L1622.5 1695.9L1607.7 1696.0L1607.5 1696.2L1592.9 1707.9L1578.2 1696.2L1578.1 1695.9L1578.0 1696.2L1577.8 1708.0L1563.3 1719.7L1548.5 1719.7L1548.3 1720.0L1533.7 1731.7L1533.6 1731.8L1533.6 1743.8L1533.7 1743.9L1548.3 1755.7L1533.7 1767.4L1533.4 1767.5L1518.8 1779.2L1504.3 1767.5L1518.8 1755.9L1519.0 1755.7L1518.8 1755.6L1504.0 1755.4L1489.2 1755.6L1488.9 1755.7L1474.4 1767.3L1474.3 1767.5L1474.3 1779.5L1474.3 1791.3L1459.6 1803.1L1445.0 1791.3L1444.8 1791.1L1444.7 1791.3L1430.0 1803.2L1429.7 1803.2L1415.2 1814.9L1414.9 1815.2L1400.4 1826.8L1400.2 1827.0L1385.6 1838.8L1370.9 1827.0L1371.1 1815.2L1371.1 1803.2L1370.8 1791.3L1370.8 1791.1L1370.6 1791.3L1356.0 1803.1L1341.2 1803.1L1341.1 1803.2L1341.1 1815.2L1341.2 1815.2L1355.9 1827.0L1341.2 1838.9L1326.4 1838.8L1311.7 1827.0L1311.6 1826.8L1297.0 1815.2L1296.7 1815.0L1296.7 1815.2L1296.7 1827.0L1296.7 1839.0L1281.9 1850.8L1267.2 1839.0L1267.2 1827.0L1267.1 1826.8L1267.0 1827.0L1267.0 1839.0L1252.3 1850.7L1237.5 1850.8L1222.8 1839.0L1222.7 1838.9L1207.9 1838.9L1193.2 1827.0L1207.9 1815.2L1208.1 1815.2L1207.9 1814.9L1193.1 1815.1L1178.4 1803.2L1193.1 1791.4L1193.2 1791.3L1207.9 1779.6L1222.6 1791.3L1222.7 1791.4L1223.0 1791.3L1223.0 1779.5L1222.7 1779.3L1208.1 1767.5L1208.0 1755.7L1207.9 1755.5L1193.1 1755.6L1193.0 1755.7L1193.1 1755.9L1207.6 1767.5L1193.1 1779.2L1178.6 1767.5L1178.3 1767.5L1163.6 1755.7L1163.8 1743.8L1163.8 1731.8L1163.5 1731.7L1163.2 1731.8L1148.7 1743.5L1133.9 1743.7L1133.7 1743.8L1133.9 1743.8L1148.7 1743.9L1163.3 1755.7L1163.3 1767.5L1163.5 1767.6L1178.2 1779.5L1163.5 1791.3L1148.7 1779.5L1148.7 1779.3L1148.5 1779.5L1148.5 1791.3L1133.9 1803.1L1119.1 1803.0L1118.8 1803.2L1119.1 1803.5L1133.6 1815.2L1119.1 1826.8L1118.9 1827.0L1104.3 1838.8L1104.2 1839.0L1089.4 1850.8L1089.2 1850.8L1089.4 1851.1L1104.0 1862.8L1089.4 1874.4L1074.6 1874.4L1074.5 1874.7L1074.6 1874.9L1089.4 1874.9L1104.0 1886.5L1104.3 1886.8L1118.8 1898.5L1104.3 1910.1L1089.7 1898.5L1089.4 1898.2L1089.3 1898.5L1074.6 1910.3L1074.3 1910.3L1074.6 1910.6L1089.4 1910.6L1104.0 1922.2L1104.3 1922.5L1104.5 1922.2L1119.1 1910.6L1119.2 1910.3L1133.9 1898.6L1134.2 1898.5L1148.7 1886.8L1163.2 1898.5L1163.5 1898.6L1178.1 1910.3L1163.5 1922.1L1163.4 1922.2L1163.5 1922.4L1178.1 1934.2L1178.3 1934.4L1193.1 1934.4L1193.2 1934.2L1207.9 1922.4L1222.6 1934.2L1222.7 1934.4L1237.2 1946.0L1222.7 1957.7L1207.9 1957.8L1207.9 1958.0L1207.9 1958.1L1222.6 1969.8L1222.7 1970.1L1237.2 1981.8L1222.7 1993.4L1207.9 1993.6L1207.6 1993.7L1207.9 1993.9L1222.7 1993.8L1237.4 2005.5L1237.5 2005.6L1252.2 2017.5L1237.5 2029.3L1237.5 2029.3L1222.7 2041.2L1207.9 2041.1L1193.2 2029.3L1193.1 2029.2L1192.8 2029.3L1192.9 2041.2L1178.3 2053.0L1178.1 2053.2L1163.5 2064.9L1148.7 2064.8L1148.4 2065.1L1133.9 2076.7L1119.4 2065.1L1119.1 2065.0L1104.4 2053.2L1104.4 2041.2L1104.3 2041.0L1104.0 2041.2L1104.2 2053.2L1104.0 2065.1L1089.4 2076.7L1089.3 2076.9L1089.4 2088.8L1074.6 2100.7L1059.8 2100.5L1059.5 2100.8L1045.0 2112.4L1030.2 2112.6L1015.5 2100.8L1015.4 2100.6L1015.3 2100.8L1000.6 2112.6L1000.3 2112.7L1000.3 2124.6L1000.6 2124.8L1015.1 2136.4L1000.6 2148.1L985.8 2148.2L971.1 2136.4L971.0 2136.3L956.2 2136.4L955.9 2136.4L956.1 2148.3L941.4 2160.2L926.6 2160.2L926.5 2160.2L926.4 2172.2L911.8 2183.9L897.1 2172.2L897.0 2160.2L897.3 2148.3L897.1 2136.4L897.0 2136.3L882.3 2124.6L882.1 2124.5L867.3 2124.3L852.8 2112.7L852.6 2100.8L867.3 2088.9L867.5 2088.8L867.6 2076.9L867.5 2065.1L867.3 2064.9L852.7 2053.2L852.5 2052.9L852.4 2053.2L837.7 2065.0L823.0 2053.2L837.7 2041.3L838.0 2041.2L837.7 2041.0L822.9 2041.2L808.2 2029.3L808.1 2029.3L793.4 2017.5L808.1 2005.6L822.9 2005.7L823.0 2005.5L822.9 2005.4L808.1 2005.3L793.6 1993.7L793.5 1981.8L793.4 1969.8L793.6 1958.0L808.1 1946.3L808.3 1946.0L808.1 1945.8L793.6 1934.2L793.4 1922.2L793.3 1922.0L793.2 1922.2L778.5 1934.0L778.2 1934.2L763.7 1945.8L749.2 1934.2L749.2 1922.2L748.9 1922.1L734.1 1922.2L733.8 1922.2L734.0 1934.2L733.8 1946.0L734.1 1946.2L748.7 1958.0L748.9 1958.2L763.7 1958.2L763.8 1958.0L778.5 1946.1L793.2 1958.0L793.2 1969.8L793.0 1981.8L778.5 1993.4L778.4 1993.7L763.7 2005.4L749.0 1993.7L749.2 1981.8L748.9 1981.5L748.7 1981.8L734.1 1993.5L733.8 1993.7L719.3 2005.3L719.1 2005.5L704.5 2017.3L689.7 2017.4L674.9 2005.5L675.0 1993.7L675.0 1981.8L674.9 1981.7L660.0 1981.5L659.7 1981.8L660.0 1981.9L674.7 1993.7L674.8 2005.5L660.0 2017.4L645.2 2017.3L630.6 2005.5L630.4 2005.3L615.9 1993.7L615.9 1981.8L615.6 1981.5L615.5 1981.8L615.3 1993.7L600.8 2005.3L600.7 2005.5L600.8 2005.8L615.3 2017.5L600.8 2029.1L600.7 2029.3L600.5 2041.2L586.0 2052.9L585.9 2053.2L585.9 2065.1L571.2 2076.9L556.4 2076.8L541.7 2065.1L541.7 2053.2L541.6 2053.1L526.8 2053.0L512.0 2053.1L497.2 2053.1L482.5 2041.2L482.4 2041.0L467.6 2041.1L452.7 2041.1L437.9 2041.0L423.4 2029.3L423.1 2029.2L408.5 2017.5L408.6 2005.5L408.3 2005.3L393.8 1993.7L408.3 1982.0L422.8 1993.7L423.1 1993.9L437.9 1993.9L438.2 1993.7L452.7 1982.0L452.8 1981.8L452.8 1969.8L452.8 1958.0L452.7 1957.8L438.1 1946.0L437.9 1945.9L423.1 1945.8L408.3 1945.8L393.8 1934.2L393.6 1922.2L393.7 1910.3L393.8 1898.5L393.6 1886.5L393.7 1874.7L408.3 1862.9L408.4 1862.8L408.3 1862.7L393.5 1862.6L378.9 1850.8L378.9 1839.0L393.5 1827.2L393.8 1827.0L393.5 1826.8L378.7 1826.9L363.9 1826.8L349.4 1815.2L349.1 1803.2L349.4 1791.3L349.2 1779.5L363.9 1767.6L364.0 1767.5L363.9 1767.3L349.4 1755.7L363.9 1744.0L364.2 1743.8L363.9 1743.7L349.2 1731.8L349.2 1720.0L349.2 1708.0L349.2 1696.2L363.9 1684.4L364.2 1684.2L363.9 1684.0L349.4 1672.3L349.2 1660.5L349.2 1648.5L349.2 1636.7L349.2 1624.8L349.2 1612.8L363.9 1601.1L378.6 1612.8L378.7 1613.0L379.0 1612.8L378.9 1601.0L378.7 1600.9L364.0 1589.0L364.2 1577.2L363.9 1577.1L349.2 1565.2L349.4 1553.3L349.2 1541.5L349.2 1529.5L349.2 1517.7L349.2 1505.8L349.4 1493.8L349.2 1482.0L349.2 1470.0L349.2 1458.2L349.2 1446.2L349.2 1434.3L349.2 1422.5L349.4 1410.5L349.2 1398.7L363.9 1386.9L364.1 1386.8L378.7 1375.0L379.0 1374.8L378.9 1363.0L378.7 1362.9L364.0 1351.0L378.7 1339.2L393.4 1351.0L393.5 1351.2L393.8 1351.0L393.8 1339.2L393.6 1327.2L393.8 1315.3L393.8 1303.5L393.5 1303.3L378.9 1291.5L393.5 1279.8L393.7 1279.7L408.3 1267.9L423.0 1279.7L423.1 1279.9L423.2 1279.7L437.9 1267.8L452.7 1267.8L467.6 1267.8L482.4 1267.9L497.2 1267.8L497.2 1267.8L497.2 1267.6L482.4 1267.6L467.7 1255.8L467.6 1255.6L453.0 1244.0L452.7 1243.7L438.2 1232.0L452.7 1220.4L452.9 1220.2L452.8 1208.2L452.7 1208.0L437.9 1208.0L423.1 1208.1L408.3 1208.0L393.5 1208.0L379.0 1196.3L378.7 1196.3L378.4 1196.3L363.9 1208.0L349.4 1196.3L349.2 1184.5L363.9 1172.7L364.1 1172.5L363.9 1172.4L349.2 1160.7L349.1 1148.8L349.2 1136.8L349.4 1125.0L349.2 1113.0L349.2 1101.2L363.9 1089.4L364.1 1089.2L378.7 1077.5L378.9 1077.3L393.5 1065.6L408.2 1077.3L393.5 1089.1L393.4 1089.2L393.5 1089.3L408.3 1089.4L408.6 1089.2L408.6 1077.3L423.1 1065.7L437.9 1065.7L452.7 1065.6L467.4 1077.3L467.6 1077.6L482.1 1089.2L482.4 1089.4L482.5 1089.2L497.2 1077.5L511.8 1089.2L511.9 1101.2L511.8 1113.0L512.0 1113.1L512.1 1113.0L526.8 1101.3L526.9 1101.2L541.6 1089.3L541.7 1089.2L556.4 1077.5L571.2 1077.4L586.0 1077.6L586.2 1077.3L600.8 1065.6L615.5 1077.3L615.6 1077.5L630.3 1089.2L630.4 1089.4L645.2 1089.5L659.7 1101.2L660.0 1113.0L660.0 1113.2L660.1 1113.0L674.9 1101.2L675.0 1101.2L689.7 1089.4L689.8 1089.2L704.5 1077.5L704.8 1077.3L704.8 1065.5L719.3 1053.8L733.8 1065.5L734.1 1065.7L734.4 1065.5L734.4 1053.5L748.9 1041.9L763.4 1053.5L763.7 1053.6L778.5 1065.5L778.5 1065.7L793.3 1065.5L808.1 1065.5L808.3 1065.5L822.9 1053.7L823.0 1053.5L837.7 1041.7L852.4 1053.5L837.7 1065.4L837.6 1065.5L837.7 1065.7L852.5 1065.5L867.3 1077.3L867.3 1077.4L882.1 1089.2L881.9 1101.2L882.1 1101.2L882.2 1101.2L897.0 1089.3L911.7 1101.2L911.8 1101.4L911.9 1101.2L926.6 1089.3L926.9 1089.2L926.7 1077.3L941.4 1065.6L956.2 1065.7L971.0 1065.5L985.8 1065.6L1000.5 1077.3L1000.6 1077.5L1015.3 1089.2L1015.4 1089.4L1015.7 1089.2L1030.2 1077.6L1044.7 1089.2L1045.0 1089.5L1059.8 1089.5L1074.3 1101.2L1074.6 1101.4L1089.4 1101.3L1104.3 1101.2L1104.4 1101.2L1104.4 1089.2L1119.1 1077.5L1119.4 1077.3L1133.9 1065.7L1148.7 1065.5L1149.0 1065.5L1148.8 1053.5L1163.5 1041.8L1178.3 1041.9L1178.4 1041.7L1193.1 1029.8L1193.2 1029.8L1207.9 1018.0L1222.6 1029.8L1222.7 1030.0L1237.5 1029.8L1252.2 1041.7L1252.3 1041.8L1252.4 1041.7L1267.1 1029.8L1281.9 1030.0L1282.2 1029.8ZM1474.1 1029.8L1474.4 1029.5L1474.5 1029.8L1474.7 1041.7L1474.4 1041.7L1474.1 1041.7ZM1415.1 1041.7L1415.2 1041.4L1430.0 1041.6L1430.3 1041.7L1430.1 1053.5L1430.1 1065.5L1430.0 1065.6L1430.0 1065.5L1429.9 1053.5L1415.2 1041.7ZM615.7 1065.5L630.4 1053.6L645.2 1053.6L659.9 1065.5L645.2 1077.3L630.4 1077.3ZM1192.9 1101.2L1193.1 1101.0L1193.2 1101.2L1207.9 1112.9L1208.0 1113.0L1207.9 1113.1L1193.1 1113.2L1193.0 1113.0ZM1607.6 1125.0L1607.7 1124.9L1607.8 1125.0L1607.8 1136.8L1607.7 1137.0L1592.9 1137.0L1578.2 1148.8L1578.1 1149.0L1563.3 1148.8L1563.2 1148.8L1563.2 1136.8L1563.3 1136.8L1578.1 1136.8L1592.9 1136.8ZM497.1 1148.8L497.2 1148.6L512.0 1148.6L512.0 1148.8L512.0 1148.8L497.2 1149.0ZM1252.3 1148.8L1252.3 1148.5L1252.5 1148.8L1252.6 1160.7L1252.3 1160.7L1252.2 1160.7ZM378.6 1160.7L378.7 1160.4L393.5 1160.4L393.7 1160.7L393.5 1160.7L378.7 1160.8ZM1592.8 1172.5L1592.9 1172.4L1607.7 1172.5L1607.8 1172.5L1607.7 1172.8L1592.9 1172.6ZM1652.0 1196.3L1652.1 1196.2L1652.4 1196.3L1652.3 1208.2L1652.1 1208.5L1652.0 1208.2ZM349.2 1220.2L363.9 1208.4L378.6 1220.2L363.9 1231.9ZM1622.2 1232.0L1622.5 1232.0L1622.8 1232.0L1637.3 1243.7L1637.6 1244.0L1637.5 1255.8L1637.3 1256.0L1637.2 1255.8L1622.5 1244.0L1622.2 1244.0ZM1444.5 1244.0L1444.8 1243.9L1459.6 1243.8L1459.7 1244.0L1459.8 1255.8L1459.6 1256.1L1459.5 1255.8L1444.8 1244.1ZM1696.7 1267.8L1711.3 1256.0L1726.0 1267.8L1711.3 1279.5ZM1296.7 1315.3L1296.7 1315.2L1297.0 1315.3L1311.6 1327.0L1326.4 1327.0L1326.7 1327.2L1341.2 1338.9L1355.7 1327.2L1356.0 1327.1L1370.6 1315.3L1370.8 1315.3L1371.1 1315.3L1385.6 1327.0L1400.4 1327.0L1400.7 1327.2L1415.2 1338.9L1415.5 1339.2L1415.5 1351.0L1430.0 1362.7L1430.3 1363.0L1430.0 1363.2L1415.2 1363.2L1400.4 1363.2L1385.9 1374.8L1385.6 1375.1L1371.1 1386.8L1370.8 1386.8L1370.7 1386.8L1356.0 1374.9L1341.3 1386.8L1341.3 1398.7L1341.2 1398.7L1340.9 1398.7L1326.4 1387.0L1311.6 1386.8L1296.8 1398.7L1296.7 1398.8L1282.1 1410.5L1282.1 1422.5L1281.9 1422.7L1267.4 1434.3L1281.9 1446.0L1282.0 1446.2L1281.9 1446.5L1267.4 1458.2L1267.1 1458.3L1252.3 1458.3L1252.2 1458.2L1252.2 1446.2L1237.5 1434.4L1237.4 1434.3L1222.7 1422.5L1222.4 1422.5L1207.9 1410.8L1193.1 1410.7L1192.9 1410.5L1193.1 1410.3L1207.9 1410.5L1222.6 1398.7L1222.7 1386.8L1222.7 1386.7L1237.5 1374.8L1237.5 1374.8L1252.2 1363.0L1252.3 1362.8L1267.0 1351.0L1267.1 1351.0L1281.9 1350.8L1296.4 1339.2L1296.4 1327.2ZM364.2 1327.2L378.7 1315.6L393.2 1327.2L378.7 1338.9ZM1222.6 1351.0L1222.7 1350.8L1237.5 1351.0L1237.7 1351.0L1237.5 1351.1L1222.7 1351.3ZM1311.7 1363.0L1326.4 1351.2L1341.0 1363.0L1326.4 1374.7ZM1163.2 1374.8L1163.5 1374.8L1178.3 1374.7L1178.3 1374.8L1178.3 1375.1L1163.5 1375.0ZM1459.5 1374.8L1459.6 1374.7L1459.7 1374.8L1459.7 1386.8L1459.6 1386.8L1459.5 1386.8ZM1518.7 1422.5L1518.8 1422.2L1519.1 1422.5L1518.9 1434.3L1518.8 1434.5L1518.7 1434.3ZM1667.2 1446.2L1681.7 1434.6L1696.2 1446.2L1681.7 1457.9ZM1459.3 1458.2L1459.6 1458.1L1474.4 1457.9L1474.7 1458.2L1474.6 1470.0L1489.2 1481.8L1489.5 1482.0L1504.0 1493.6L1504.1 1493.8L1504.0 1494.1L1489.5 1505.8L1489.2 1505.8L1489.1 1505.8L1489.1 1493.8L1474.4 1482.1L1474.1 1482.0L1459.6 1470.3L1459.3 1470.0ZM1281.8 1470.0L1281.9 1469.8L1296.7 1469.8L1311.6 1470.0L1311.7 1470.0L1311.6 1470.1L1296.7 1470.2L1281.9 1470.1ZM1533.5 1482.0L1533.7 1481.8L1548.5 1481.8L1548.5 1482.0L1548.5 1482.2L1533.7 1482.0ZM1681.7 1541.5L1681.7 1541.4L1696.5 1541.3L1696.7 1541.5L1696.5 1541.7L1681.7 1541.6ZM1622.4 1589.0L1622.5 1588.8L1637.3 1588.8L1637.5 1589.0L1637.3 1589.2L1622.6 1601.0L1622.6 1612.8L1622.5 1612.9L1622.4 1612.8L1622.4 1601.0ZM1459.3 1684.2L1459.6 1684.1L1474.4 1684.2L1474.6 1684.2L1474.4 1684.3L1459.6 1684.3ZM393.2 1743.8L393.5 1743.6L393.6 1743.8L393.6 1755.7L393.5 1755.7L393.4 1755.7ZM1237.4 1743.8L1237.5 1743.7L1237.7 1743.8L1237.6 1755.7L1237.5 1755.8L1237.4 1755.7ZM1429.9 1755.7L1430.0 1755.5L1444.8 1755.5L1445.0 1755.7L1444.8 1755.8L1430.0 1755.9ZM1089.2 1779.5L1089.4 1779.2L1104.3 1779.4L1104.5 1779.5L1104.3 1779.6L1089.4 1779.6ZM644.9 1791.3L645.2 1791.3L660.0 1791.3L660.1 1791.3L660.0 1791.4L645.2 1791.4ZM585.7 1827.0L586.0 1826.8L600.8 1826.9L601.1 1827.0L600.8 1827.2L586.0 1827.1ZM1000.5 1850.8L1000.6 1850.8L1015.4 1850.6L1015.5 1850.8L1015.4 1850.9L1000.6 1850.9ZM659.9 1862.8L660.0 1862.6L660.3 1862.8L660.1 1874.7L660.0 1874.9L659.7 1874.7ZM556.2 1886.5L556.4 1886.5L556.5 1886.5L556.5 1898.5L556.4 1898.5L556.3 1898.5ZM689.4 1898.5L689.7 1898.2L689.7 1898.5L689.8 1910.3L689.7 1910.5L689.4 1910.3ZM467.4 1922.2L467.6 1922.1L467.7 1922.2L467.7 1934.2L467.6 1946.0L467.6 1946.1L467.4 1946.0L452.7 1934.3L452.6 1934.2L452.7 1934.0ZM1059.7 1934.2L1059.8 1934.0L1074.6 1933.9L1074.9 1934.2L1074.6 1934.2L1059.8 1934.2ZM556.2 1958.0L556.4 1957.9L571.2 1957.7L571.3 1958.0L571.2 1958.0L556.4 1958.2ZM704.3 1981.8L704.5 1981.7L719.3 1981.7L719.4 1981.8L719.3 1982.0L704.5 1981.9ZM837.6 1981.8L837.7 1981.6L852.5 1981.5L852.6 1981.8L852.5 1981.9L837.7 1981.9ZM467.3 1993.7L467.6 1993.6L482.4 1993.6L482.4 1993.7L482.4 1993.8L467.6 1993.9ZM1133.8 2005.5L1133.9 2005.5L1134.0 2005.5L1134.2 2017.5L1133.9 2017.6L1133.6 2017.5ZM1148.4 2041.2L1148.7 2041.0L1163.5 2041.0L1163.6 2041.2L1163.5 2041.4L1148.7 2041.5ZM1237.7 2041.2L1252.3 2029.5L1267.0 2041.2L1252.3 2053.0L1252.2 2053.2L1237.5 2064.9L1222.9 2053.2L1237.5 2041.4ZM541.9 2088.8L556.4 2077.2L570.9 2088.8L571.2 2089.1L585.7 2100.8L571.2 2112.4L556.4 2112.4L541.9 2100.8ZM808.2 2112.7L822.9 2100.8L837.6 2112.7L822.9 2124.5Z" stroke="#000000" stroke-width="6.2" fill="none" stroke-linejoin="round" stroke-linecap="round"/>
<path d="M1398.9 1041.7L1400.4 1041.3L1400.7 1041.7L1415.2 1053.3L1415.5 1053.5L1417.9 1065.5L1415.2 1072.0L1400.4 1065.8L1386.1 1077.3L1385.6 1077.7L1385.1 1077.3L1370.8 1068.7L1366.7 1065.5L1370.8 1061.1L1385.6 1058.9L1388.3 1053.5ZM1444.5 1053.5L1444.8 1053.3L1445.6 1053.5L1448.9 1065.5L1444.8 1069.8L1442.1 1065.5ZM1469.0 1053.5L1474.4 1051.4L1478.5 1053.5L1474.4 1060.1ZM760.4 1065.5L763.7 1063.3L766.4 1065.5L763.7 1068.7ZM1296.4 1065.5L1296.7 1065.2L1297.1 1065.5L1311.6 1077.1L1313.0 1077.3L1311.6 1077.9L1296.7 1077.6L1296.0 1077.3ZM1528.2 1065.5L1533.7 1062.2L1537.7 1065.5L1533.7 1072.0ZM1562.8 1065.5L1563.3 1064.3L1563.8 1065.5L1571.4 1077.3L1563.3 1081.7L1555.1 1077.3ZM849.3 1077.3L852.5 1075.2L855.2 1077.3L852.5 1079.5ZM1500.8 1077.3L1504.0 1073.0L1512.2 1077.3L1504.4 1089.2L1504.0 1089.6L1503.7 1089.2ZM1530.4 1089.2L1533.7 1082.7L1539.1 1089.2L1539.1 1101.2L1533.7 1107.7L1530.4 1101.2ZM1577.3 1089.2L1578.1 1088.1L1578.8 1089.2L1592.9 1100.6L1593.4 1101.2L1592.9 1101.7L1578.1 1101.5L1563.3 1105.3L1555.5 1101.2L1563.3 1094.9ZM1370.4 1101.2L1370.8 1100.9L1385.6 1096.2L1396.0 1101.2L1385.6 1107.4L1371.5 1113.0L1378.4 1125.0L1370.8 1132.3L1359.3 1125.0L1370.3 1113.0ZM1458.9 1101.2L1459.6 1100.8L1460.4 1101.2L1460.4 1113.0L1459.6 1113.4L1458.9 1113.0ZM569.7 1113.0L571.2 1112.7L586.0 1112.5L587.5 1113.0L586.0 1113.6L571.2 1113.6ZM717.8 1113.0L719.3 1112.5L734.1 1112.7L734.8 1113.0L734.1 1114.2L727.4 1125.0L734.1 1135.7L748.9 1131.9L763.7 1127.6L777.0 1125.0L778.5 1124.4L780.0 1125.0L778.5 1125.5L772.9 1136.8L778.5 1140.6L787.9 1136.8L793.3 1130.3L808.1 1135.7L809.6 1136.8L817.3 1148.8L822.9 1151.6L827.6 1148.8L837.7 1140.6L852.5 1139.5L867.3 1148.2L872.0 1136.8L882.1 1128.7L890.8 1136.8L888.9 1148.8L897.0 1158.5L911.8 1150.6L915.8 1148.8L916.2 1136.8L926.6 1128.5L941.4 1128.7L953.5 1136.8L956.2 1138.6L958.8 1136.8L971.0 1128.7L985.8 1128.5L999.1 1125.0L985.8 1119.6L982.5 1113.0L985.8 1109.8L1000.6 1112.7L1001.3 1113.0L1001.1 1125.0L1015.4 1129.3L1029.7 1125.0L1030.2 1124.7L1030.7 1125.0L1045.0 1133.6L1059.3 1125.0L1059.8 1124.6L1060.1 1125.0L1074.6 1136.6L1075.4 1136.8L1089.4 1148.2L1090.2 1148.8L1097.2 1160.7L1104.3 1163.9L1109.9 1160.7L1109.9 1148.8L1119.1 1141.4L1126.1 1136.8L1133.9 1132.7L1148.3 1125.0L1148.7 1124.6L1163.5 1121.7L1166.7 1125.0L1163.9 1136.8L1178.3 1144.6L1184.5 1148.8L1193.1 1154.5L1207.9 1153.7L1222.7 1160.3L1223.4 1160.7L1237.5 1168.2L1245.7 1172.5L1252.3 1177.9L1267.1 1180.1L1271.2 1184.5L1281.9 1196.0L1283.4 1196.3L1296.7 1199.0L1301.2 1196.3L1311.6 1192.2L1326.0 1184.5L1326.4 1184.1L1327.8 1184.5L1341.2 1195.2L1356.0 1193.7L1360.0 1196.3L1356.0 1199.0L1347.7 1208.2L1356.0 1216.0L1370.8 1211.1L1379.8 1220.2L1385.6 1229.4L1393.7 1232.0L1400.4 1234.7L1409.6 1244.0L1401.1 1255.8L1401.9 1267.8L1400.4 1268.1L1385.6 1274.5L1370.8 1275.3L1363.6 1279.7L1364.1 1291.5L1356.0 1293.7L1350.5 1291.5L1341.2 1285.9L1326.4 1289.4L1313.0 1291.5L1311.6 1292.7L1296.7 1294.8L1288.6 1291.5L1296.3 1279.7L1281.9 1273.9L1271.2 1279.7L1267.1 1282.3L1259.0 1279.7L1252.3 1277.9L1237.5 1274.3L1222.7 1274.0L1207.9 1274.7L1193.1 1272.7L1178.3 1274.3L1175.0 1279.7L1178.3 1290.4L1178.8 1291.5L1178.3 1291.9L1163.5 1299.9L1153.1 1291.5L1148.7 1288.0L1146.5 1291.5L1144.2 1303.5L1133.9 1308.4L1127.7 1315.3L1133.9 1324.0L1137.1 1327.2L1134.6 1339.2L1133.9 1339.5L1126.7 1351.0L1133.9 1358.0L1141.6 1363.0L1133.9 1367.9L1119.1 1367.3L1113.4 1374.8L1119.1 1379.4L1133.9 1383.5L1139.3 1386.8L1134.6 1398.7L1133.9 1399.8L1131.6 1410.5L1127.2 1422.5L1133.9 1425.1L1148.7 1433.8L1149.2 1434.3L1148.7 1434.7L1137.9 1446.2L1148.7 1450.6L1163.5 1451.6L1166.2 1458.2L1178.3 1467.9L1186.4 1470.0L1178.3 1473.3L1171.1 1482.0L1178.3 1488.9L1188.7 1493.8L1193.1 1497.4L1199.3 1505.8L1198.5 1517.7L1193.6 1529.5L1193.1 1530.7L1191.6 1529.5L1178.3 1528.2L1175.6 1529.5L1178.3 1534.9L1186.4 1541.5L1178.3 1545.8L1168.9 1553.3L1178.3 1564.7L1187.7 1553.3L1193.1 1546.8L1196.4 1541.5L1207.9 1535.3L1217.1 1541.5L1222.7 1549.0L1226.0 1553.3L1228.1 1565.2L1237.5 1569.0L1246.9 1565.2L1252.3 1562.0L1267.1 1558.7L1275.3 1565.2L1281.9 1576.0L1285.3 1565.2L1288.6 1553.3L1296.7 1550.1L1302.2 1553.3L1311.6 1560.9L1320.9 1553.3L1326.4 1550.1L1331.8 1553.3L1334.5 1565.2L1341.2 1576.0L1354.5 1565.2L1356.0 1564.9L1356.3 1565.2L1359.2 1577.2L1356.0 1581.5L1351.3 1589.0L1356.0 1600.4L1357.5 1601.0L1356.3 1612.8L1356.0 1613.4L1346.6 1624.8L1347.9 1636.7L1356.0 1648.3L1368.1 1636.7L1370.0 1624.8L1370.8 1624.5L1371.3 1624.8L1378.9 1636.7L1380.2 1648.5L1378.4 1660.5L1385.6 1669.7L1393.7 1672.3L1391.0 1684.2L1385.6 1687.5L1370.8 1691.2L1360.0 1696.2L1370.8 1703.1L1385.6 1704.8L1389.7 1708.0L1385.6 1710.2L1370.8 1714.3L1356.0 1712.4L1350.3 1720.0L1342.6 1731.8L1346.6 1743.8L1341.2 1750.3L1333.0 1743.8L1326.4 1741.1L1319.7 1743.8L1312.3 1755.7L1311.6 1755.9L1310.8 1755.7L1296.7 1748.1L1291.3 1743.8L1288.6 1731.8L1281.9 1729.2L1268.6 1731.8L1267.1 1733.0L1265.6 1731.8L1252.3 1721.1L1251.8 1720.0L1252.3 1719.7L1267.1 1711.6L1281.9 1713.8L1296.7 1710.2L1310.1 1708.0L1296.7 1705.9L1284.6 1696.2L1283.3 1684.2L1281.9 1682.9L1278.6 1684.2L1278.6 1696.2L1267.1 1705.4L1258.0 1696.2L1252.3 1692.4L1237.5 1686.9L1226.0 1696.2L1222.7 1698.8L1207.9 1698.8L1193.1 1702.7L1187.7 1696.2L1181.6 1684.2L1178.3 1681.6L1171.6 1684.2L1171.3 1696.2L1163.5 1704.5L1148.7 1700.5L1134.6 1708.0L1133.9 1708.4L1133.4 1708.0L1119.1 1703.1L1110.5 1708.0L1109.4 1720.0L1104.3 1724.9L1095.7 1731.8L1089.4 1740.2L1076.1 1743.8L1074.6 1744.9L1072.0 1755.7L1065.0 1767.5L1059.8 1775.9L1056.5 1779.5L1051.2 1791.3L1045.0 1797.6L1034.7 1791.3L1033.6 1779.5L1030.2 1777.7L1016.9 1779.5L1015.4 1780.0L1000.6 1788.7L987.3 1791.3L994.5 1803.2L985.8 1811.4L978.8 1815.2L971.0 1819.3L956.2 1815.5L955.4 1815.2L941.4 1813.1L926.6 1813.4L911.8 1811.4L897.0 1803.8L893.4 1815.2L897.0 1820.8L904.7 1827.0L911.8 1834.6L926.6 1832.4L932.0 1839.0L935.7 1850.8L941.4 1858.4L956.2 1861.6L956.5 1862.8L956.2 1863.3L941.4 1864.9L932.3 1874.7L926.6 1879.3L911.8 1881.2L897.0 1883.3L882.9 1886.5L882.1 1887.1L867.3 1893.1L861.9 1886.5L867.3 1880.0L874.0 1874.7L867.3 1872.9L852.5 1871.1L837.7 1873.1L834.4 1874.7L837.7 1880.0L843.2 1886.5L837.7 1893.1L833.7 1886.5L822.9 1880.8L817.6 1886.5L808.1 1894.1L793.3 1891.8L785.7 1886.5L778.5 1879.6L763.7 1877.9L748.9 1875.0L748.4 1874.7L742.7 1862.8L742.1 1850.8L748.9 1842.7L758.3 1839.0L755.9 1827.0L763.7 1818.7L765.6 1815.2L763.7 1811.6L748.9 1813.0L744.4 1815.2L734.1 1821.4L727.9 1815.2L719.3 1808.2L708.5 1815.2L708.5 1827.0L704.5 1830.3L701.2 1827.0L700.4 1815.2L689.7 1806.5L684.2 1803.2L684.2 1791.3L688.9 1779.5L674.9 1775.7L665.5 1779.5L660.0 1781.6L645.2 1779.7L643.8 1779.5L630.4 1774.1L622.3 1767.5L615.6 1766.0L600.8 1756.0L600.3 1755.7L586.0 1751.8L579.9 1755.7L586.0 1760.0L595.4 1767.5L586.0 1775.1L571.2 1777.7L566.8 1779.5L556.4 1785.7L541.6 1787.8L526.8 1783.8L512.0 1788.7L498.6 1791.3L503.4 1803.2L497.2 1808.2L489.4 1803.2L482.4 1795.7L474.2 1791.3L467.6 1787.8L452.7 1782.7L438.4 1791.3L437.9 1791.6L423.5 1803.2L423.1 1803.5L422.6 1803.2L417.9 1791.3L423.1 1785.1L432.5 1779.5L423.1 1771.9L408.3 1770.8L400.2 1767.5L405.6 1755.7L405.6 1743.8L404.3 1731.8L400.2 1720.0L408.3 1715.6L423.1 1718.8L437.9 1709.4L452.7 1715.0L459.9 1708.0L452.7 1699.4L437.9 1697.3L437.4 1696.2L423.1 1690.4L417.0 1696.2L408.3 1704.3L398.2 1696.2L408.3 1690.1L416.6 1684.2L411.0 1672.3L423.1 1665.4L433.9 1660.5L423.1 1656.6L408.3 1649.7L393.5 1652.7L387.3 1648.5L393.5 1642.3L402.9 1636.7L408.3 1632.3L423.1 1628.3L427.6 1624.8L427.2 1612.8L423.1 1601.5L408.3 1604.2L404.3 1601.0L408.3 1597.7L423.1 1599.8L423.6 1601.0L437.9 1605.3L445.1 1601.0L437.9 1592.3L429.8 1589.0L423.1 1585.5L408.3 1580.4L402.9 1577.2L408.3 1573.9L415.5 1565.2L423.1 1560.0L432.3 1565.2L430.9 1577.2L437.9 1584.7L445.0 1577.2L452.0 1565.2L437.9 1553.9L437.6 1553.3L423.1 1546.7L411.7 1541.5L423.1 1534.1L427.2 1529.5L423.1 1518.2L408.3 1520.9L402.9 1517.7L395.7 1505.8L405.1 1493.8L402.9 1482.0L408.3 1479.3L416.5 1482.0L423.1 1492.7L429.8 1482.0L423.1 1478.4L417.9 1470.0L408.3 1458.4L406.8 1458.2L408.3 1457.9L423.1 1457.9L423.9 1458.2L437.9 1463.8L441.5 1458.2L452.4 1446.2L452.7 1445.1L466.1 1434.3L467.6 1433.2L474.2 1422.5L482.4 1419.2L487.8 1422.5L497.2 1428.1L506.5 1422.5L512.0 1418.1L519.0 1410.5L512.0 1399.2L511.2 1398.7L512.0 1398.3L517.3 1386.8L521.4 1374.8L526.8 1370.5L531.5 1363.0L526.8 1351.6L526.3 1351.0L519.0 1339.2L526.8 1335.0L541.2 1327.2L541.6 1326.1L542.3 1327.2L546.8 1339.2L556.4 1345.8L562.8 1339.2L571.2 1331.6L580.6 1339.2L582.7 1351.0L583.8 1363.0L586.0 1366.2L590.0 1363.0L588.7 1351.0L592.1 1339.2L593.0 1327.2L586.0 1322.7L571.2 1318.6L563.1 1315.3L556.4 1313.2L546.3 1303.5L555.9 1291.5L556.4 1291.3L571.2 1284.6L579.8 1279.7L586.0 1274.7L594.6 1267.8L595.1 1255.8L592.7 1244.0L600.8 1240.7L605.1 1232.0L600.8 1220.5L600.4 1220.2L600.8 1219.6L615.6 1215.2L621.0 1208.2L622.7 1196.3L615.6 1191.8L611.6 1196.3L600.8 1205.0L591.4 1196.3L600.8 1187.7L606.4 1184.5L615.6 1175.2L619.0 1172.5L615.6 1161.8L615.1 1160.7L615.6 1160.1L629.7 1148.8L630.4 1148.4L645.2 1148.4L656.0 1136.8L660.0 1133.6L668.2 1136.8L668.2 1148.8L660.0 1153.1L645.2 1149.1L638.1 1160.7L645.2 1166.4L660.0 1172.0L669.4 1160.7L674.9 1154.1L689.7 1151.4L694.1 1148.8L689.7 1143.4L681.5 1136.8L689.7 1130.3L703.0 1125.0L704.5 1123.8ZM1414.7 1113.0L1415.2 1112.5L1415.7 1113.0L1430.0 1124.6L1444.8 1124.4L1445.3 1125.0L1444.8 1125.2L1430.0 1126.1L1416.7 1136.8L1415.2 1137.2L1400.4 1137.2L1399.7 1136.8L1400.4 1136.6L1411.9 1125.0ZM405.1 1125.0L408.3 1121.7L411.6 1125.0L408.3 1128.2ZM593.0 1125.0L600.8 1116.6L608.6 1125.0L604.1 1136.8L600.8 1141.2L586.0 1142.1L578.4 1136.8L586.0 1129.5ZM1510.7 1125.0L1518.8 1120.6L1522.9 1125.0L1518.8 1129.3ZM363.6 1136.8L363.9 1136.6L378.7 1132.5L384.1 1136.8L378.7 1139.5L367.2 1148.8L363.9 1152.0L361.2 1148.8ZM1207.5 1136.8L1207.9 1136.3L1222.7 1133.3L1237.5 1136.5L1237.9 1136.8L1240.2 1148.8L1237.5 1153.1L1233.4 1148.8L1222.7 1141.8L1207.9 1137.2ZM1469.0 1136.8L1474.4 1133.6L1477.7 1136.8L1474.4 1140.1ZM1524.5 1136.8L1533.7 1130.7L1542.8 1136.8L1548.5 1148.2L1548.8 1148.8L1548.5 1149.0L1547.0 1148.8L1533.7 1146.1L1520.3 1148.8L1518.8 1149.3L1518.1 1148.8L1518.8 1148.2ZM553.1 1148.8L556.4 1145.5L561.8 1148.8L556.4 1151.4ZM788.6 1148.8L793.3 1141.2L798.9 1148.8L793.3 1152.0ZM1040.6 1148.8L1045.0 1143.4L1059.8 1145.0L1073.9 1148.8L1059.8 1151.0L1045.0 1150.1ZM1128.2 1148.8L1133.9 1143.1L1143.2 1148.8L1133.9 1153.3ZM1306.1 1148.8L1311.6 1142.2L1319.7 1148.8L1311.6 1155.3ZM849.2 1160.7L852.5 1158.0L857.0 1160.7L852.5 1161.8ZM1159.0 1160.7L1163.5 1157.1L1166.8 1160.7L1163.5 1161.8ZM1365.6 1160.7L1370.8 1154.4L1376.0 1160.7L1370.8 1165.6ZM1400.0 1160.7L1400.4 1160.3L1415.2 1160.3L1415.7 1160.7L1415.2 1161.0L1400.4 1160.9ZM712.2 1172.5L719.3 1168.8L724.0 1172.5L719.3 1178.2ZM537.5 1184.5L541.6 1181.2L547.0 1184.5L541.6 1187.7ZM1560.6 1196.3L1563.3 1193.1L1566.5 1196.3L1563.3 1199.6ZM716.7 1208.2L719.3 1202.6L722.8 1208.2L719.3 1212.0ZM1514.4 1220.2L1518.8 1216.0L1524.0 1220.2L1518.8 1226.4ZM580.6 1232.0L586.0 1229.4L590.1 1232.0L586.0 1238.6ZM1115.0 1232.0L1119.1 1230.5L1121.4 1232.0L1119.1 1237.7ZM673.2 1244.0L674.9 1233.2L676.2 1244.0L674.9 1245.5ZM741.9 1244.0L748.9 1242.1L750.9 1244.0L748.9 1246.8ZM1235.6 1244.0L1237.5 1242.4L1250.8 1244.0L1237.5 1245.3ZM863.8 1255.8L867.3 1253.2L870.9 1255.8L867.3 1261.6ZM1382.9 1255.8L1385.6 1252.3L1398.9 1255.8L1385.6 1257.6ZM774.1 1267.8L778.5 1266.0L780.7 1267.8L778.5 1278.5ZM596.4 1279.7L600.8 1276.1L614.1 1279.7L600.8 1285.0ZM762.0 1279.7L763.7 1276.1L777.0 1279.7L763.7 1281.0ZM839.2 1279.7L852.5 1276.1L854.4 1279.7L852.5 1282.3ZM1058.9 1279.7L1059.8 1278.5L1064.3 1279.7L1059.8 1280.6ZM1298.2 1279.7L1311.6 1277.9L1314.2 1279.7L1311.6 1290.4ZM1533.2 1279.7L1533.7 1279.4L1548.5 1279.1L1563.3 1278.5L1563.8 1279.7L1563.3 1280.2L1548.5 1279.9L1533.7 1280.8ZM703.1 1291.5L704.5 1290.5L717.8 1291.5L704.5 1293.7ZM835.5 1291.5L837.7 1280.8L841.1 1291.5L837.7 1293.1ZM1242.0 1291.5L1252.3 1283.2L1257.5 1291.5L1252.3 1295.7ZM1384.1 1291.5L1385.6 1291.3L1387.1 1291.5L1386.1 1303.5L1385.6 1303.7L1384.8 1303.5ZM479.1 1303.5L482.4 1300.8L490.5 1303.5L482.4 1306.1ZM568.5 1303.5L571.2 1301.3L586.0 1292.7L590.5 1303.5L586.0 1306.1L571.2 1308.8ZM716.6 1303.5L719.3 1292.7L723.7 1303.5L719.3 1308.8ZM1333.4 1303.5L1341.2 1297.2L1345.6 1303.5L1341.2 1307.0ZM1558.1 1303.5L1563.3 1297.2L1573.6 1303.5L1563.3 1311.8ZM521.4 1315.3L526.8 1312.1L534.9 1315.3L526.8 1318.0ZM593.7 1315.3L600.8 1308.4L608.0 1315.3L600.8 1322.3ZM784.7 1315.3L793.3 1311.0L798.1 1315.3L793.3 1326.9ZM1266.6 1315.3L1267.1 1314.2L1281.9 1315.1L1282.2 1315.3L1281.9 1315.6L1267.1 1315.6ZM611.2 1327.2L615.6 1324.6L617.8 1327.2L615.6 1328.8ZM641.2 1327.2L645.2 1319.7L652.3 1327.2L660.0 1335.6L662.7 1339.2L660.0 1344.5L646.7 1339.2L645.2 1338.6ZM670.4 1327.2L674.9 1325.1L681.5 1327.2L674.9 1329.4ZM697.8 1327.2L704.5 1326.2L711.1 1327.2L704.5 1329.4ZM749.3 1327.2L763.7 1322.6L778.1 1327.2L778.5 1328.4L781.2 1339.2L778.5 1342.7L775.8 1339.2L763.7 1333.1ZM915.8 1327.2L926.6 1321.5L931.9 1327.2L926.6 1335.9ZM1101.2 1327.2L1104.3 1315.7L1110.4 1327.2L1104.3 1338.8ZM714.6 1339.2L719.3 1331.6L722.8 1339.2L734.1 1346.4L743.7 1351.0L736.7 1363.0L748.9 1372.7L755.5 1374.8L748.9 1377.0L734.1 1377.0L724.0 1386.8L719.3 1398.1L705.2 1386.8L710.7 1374.8L712.6 1363.0L704.5 1358.6L698.8 1351.0L704.5 1347.3ZM803.4 1339.2L808.1 1327.8L815.1 1339.2L808.1 1350.5L807.6 1351.0L807.6 1363.0L793.3 1366.4L779.0 1363.0L784.7 1351.0L793.3 1346.1ZM665.5 1351.0L674.9 1347.3L680.5 1351.0L674.9 1355.6ZM845.9 1351.0L852.5 1347.5L865.9 1351.0L852.5 1356.4ZM954.3 1351.0L956.2 1350.0L957.8 1351.0L956.2 1352.2ZM892.9 1363.0L897.0 1357.3L902.6 1363.0L897.0 1365.8ZM550.8 1374.8L556.4 1367.3L559.2 1374.8L559.7 1386.8L556.4 1388.9L543.1 1386.8ZM952.7 1374.8L956.2 1372.6L958.7 1374.8L956.2 1382.4ZM1217.3 1374.8L1222.7 1372.2L1225.4 1374.8L1222.7 1377.0ZM628.1 1386.8L630.4 1383.5L637.5 1386.8L630.4 1391.3ZM875.1 1386.8L882.1 1384.5L887.8 1386.8L882.1 1389.0ZM742.2 1398.7L748.9 1396.5L753.3 1398.7L763.0 1410.5L748.9 1413.1L743.3 1410.5ZM805.4 1398.7L808.1 1395.1L814.8 1398.7L808.1 1400.4ZM1112.9 1398.7L1119.1 1392.9L1133.4 1398.7L1119.1 1403.0ZM493.1 1410.5L497.2 1406.2L502.6 1410.5L497.2 1414.9ZM667.8 1410.5L674.9 1407.3L684.2 1410.5L674.9 1413.8ZM1366.7 1410.5L1370.8 1406.2L1374.0 1410.5L1380.0 1422.5L1370.8 1429.8L1365.2 1434.3L1356.0 1440.5L1346.8 1434.3L1356.0 1429.1L1364.2 1422.5ZM1337.9 1422.5L1341.2 1418.1L1344.4 1422.5L1341.2 1426.8ZM1115.5 1434.3L1119.1 1426.8L1124.7 1434.3L1119.1 1440.0ZM1459.3 1434.3L1459.6 1434.0L1460.4 1434.3L1460.0 1446.2L1459.6 1446.5L1459.1 1446.2ZM502.6 1446.2L512.0 1443.0L517.6 1446.2L512.0 1449.1ZM735.6 1446.2L748.9 1444.5L749.8 1446.2L748.9 1447.6ZM1395.0 1446.2L1400.4 1441.9L1403.1 1446.2L1400.4 1452.8ZM494.5 1458.2L497.2 1452.8L499.1 1458.2L497.2 1468.9ZM1131.6 1458.2L1133.9 1452.8L1136.1 1458.2L1133.9 1460.3ZM378.0 1470.0L378.7 1469.5L393.5 1468.9L393.9 1470.0L393.5 1470.6L378.7 1471.2ZM1237.0 1470.0L1237.5 1469.7L1238.0 1470.0L1237.9 1482.0L1237.5 1482.3L1237.1 1482.0ZM446.1 1482.0L452.7 1471.2L454.4 1482.0L452.7 1485.5ZM1305.3 1482.0L1311.6 1478.4L1326.4 1481.6L1327.1 1482.0L1326.4 1482.2L1311.6 1486.1ZM1363.1 1482.0L1370.8 1475.8L1376.5 1482.0L1370.8 1488.1L1363.6 1493.8L1356.0 1501.2L1341.2 1498.8L1336.7 1493.8L1341.2 1487.6L1356.0 1487.7ZM1199.8 1493.8L1207.9 1491.2L1212.0 1493.8L1207.9 1497.1ZM1281.4 1493.8L1281.9 1493.3L1296.7 1486.9L1304.3 1493.8L1296.7 1500.8L1286.0 1505.8L1281.9 1509.0L1276.5 1505.8ZM1395.2 1493.8L1400.4 1488.9L1410.8 1493.8L1400.4 1500.1ZM1421.9 1493.8L1430.0 1489.5L1434.1 1493.8L1430.0 1500.4ZM1532.9 1493.8L1533.7 1493.6L1534.0 1493.8L1537.7 1505.8L1533.7 1509.0L1529.6 1505.8ZM1173.8 1505.8L1178.3 1502.2L1182.7 1505.8L1178.3 1507.1ZM1377.8 1505.8L1385.6 1501.6L1393.4 1505.8L1385.6 1510.7ZM1414.5 1505.8L1415.2 1504.6L1416.7 1505.8L1418.5 1517.7L1415.2 1520.9L1411.9 1517.7ZM539.4 1517.7L541.6 1512.0L551.0 1517.7L541.6 1525.2ZM1115.0 1517.7L1119.1 1515.6L1126.1 1517.7L1119.1 1523.3ZM1156.8 1517.7L1163.5 1514.1L1165.1 1517.7L1163.5 1519.8ZM1321.2 1517.7L1326.4 1512.7L1331.5 1517.7L1326.4 1521.8ZM479.0 1541.5L482.4 1530.7L484.3 1541.5L482.4 1543.6ZM1198.5 1553.3L1207.9 1548.8L1217.3 1553.3L1207.9 1556.2ZM1366.7 1553.3L1370.8 1550.7L1376.2 1553.3L1370.8 1556.0ZM1087.5 1565.2L1089.4 1564.7L1092.1 1565.2L1089.4 1566.2ZM1691.1 1565.2L1696.5 1562.6L1700.6 1565.2L1696.5 1571.8ZM1283.4 1577.2L1296.7 1574.5L1311.6 1571.8L1324.9 1577.2L1326.4 1578.3L1329.0 1589.0L1326.4 1591.7L1311.6 1591.7L1305.4 1589.0L1296.7 1579.3ZM1385.2 1577.2L1385.6 1576.9L1386.3 1577.2L1393.7 1589.0L1385.6 1592.3L1370.8 1590.2L1370.0 1589.0L1370.8 1588.8ZM1185.9 1589.0L1193.1 1584.7L1198.5 1589.0L1193.1 1594.0ZM1234.7 1589.0L1237.5 1585.3L1251.6 1589.0L1237.5 1600.4ZM1459.3 1589.0L1459.6 1588.7L1474.4 1588.8L1489.2 1587.9L1489.7 1589.0L1489.2 1589.4L1474.4 1589.3L1459.6 1589.6ZM1518.4 1589.0L1518.8 1588.7L1533.7 1588.7L1534.4 1589.0L1533.7 1590.2L1518.8 1589.4ZM1175.0 1601.0L1178.3 1598.3L1181.0 1601.0L1178.3 1602.5ZM1274.8 1601.0L1281.9 1589.4L1287.3 1601.0L1281.9 1605.9ZM1569.9 1601.0L1578.1 1598.3L1580.8 1601.0L1578.1 1603.1ZM1264.5 1612.8L1267.1 1610.2L1269.8 1612.8L1267.1 1618.2ZM1524.5 1612.8L1533.7 1603.6L1541.3 1612.8L1548.5 1618.6L1559.2 1612.8L1563.3 1606.3L1566.0 1612.8L1570.9 1624.8L1563.3 1632.1L1548.5 1632.1L1533.7 1625.0L1533.3 1624.8ZM1190.4 1636.7L1193.1 1633.1L1195.3 1636.7L1193.1 1642.0ZM1249.7 1636.7L1252.3 1631.3L1254.5 1636.7L1252.3 1642.0ZM434.4 1648.5L437.9 1641.0L452.7 1645.0L455.0 1648.5L452.7 1651.2L437.9 1656.1ZM1562.5 1648.5L1563.3 1648.0L1578.1 1647.4L1578.4 1648.5L1578.1 1649.7L1563.3 1649.7ZM1200.9 1660.5L1207.9 1657.2L1214.9 1660.5L1207.9 1666.1ZM1495.7 1660.5L1504.0 1653.7L1514.8 1660.5L1504.0 1668.0ZM1532.9 1660.5L1533.7 1659.9L1534.4 1660.5L1537.7 1672.3L1533.7 1675.6L1529.6 1672.3ZM385.7 1672.3L393.5 1668.2L403.9 1672.3L393.5 1680.7ZM1160.8 1672.3L1163.5 1661.6L1166.8 1672.3L1163.5 1677.7ZM1189.8 1672.3L1193.1 1668.8L1197.5 1672.3L1193.1 1675.0ZM1233.5 1672.3L1237.5 1669.1L1242.2 1672.3L1237.5 1679.9ZM1324.9 1672.3L1326.4 1670.8L1328.6 1672.3L1326.4 1674.1ZM1559.2 1672.3L1563.3 1665.8L1578.1 1665.8L1580.8 1672.3L1578.1 1675.0L1563.3 1675.6ZM450.5 1684.2L452.7 1682.5L457.2 1684.2L452.7 1689.6ZM1129.4 1684.2L1133.9 1682.9L1135.8 1684.2L1133.9 1695.0ZM1409.8 1684.2L1415.2 1679.9L1419.3 1684.2L1415.2 1687.5ZM540.5 1696.2L541.6 1695.3L544.3 1696.2L541.6 1701.5ZM997.1 1696.2L1000.6 1692.4L1004.6 1696.2L1000.6 1707.5ZM1071.3 1696.2L1074.6 1692.6L1079.1 1696.2L1089.4 1701.1L1098.0 1708.0L1089.4 1715.0L1074.6 1709.8L1072.0 1708.0ZM1559.2 1696.2L1563.3 1692.9L1566.0 1696.2L1563.3 1698.8ZM509.3 1708.0L512.0 1706.3L513.9 1708.0L512.0 1711.6ZM1232.3 1708.0L1237.5 1703.9L1242.7 1708.0L1237.5 1713.0ZM463.1 1720.0L467.6 1717.3L469.8 1720.0L467.6 1723.5ZM571.9 1720.0L586.0 1714.3L590.0 1720.0L586.0 1721.8ZM905.1 1720.0L911.8 1718.2L918.4 1720.0L911.8 1721.0ZM1043.4 1731.8L1045.0 1730.3L1046.7 1731.8L1045.0 1734.5ZM424.6 1743.8L437.9 1733.0L452.7 1741.1L455.4 1743.8L452.7 1749.1L437.9 1744.7ZM966.3 1743.8L971.0 1740.5L978.0 1743.8L971.0 1747.0ZM1010.0 1743.8L1015.4 1740.3L1019.3 1743.8L1015.4 1750.7ZM1056.5 1743.8L1059.8 1742.4L1073.2 1743.8L1059.8 1745.9ZM1397.1 1743.8L1400.4 1737.2L1403.7 1743.8L1400.4 1745.9ZM538.9 1755.7L541.6 1752.1L543.8 1755.7L541.6 1757.4ZM1081.3 1755.7L1089.4 1749.1L1093.5 1755.7L1089.4 1758.3ZM472.7 1767.5L482.4 1763.3L487.6 1767.5L497.2 1778.1L500.5 1779.5L497.2 1790.2L482.4 1787.0L475.3 1779.5ZM554.2 1767.5L556.4 1765.8L558.6 1767.5L556.4 1771.1ZM1008.3 1767.5L1015.4 1760.6L1020.8 1767.5L1015.4 1779.1ZM1248.3 1767.5L1252.3 1763.2L1256.4 1767.5L1252.3 1770.2ZM940.0 1791.3L941.4 1789.8L948.0 1791.3L941.4 1792.4ZM1382.9 1791.3L1385.6 1789.2L1393.7 1791.3L1385.6 1794.0ZM361.2 1803.2L363.9 1800.6L368.0 1803.2L363.9 1805.9ZM522.7 1803.2L526.8 1798.9L534.9 1803.2L530.9 1815.2L526.8 1818.4L521.4 1815.2ZM548.3 1803.2L556.4 1798.9L560.5 1803.2L556.4 1809.8ZM596.7 1803.2L600.8 1796.7L604.1 1803.2L600.8 1806.5ZM1281.6 1815.2L1281.9 1814.8L1282.2 1815.2L1282.2 1827.0L1281.9 1828.2L1281.6 1827.0ZM429.8 1827.0L437.9 1823.8L441.2 1827.0L437.9 1833.6ZM786.6 1827.0L793.3 1821.7L800.0 1827.0L793.3 1829.2ZM728.6 1839.0L734.1 1834.6L739.5 1839.0L734.1 1841.1ZM757.6 1850.8L763.7 1842.2L778.5 1847.3L793.3 1848.7L796.0 1850.8L793.3 1852.6L778.5 1854.4L763.7 1862.4ZM838.2 1850.8L852.5 1847.4L866.8 1850.8L852.5 1857.8ZM894.7 1850.8L897.0 1845.5L911.8 1843.3L917.4 1850.8L911.8 1858.4L897.0 1853.5ZM630.1 1862.8L630.4 1862.2L631.2 1862.8L630.8 1874.7L630.4 1874.9L628.9 1874.7ZM999.9 1862.8L1000.6 1862.5L1001.3 1862.8L1004.7 1874.7L1000.6 1877.3L995.2 1874.7ZM788.9 1874.7L793.3 1872.9L797.7 1874.7L793.3 1877.3ZM759.6 1910.3L763.7 1907.7L767.0 1910.3L763.7 1913.0ZM1027.5 1910.3L1030.2 1908.2L1032.9 1910.3L1030.2 1913.6ZM556.1 1922.2L556.4 1921.1L556.8 1922.2L557.1 1934.2L556.4 1934.7L556.0 1934.2ZM837.4 1922.2L837.7 1921.9L852.5 1921.7L852.9 1922.2L852.5 1922.6L837.7 1922.6ZM536.2 1946.0L541.6 1943.4L547.0 1946.0L541.6 1949.3ZM864.1 1946.0L867.3 1942.8L870.1 1946.0L867.3 1950.4ZM1014.9 1946.0L1015.4 1945.7L1015.7 1946.0L1020.6 1958.0L1015.4 1962.1L1000.6 1958.2L1000.2 1958.0L1000.6 1957.6ZM1187.9 1958.0L1193.1 1953.8L1197.5 1958.0L1193.1 1962.9ZM1010.0 1981.8L1015.4 1979.1L1019.5 1981.8L1019.9 1993.7L1015.4 1998.6L1000.6 1997.2L992.8 1993.7L1000.6 1987.4ZM494.5 1993.7L497.2 1990.4L500.4 1993.7L497.2 1996.3ZM1160.2 2017.5L1163.5 2015.3L1166.7 2017.5L1163.5 2020.1ZM1218.6 2029.3L1222.7 2025.0L1225.4 2029.3L1222.7 2031.5ZM1029.5 2041.2L1030.2 2041.0L1045.0 2040.9L1045.4 2041.2L1045.0 2041.5L1030.2 2041.8ZM921.1 2053.2L926.6 2049.9L934.7 2053.2L926.6 2056.4ZM911.3 2065.1L911.8 2064.5L912.3 2065.1L912.1 2076.9L911.8 2077.2L911.3 2076.9ZM970.6 2088.8L971.0 2088.6L985.8 2088.5L1000.6 2086.2L1004.7 2088.8L1000.6 2093.2L985.8 2089.1L971.4 2100.8L971.0 2101.0L970.3 2100.8Z" stroke="#202020" stroke-width="6.2" fill="none" stroke-linejoin="round" stroke-linecap="round"/>
<path d="M999.6 1136.8L1000.6 1136.4L1015.4 1136.6L1018.4 1136.8L1015.4 1137.6L1005.0 1148.8L1001.6 1160.7L1015.4 1171.8L1030.2 1165.4L1034.2 1160.7L1045.0 1157.4L1059.8 1156.8L1066.6 1160.7L1059.8 1168.3L1053.2 1172.5L1059.8 1179.7L1068.7 1184.5L1074.6 1186.8L1089.4 1189.8L1104.3 1186.6L1110.9 1184.5L1104.3 1173.7L1101.3 1172.5L1104.3 1172.2L1119.1 1164.9L1128.5 1172.5L1127.2 1184.5L1133.9 1189.8L1139.2 1184.5L1147.2 1172.5L1148.7 1171.8L1163.5 1168.3L1178.3 1166.0L1193.1 1167.8L1197.5 1172.5L1207.9 1183.7L1208.9 1184.5L1222.7 1195.6L1224.2 1196.3L1237.5 1199.9L1252.3 1202.0L1260.1 1208.2L1252.9 1220.2L1267.1 1228.3L1273.6 1232.0L1267.1 1236.4L1252.3 1232.5L1237.5 1234.1L1228.6 1232.0L1222.7 1229.7L1207.9 1224.9L1198.4 1220.2L1193.1 1217.1L1178.3 1217.8L1166.4 1220.2L1178.3 1221.2L1190.4 1232.0L1193.1 1239.2L1196.6 1244.0L1207.9 1255.3L1210.9 1255.8L1207.9 1258.2L1193.1 1261.1L1187.7 1255.8L1184.2 1244.0L1178.3 1242.9L1174.3 1244.0L1163.5 1248.3L1158.1 1244.0L1148.7 1239.8L1140.6 1244.0L1148.7 1251.5L1154.1 1255.8L1163.5 1263.4L1168.9 1267.8L1163.5 1274.3L1148.7 1273.0L1142.2 1267.8L1133.9 1261.1L1119.1 1258.2L1104.3 1261.1L1089.4 1257.0L1085.0 1267.8L1074.6 1274.9L1059.8 1272.0L1054.1 1279.7L1059.8 1285.9L1074.6 1285.2L1089.4 1284.2L1104.3 1284.4L1107.8 1291.5L1112.2 1303.5L1104.3 1308.2L1090.0 1315.3L1096.0 1327.2L1089.4 1336.5L1076.3 1327.2L1074.6 1325.9L1062.8 1327.2L1065.3 1339.2L1059.8 1343.5L1052.8 1351.0L1059.8 1357.5L1065.8 1363.0L1059.8 1368.4L1052.8 1374.8L1059.8 1381.3L1067.7 1386.8L1074.6 1393.4L1085.5 1398.7L1075.2 1410.5L1089.4 1418.7L1104.3 1417.2L1109.7 1422.5L1106.5 1434.3L1104.3 1437.9L1097.3 1446.2L1089.4 1451.7L1074.6 1455.8L1070.7 1458.2L1074.6 1467.7L1077.6 1470.0L1089.4 1479.6L1090.4 1482.0L1089.4 1483.1L1076.1 1493.8L1089.4 1498.1L1093.9 1493.8L1104.3 1486.7L1111.2 1493.8L1119.1 1500.2L1130.9 1493.8L1129.4 1482.0L1133.9 1474.8L1136.2 1470.0L1148.2 1458.2L1148.7 1457.9L1149.4 1458.2L1159.0 1470.0L1148.7 1476.3L1137.4 1482.0L1142.8 1493.8L1147.0 1505.8L1133.9 1513.9L1119.1 1510.3L1104.7 1517.7L1104.3 1518.8L1089.4 1525.3L1081.5 1517.7L1074.6 1513.5L1059.8 1508.1L1058.1 1517.7L1059.8 1522.4L1062.8 1529.5L1072.3 1541.5L1074.6 1543.8L1086.5 1541.5L1089.4 1540.3L1104.3 1540.3L1119.1 1536.2L1133.9 1534.9L1139.3 1541.5L1133.9 1545.2L1119.7 1553.3L1127.0 1565.2L1133.9 1569.4L1148.7 1574.8L1152.6 1565.2L1163.5 1560.9L1168.1 1565.2L1178.3 1576.7L1193.1 1576.0L1196.1 1577.2L1193.1 1577.4L1178.3 1578.3L1169.4 1589.0L1163.5 1593.8L1156.8 1601.0L1163.5 1611.7L1178.3 1610.8L1182.7 1612.8L1186.2 1624.8L1178.3 1634.3L1166.4 1624.8L1163.5 1615.2L1161.1 1624.8L1156.8 1636.7L1148.7 1645.4L1143.2 1636.7L1138.3 1624.8L1133.9 1621.2L1128.5 1624.8L1122.6 1636.7L1133.9 1648.0L1136.8 1648.5L1133.9 1650.9L1119.1 1658.9L1113.1 1660.5L1110.2 1672.3L1104.3 1677.1L1098.9 1684.2L1089.4 1690.6L1081.5 1684.2L1076.1 1672.3L1074.6 1662.8L1059.8 1667.6L1056.9 1672.3L1059.8 1674.3L1068.7 1684.2L1059.8 1692.6L1052.9 1684.2L1045.0 1677.1L1030.2 1681.9L1024.9 1684.2L1030.2 1695.0L1033.2 1696.2L1045.0 1698.5L1056.9 1708.0L1050.9 1720.0L1045.0 1722.0L1042.1 1720.0L1030.2 1708.5L1018.4 1720.0L1030.2 1728.1L1034.3 1731.8L1039.7 1743.8L1030.2 1749.2L1025.9 1743.8L1015.4 1734.5L1001.0 1743.8L1000.6 1744.9L999.6 1743.8L985.8 1735.4L971.0 1732.2L970.0 1731.8L963.1 1720.0L971.0 1712.3L985.8 1712.3L1000.6 1715.2L1012.5 1708.0L1015.0 1696.2L1003.6 1684.2L1000.6 1683.1L998.2 1684.2L988.0 1696.2L985.8 1700.9L971.0 1705.4L960.8 1696.2L956.2 1691.4L945.8 1696.2L941.4 1699.0L935.5 1696.2L926.6 1694.4L921.2 1696.2L913.2 1708.0L911.8 1708.4L908.8 1708.0L897.0 1705.7L894.6 1708.0L885.7 1720.0L886.6 1731.8L897.0 1736.6L902.9 1731.8L911.8 1726.9L926.6 1723.7L941.4 1731.1L942.4 1731.8L953.2 1743.8L956.2 1753.3L971.0 1755.3L985.8 1750.4L993.9 1755.7L985.8 1764.4L983.8 1767.5L971.0 1773.7L958.2 1767.5L956.2 1758.0L941.4 1760.4L936.0 1767.5L926.6 1772.3L914.7 1767.5L911.8 1762.8L907.8 1767.5L897.0 1774.1L893.1 1779.5L886.6 1791.3L882.1 1798.5L876.2 1803.2L882.1 1808.0L884.4 1815.2L882.1 1817.5L867.3 1822.3L858.5 1815.2L863.8 1803.2L863.8 1791.3L867.3 1784.2L869.3 1779.5L867.3 1769.9L866.4 1767.5L852.5 1763.4L838.7 1767.5L852.5 1778.7L855.5 1779.5L852.5 1780.0L837.7 1781.8L822.9 1779.9L817.8 1791.3L808.1 1799.2L793.3 1801.7L780.5 1791.3L778.5 1781.8L777.0 1779.5L763.7 1777.5L754.8 1779.5L754.8 1791.3L748.9 1798.5L734.1 1798.5L719.3 1798.5L708.9 1791.3L719.3 1783.0L728.2 1779.5L719.3 1775.9L704.5 1778.3L689.7 1773.7L676.8 1767.5L674.9 1764.4L660.0 1764.0L645.2 1756.1L630.4 1756.2L615.6 1757.7L612.7 1755.7L615.6 1752.8L621.9 1743.8L630.4 1736.0L640.8 1731.8L630.4 1727.1L618.0 1720.0L617.3 1708.0L615.6 1704.9L612.7 1708.0L603.8 1720.0L612.7 1731.8L600.8 1739.6L589.6 1743.8L586.0 1745.3L580.1 1743.8L571.2 1736.6L562.3 1731.8L571.2 1729.5L586.0 1726.7L600.4 1720.0L592.9 1708.0L586.0 1699.7L571.2 1702.4L558.8 1696.2L560.2 1684.2L556.4 1673.5L553.1 1684.2L541.6 1690.4L534.4 1696.2L530.3 1708.0L541.6 1717.1L550.5 1720.0L541.6 1722.3L527.4 1731.8L527.8 1743.8L526.8 1746.1L525.3 1743.8L512.0 1733.0L509.0 1731.8L512.0 1731.1L520.3 1720.0L524.2 1708.0L512.0 1696.5L509.0 1696.2L497.2 1694.2L486.8 1684.2L497.2 1678.0L509.6 1684.2L512.0 1693.8L517.9 1684.2L526.8 1679.5L530.6 1672.3L526.8 1661.6L525.3 1660.5L517.2 1648.5L512.0 1637.4L497.2 1637.8L496.4 1636.7L497.2 1635.5L506.1 1624.8L497.2 1614.0L482.4 1614.0L480.9 1612.8L482.4 1612.4L497.2 1611.7L512.0 1606.5L522.3 1601.0L526.8 1593.8L541.6 1595.7L548.5 1589.0L541.6 1580.7L537.1 1577.2L526.8 1573.0L520.9 1577.2L512.0 1587.1L500.1 1589.0L497.2 1590.2L494.2 1589.0L485.3 1577.2L496.4 1565.2L494.2 1553.3L494.6 1541.5L497.2 1538.6L501.6 1541.5L512.0 1548.1L518.9 1541.5L519.1 1529.5L512.0 1521.4L506.5 1517.7L512.0 1513.9L526.8 1508.4L533.8 1517.7L535.3 1529.5L541.6 1540.9L543.1 1541.5L556.4 1545.7L565.3 1541.5L571.2 1534.3L572.7 1529.5L573.6 1517.7L571.2 1508.1L570.5 1505.8L556.4 1498.2L541.6 1499.1L526.8 1498.6L522.3 1493.8L520.9 1482.0L512.0 1471.2L511.4 1470.0L509.4 1458.2L512.0 1456.4L526.8 1457.0L533.4 1446.2L541.6 1441.9L546.2 1446.2L556.4 1455.8L568.2 1446.2L570.6 1434.3L571.2 1432.0L572.9 1422.5L583.0 1410.5L576.5 1398.7L575.6 1386.8L571.2 1382.5L566.5 1374.8L562.0 1363.0L571.2 1353.7L578.3 1363.0L586.0 1374.5L587.0 1374.8L600.8 1386.0L614.6 1374.8L615.6 1373.7L630.4 1374.1L631.4 1374.8L630.4 1375.2L622.0 1386.8L615.6 1395.6L611.2 1398.7L610.0 1410.5L615.6 1417.0L625.1 1422.5L630.4 1426.0L637.1 1422.5L645.2 1417.2L656.1 1422.5L660.0 1427.2L671.9 1422.5L674.9 1422.1L689.7 1419.6L692.6 1422.5L704.5 1426.5L716.3 1422.5L719.3 1417.7L725.2 1422.5L719.3 1427.2L716.8 1434.3L719.3 1441.5L722.2 1446.2L734.1 1452.0L748.9 1454.9L754.6 1446.2L748.9 1434.7L734.1 1434.8L732.6 1434.3L734.1 1433.2L740.7 1422.5L748.9 1419.5L763.7 1417.7L771.6 1422.5L772.6 1434.3L778.5 1437.5L779.8 1434.3L792.3 1422.5L786.4 1410.5L778.5 1402.4L772.0 1398.7L778.5 1393.4L789.4 1398.7L793.3 1400.6L808.1 1410.2L822.9 1407.7L827.4 1410.5L837.7 1418.9L852.5 1413.7L860.7 1422.5L853.3 1434.3L867.3 1443.4L873.0 1434.3L880.7 1422.5L882.1 1421.3L886.0 1410.5L882.1 1406.3L868.8 1410.5L867.3 1411.7L864.4 1410.5L855.5 1398.7L867.3 1392.3L882.1 1394.8L890.0 1398.7L897.0 1402.8L905.5 1410.5L910.4 1422.5L902.4 1434.3L911.8 1441.9L926.6 1437.5L928.5 1434.3L941.4 1424.0L947.3 1422.5L956.2 1420.1L966.3 1410.5L971.0 1404.0L976.4 1410.5L985.8 1415.6L998.6 1422.5L985.8 1432.8L971.0 1432.0L965.1 1434.3L971.0 1443.9L972.5 1446.2L971.0 1447.4L964.3 1458.2L971.0 1465.3L979.9 1458.2L985.8 1453.4L1000.6 1449.6L1007.5 1446.2L1015.4 1438.6L1030.2 1441.5L1033.8 1446.2L1043.1 1458.2L1045.0 1459.7L1049.0 1458.2L1056.3 1446.2L1045.0 1439.8L1035.5 1434.3L1045.0 1428.0L1053.3 1422.5L1059.8 1418.1L1073.9 1410.5L1059.8 1401.5L1045.0 1399.1L1030.2 1401.0L1029.2 1398.7L1015.4 1387.5L1012.5 1386.8L1000.6 1383.6L985.8 1383.7L982.5 1386.8L985.8 1397.5L1000.6 1389.1L1008.5 1398.7L1000.6 1404.1L985.8 1399.2L984.3 1398.7L971.0 1396.0L961.8 1386.8L965.3 1374.8L956.2 1366.8L950.3 1363.0L956.2 1358.7L966.9 1351.0L956.2 1344.1L943.7 1339.2L941.4 1329.6L941.0 1327.2L933.2 1315.3L926.6 1312.7L921.2 1315.3L911.8 1320.8L903.9 1315.3L897.0 1312.6L892.8 1315.3L882.1 1324.9L872.5 1315.3L867.3 1308.9L861.4 1303.5L867.3 1295.8L874.0 1291.5L882.1 1285.0L890.3 1291.5L897.0 1293.5L903.6 1291.5L911.8 1287.8L926.6 1283.2L935.5 1279.7L926.6 1274.3L911.8 1274.9L897.0 1276.6L884.1 1267.8L882.1 1265.8L877.0 1255.8L867.3 1248.7L856.3 1244.0L852.5 1239.7L837.7 1237.3L832.5 1244.0L837.7 1247.3L852.5 1247.5L857.7 1255.8L852.5 1263.0L842.2 1267.8L837.7 1270.1L822.9 1276.5L808.1 1277.3L793.3 1270.1L792.8 1267.8L778.5 1256.2L763.7 1261.1L753.3 1267.8L753.0 1279.7L748.9 1284.9L743.5 1279.7L743.0 1267.8L734.1 1260.6L730.5 1255.8L734.1 1252.3L748.9 1254.1L756.1 1244.0L748.9 1237.2L734.1 1237.3L727.6 1232.0L720.3 1220.2L731.9 1208.2L734.1 1204.7L738.7 1196.3L741.1 1184.5L748.9 1176.1L762.2 1172.5L763.7 1172.1L775.5 1160.7L778.5 1153.5L793.3 1160.3L793.9 1160.7L802.8 1172.5L793.3 1177.3L786.2 1184.5L793.3 1189.2L808.1 1187.5L822.9 1188.6L830.0 1184.5L837.7 1178.2L845.8 1172.5L852.5 1168.3L862.0 1172.5L864.4 1184.5L867.3 1187.6L882.1 1189.5L891.5 1184.5L888.1 1172.5L897.0 1166.3L903.2 1160.7L911.8 1155.5L926.1 1148.8L926.6 1148.0L927.6 1148.8L941.4 1159.9L955.2 1148.8L956.2 1148.4L971.0 1139.2L977.8 1148.8L971.0 1158.3L959.1 1160.7L971.0 1162.6L976.9 1160.7L985.8 1157.8L997.1 1148.8ZM723.2 1148.8L734.1 1145.0L739.5 1148.8L737.0 1160.7L734.1 1163.0L731.1 1160.7ZM820.0 1160.7L822.9 1158.9L828.8 1160.7L822.9 1165.4ZM675.8 1172.5L689.7 1162.3L701.5 1172.5L696.2 1184.5L696.2 1196.3L704.5 1201.1L710.1 1208.2L718.3 1220.2L713.3 1232.0L704.5 1240.4L700.0 1244.0L704.5 1251.1L708.0 1255.8L704.5 1260.6L698.5 1255.8L689.7 1252.3L683.4 1244.0L682.0 1232.0L674.9 1223.9L660.0 1227.0L650.4 1220.2L653.5 1208.2L655.6 1196.3L660.0 1192.8L663.0 1196.3L665.5 1208.2L674.9 1215.8L681.9 1208.2L685.0 1196.3L681.5 1184.5ZM904.7 1172.5L911.8 1167.5L919.8 1172.5L911.8 1179.0ZM963.0 1184.5L971.0 1178.8L985.8 1173.1L1000.6 1182.3L1003.9 1184.5L1000.6 1189.8L989.7 1196.3L985.8 1197.3L985.0 1196.3L971.0 1187.0ZM1175.0 1184.5L1178.3 1179.1L1185.0 1184.5L1180.3 1196.3L1178.3 1198.7L1163.5 1198.9L1153.1 1196.3L1163.5 1192.6ZM769.1 1196.3L778.5 1191.3L783.6 1196.3L778.5 1202.8ZM630.1 1208.2L630.4 1207.5L631.4 1208.2L631.4 1220.2L630.4 1220.7L629.4 1220.2ZM740.0 1208.2L748.9 1205.6L755.5 1208.2L748.9 1210.9ZM964.3 1208.2L971.0 1206.9L973.4 1208.2L971.0 1213.6ZM1102.3 1208.2L1104.3 1207.2L1110.2 1208.2L1104.3 1209.2ZM1275.2 1208.2L1281.9 1203.5L1291.4 1208.2L1296.7 1212.5L1311.6 1214.9L1325.4 1208.2L1326.4 1207.8L1327.8 1208.2L1329.3 1220.2L1337.2 1232.0L1341.2 1234.0L1343.1 1232.0L1356.0 1224.3L1364.5 1232.0L1370.8 1238.5L1378.7 1244.0L1370.8 1253.5L1364.9 1255.8L1356.0 1258.7L1341.2 1261.4L1326.4 1265.8L1314.5 1267.8L1311.6 1268.1L1296.7 1271.5L1288.6 1267.8L1281.9 1260.6L1267.1 1264.5L1253.1 1267.8L1252.3 1268.1L1251.6 1267.8L1252.3 1266.6L1254.5 1255.8L1267.1 1247.2L1274.2 1244.0L1281.9 1236.8L1288.8 1232.0L1288.8 1220.2L1281.9 1214.6ZM683.0 1220.2L689.7 1216.6L691.7 1220.2L689.7 1223.2ZM891.6 1220.2L897.0 1215.9L911.8 1217.5L918.4 1220.2L911.8 1223.2L897.0 1230.9ZM933.1 1220.2L941.4 1213.5L944.8 1220.2L941.4 1226.8ZM1366.3 1220.2L1370.8 1218.4L1372.6 1220.2L1370.8 1223.0ZM612.4 1232.0L615.6 1226.8L621.1 1232.0L620.1 1244.0L630.4 1252.3L634.9 1255.8L636.9 1267.8L638.6 1279.7L630.4 1286.2L625.8 1279.7L625.8 1267.8L615.6 1258.2L609.7 1255.8L612.1 1244.0ZM759.9 1232.0L763.7 1221.3L778.5 1227.3L790.3 1232.0L778.5 1235.2L763.7 1234.4ZM860.4 1232.0L867.3 1226.5L875.6 1232.0L867.3 1236.2ZM993.6 1232.0L1000.6 1227.0L1005.7 1232.0L1000.6 1237.7ZM1058.5 1232.0L1059.8 1228.9L1062.2 1232.0L1059.8 1235.2ZM1104.7 1232.0L1119.1 1226.7L1127.5 1232.0L1126.0 1244.0L1119.1 1255.1L1116.1 1244.0ZM654.6 1244.0L660.0 1239.6L664.1 1244.0L660.0 1248.3ZM891.6 1244.0L897.0 1233.2L910.3 1244.0L897.0 1254.7ZM1219.2 1244.0L1222.7 1236.8L1225.2 1244.0L1222.7 1251.1ZM1292.3 1244.0L1296.7 1239.7L1310.1 1244.0L1296.7 1249.3ZM671.3 1255.8L674.9 1253.8L680.8 1255.8L675.8 1267.8L678.4 1279.7L689.7 1285.3L695.9 1291.5L689.7 1301.5L674.9 1296.3L668.9 1291.5L660.0 1280.1L658.6 1279.7L660.0 1279.1L674.1 1267.8ZM1226.7 1255.8L1237.5 1252.6L1245.7 1255.8L1237.5 1260.2ZM978.9 1267.8L985.8 1262.2L990.4 1267.8L985.8 1274.4ZM1028.5 1267.8L1030.2 1266.6L1042.1 1267.8L1030.2 1277.3ZM1370.0 1267.8L1370.8 1265.4L1385.6 1267.4L1386.2 1267.8L1385.6 1268.0L1370.8 1268.0ZM696.7 1279.7L704.5 1271.3L719.3 1274.1L727.0 1279.7L719.3 1285.2L704.5 1284.6ZM864.8 1279.7L867.3 1274.9L873.3 1279.7L867.3 1284.4ZM996.7 1279.7L1000.6 1278.3L1002.1 1279.7L1000.6 1280.2ZM1108.2 1279.7L1119.1 1270.9L1124.5 1279.7L1119.1 1284.0ZM643.8 1291.5L645.2 1290.4L645.8 1291.5L645.2 1293.9ZM757.2 1291.5L763.7 1288.3L778.5 1287.8L786.6 1291.5L793.3 1302.3L796.3 1303.5L793.3 1303.7L778.5 1304.2L768.1 1315.3L763.7 1316.8L748.9 1315.8L747.4 1315.3L748.9 1314.9L763.1 1303.5ZM820.0 1291.5L822.9 1289.2L823.4 1291.5L822.9 1292.3ZM936.9 1291.5L941.4 1284.4L956.2 1280.8L961.5 1291.5L956.2 1293.9L941.4 1302.3ZM982.8 1291.5L985.8 1288.4L986.5 1291.5L985.8 1301.1L984.8 1303.5L982.8 1315.3L981.4 1327.2L971.0 1331.4L956.2 1330.8L942.9 1327.2L952.2 1315.3L956.2 1314.2L966.8 1303.5L971.0 1297.9ZM833.3 1303.5L837.7 1301.4L840.7 1303.5L837.7 1308.2ZM697.6 1315.3L704.5 1305.4L712.2 1315.3L704.5 1320.3ZM806.1 1315.3L808.1 1308.2L817.0 1315.3L808.1 1317.7ZM843.1 1315.3L852.5 1310.6L859.3 1315.3L852.5 1320.8ZM629.9 1327.2L630.4 1326.5L630.9 1327.2L633.4 1339.2L630.4 1342.7L615.6 1342.0L606.7 1339.2L615.6 1337.1ZM1024.3 1327.2L1030.2 1324.9L1036.1 1327.2L1030.2 1329.2ZM731.9 1339.2L734.1 1334.4L737.6 1339.2L734.1 1340.6ZM859.4 1339.2L867.3 1332.8L873.3 1339.2L867.3 1343.9ZM905.2 1339.2L911.8 1334.8L917.2 1339.2L911.8 1345.7ZM1009.5 1339.2L1015.4 1334.4L1017.8 1339.2L1015.4 1340.7ZM936.9 1351.0L941.4 1343.9L943.9 1351.0L941.4 1353.4ZM998.6 1351.0L1000.6 1346.3L1002.6 1351.0L1000.6 1353.0ZM600.4 1363.0L600.8 1360.6L602.3 1363.0L600.8 1363.7ZM820.0 1363.0L822.9 1360.1L828.8 1363.0L822.9 1366.5ZM881.2 1363.0L882.1 1360.6L882.6 1363.0L897.0 1373.1L899.9 1374.8L897.0 1379.6L882.1 1378.7L874.3 1374.8ZM918.4 1363.0L926.6 1357.7L931.2 1363.0L926.6 1371.7ZM1033.2 1363.0L1045.0 1361.0L1048.0 1363.0L1045.0 1364.9ZM1082.5 1363.0L1089.4 1353.0L1098.3 1363.0L1089.4 1371.3ZM773.1 1374.8L778.5 1371.1L793.3 1372.2L798.0 1374.8L793.3 1381.4L778.5 1380.1ZM836.7 1374.8L837.7 1373.7L852.5 1372.0L857.0 1374.8L852.5 1379.6L837.7 1375.3ZM932.5 1374.8L941.4 1372.5L943.6 1374.8L941.4 1378.4ZM1069.2 1374.8L1074.6 1371.1L1082.8 1374.8L1074.6 1380.1ZM659.1 1386.8L660.0 1386.2L661.5 1386.8L674.9 1397.5L675.6 1398.7L674.9 1399.0L660.0 1399.4L659.3 1398.7ZM901.4 1386.8L911.8 1381.2L926.6 1384.4L927.6 1386.8L934.3 1398.7L926.6 1407.0L914.1 1398.7L911.8 1396.7ZM1031.7 1386.8L1045.0 1383.2L1050.4 1386.8L1045.0 1397.5ZM532.7 1398.7L541.6 1396.3L550.5 1398.7L541.6 1405.8ZM1011.9 1410.5L1015.4 1407.0L1024.3 1410.5L1016.4 1422.5L1015.4 1423.6L1012.5 1422.5ZM553.4 1422.5L556.4 1420.1L559.4 1422.5L556.4 1422.9ZM599.1 1422.5L600.8 1421.1L603.8 1422.5L600.8 1425.6ZM794.3 1422.5L808.1 1411.3L818.5 1422.5L808.1 1430.8ZM477.7 1434.3L482.4 1430.0L488.9 1434.3L482.4 1438.7ZM574.2 1434.3L586.0 1433.0L590.0 1434.3L586.0 1437.5ZM1060.8 1434.3L1074.6 1430.2L1088.5 1434.3L1074.6 1439.9ZM607.3 1446.2L615.6 1439.6L622.5 1446.2L615.6 1454.6ZM642.3 1446.2L645.2 1445.1L649.2 1446.2L645.2 1455.8ZM681.6 1446.2L689.7 1434.9L703.7 1446.2L689.7 1452.7ZM819.1 1446.2L822.9 1442.7L836.2 1446.2L822.9 1448.9ZM450.5 1458.2L452.7 1455.8L461.6 1458.2L452.7 1460.5ZM848.4 1458.2L852.5 1449.8L856.0 1458.2L852.5 1464.8ZM1013.9 1458.2L1015.4 1455.8L1017.4 1458.2L1015.4 1467.7ZM1100.7 1458.2L1104.3 1454.6L1119.1 1457.4L1119.6 1458.2L1119.1 1458.7L1104.3 1461.7ZM535.7 1470.0L541.6 1465.3L553.4 1470.0L541.6 1474.8ZM557.9 1470.0L571.2 1464.7L580.1 1470.0L571.2 1471.8ZM591.9 1470.0L600.8 1467.4L614.1 1470.0L600.8 1471.8ZM920.6 1470.0L926.6 1467.7L932.5 1470.0L926.6 1472.0ZM1057.9 1470.0L1059.8 1466.9L1071.7 1470.0L1059.8 1472.0ZM463.5 1482.0L467.6 1473.2L474.1 1482.0L467.6 1486.3ZM489.3 1482.0L497.2 1477.2L506.6 1482.0L497.2 1487.4ZM994.7 1482.0L1000.6 1473.6L1008.9 1482.0L1000.6 1486.7ZM906.4 1493.8L911.8 1489.6L914.7 1493.8L911.8 1496.9ZM452.0 1505.8L452.7 1505.0L467.6 1505.2L468.5 1505.8L467.6 1506.2L453.3 1517.7L452.7 1518.4L451.3 1517.7ZM612.7 1505.8L615.6 1503.4L630.4 1504.8L633.4 1505.8L630.4 1507.1L615.6 1507.9ZM654.7 1505.8L660.0 1503.8L662.7 1505.8L660.0 1507.7ZM1013.7 1517.7L1015.4 1508.1L1027.3 1517.7L1015.4 1518.8ZM1174.2 1517.7L1178.3 1514.4L1183.7 1517.7L1178.3 1520.9ZM437.5 1529.5L437.9 1528.4L438.9 1529.5L437.9 1531.9ZM606.7 1529.5L615.6 1527.4L621.0 1529.5L615.6 1536.7ZM925.3 1529.5L926.6 1520.0L928.1 1529.5L926.6 1530.0ZM984.6 1529.5L985.8 1528.8L987.3 1529.5L985.8 1532.7ZM449.8 1541.5L452.7 1540.7L454.2 1541.5L452.7 1542.2ZM575.6 1541.5L586.0 1538.1L590.2 1541.5L586.0 1549.8ZM954.9 1541.5L956.2 1539.9L957.2 1541.5L956.2 1546.2ZM1006.5 1553.3L1015.4 1551.8L1019.9 1553.3L1015.4 1557.6ZM1100.3 1553.3L1104.3 1541.9L1118.5 1553.3L1107.2 1565.2L1104.3 1568.4L1089.4 1571.5L1077.2 1565.2L1089.4 1561.6ZM464.6 1565.2L467.6 1560.5L471.1 1565.2L467.6 1568.8ZM498.6 1565.2L512.0 1559.9L515.8 1565.2L512.0 1568.8ZM536.4 1565.2L541.6 1558.6L552.0 1565.2L556.4 1572.4L557.4 1577.2L556.4 1579.5L550.5 1577.2L541.6 1573.6ZM579.3 1565.2L586.0 1558.1L594.9 1565.2L586.0 1572.4ZM1202.0 1565.2L1207.9 1563.5L1211.5 1565.2L1207.9 1572.4ZM1110.8 1577.2L1119.1 1571.6L1124.2 1577.2L1119.1 1580.5ZM1071.3 1589.0L1074.6 1583.7L1078.4 1589.0L1074.6 1590.7ZM1098.0 1589.0L1104.3 1581.5L1109.4 1589.0L1104.3 1594.1ZM1207.5 1589.0L1207.9 1586.7L1222.7 1584.3L1227.4 1589.0L1222.7 1595.4L1212.3 1601.0L1207.9 1604.5L1199.0 1601.0ZM458.1 1601.0L467.6 1596.2L473.5 1601.0L467.6 1608.6ZM584.0 1601.0L586.0 1598.6L588.4 1601.0L586.0 1604.1ZM1129.4 1601.0L1133.9 1597.9L1140.5 1601.0L1133.9 1604.5ZM1296.4 1601.0L1296.7 1598.6L1311.6 1596.2L1322.6 1601.0L1311.6 1607.1L1296.7 1602.1ZM437.5 1612.8L437.9 1612.6L440.9 1612.8L437.9 1613.6ZM964.3 1612.8L971.0 1608.6L973.0 1612.8L971.0 1615.0ZM1070.8 1612.8L1074.6 1611.2L1088.0 1612.8L1074.6 1616.4ZM1090.9 1612.8L1104.3 1609.8L1106.7 1612.8L1111.2 1624.8L1110.2 1636.7L1104.3 1641.4L1101.9 1636.7L1096.0 1624.8ZM1221.7 1612.8L1222.7 1612.1L1225.7 1612.8L1222.7 1614.0ZM451.8 1624.8L452.7 1622.4L454.2 1624.8L452.7 1625.5ZM515.5 1624.8L526.8 1620.2L541.6 1619.1L551.0 1624.8L541.6 1633.8L532.7 1636.7L526.8 1638.2L514.9 1636.7ZM614.4 1624.8L615.6 1623.2L621.5 1624.8L615.6 1634.3ZM1058.5 1624.8L1059.8 1623.2L1062.2 1624.8L1059.8 1627.1ZM1206.9 1624.8L1207.9 1624.0L1209.4 1624.8L1208.6 1636.7L1209.4 1648.5L1207.9 1648.9L1207.2 1648.5L1207.4 1636.7ZM1290.8 1624.8L1296.7 1617.1L1302.7 1624.8L1296.7 1631.1ZM466.6 1636.7L467.6 1635.5L468.3 1636.7L468.5 1648.5L467.6 1649.3L467.1 1648.5ZM580.1 1636.7L586.0 1627.1L587.1 1636.7L586.0 1638.2ZM939.0 1636.7L941.4 1634.5L943.6 1636.7L941.4 1639.7ZM420.2 1648.5L423.1 1645.0L425.4 1648.5L423.1 1650.1ZM539.6 1648.5L541.6 1643.8L545.5 1648.5L541.6 1649.9ZM1068.7 1648.5L1074.6 1646.6L1086.5 1648.5L1089.4 1649.1L1100.7 1660.5L1089.4 1664.6L1075.4 1660.5L1074.6 1658.1ZM1324.9 1648.5L1326.4 1648.0L1341.2 1639.8L1345.8 1648.5L1341.2 1652.9L1329.9 1660.5L1326.4 1662.5L1321.9 1660.5ZM491.7 1660.5L497.2 1653.9L505.3 1660.5L497.2 1664.8ZM934.7 1660.5L941.4 1657.4L956.2 1653.8L959.4 1660.5L956.2 1663.0L941.4 1664.7ZM1010.2 1660.5L1015.4 1657.9L1019.6 1660.5L1016.9 1672.3L1015.4 1674.7L1013.9 1672.3ZM1139.8 1660.5L1148.7 1653.3L1151.6 1660.5L1148.7 1667.6L1144.7 1672.3L1133.9 1675.6L1125.7 1672.3L1133.9 1663.6ZM1265.6 1660.5L1267.1 1659.7L1281.9 1659.7L1282.7 1660.5L1287.4 1672.3L1281.9 1675.6L1267.1 1680.0L1255.3 1672.3ZM429.1 1672.3L437.9 1669.5L452.7 1671.2L453.7 1672.3L452.7 1672.7L438.4 1684.2L437.9 1684.7L436.5 1684.2ZM627.2 1672.3L630.4 1661.2L633.2 1672.3L630.4 1683.5ZM1221.7 1672.3L1222.7 1671.6L1223.1 1672.3L1222.7 1674.7ZM1304.8 1672.3L1311.6 1666.0L1316.8 1672.3L1311.6 1678.7L1305.6 1684.2L1296.7 1694.2L1290.5 1684.2L1296.7 1678.0ZM579.8 1684.2L586.0 1678.6L592.3 1684.2L586.0 1693.3ZM703.0 1684.2L704.5 1683.5L708.4 1684.2L704.5 1685.1ZM1146.1 1684.2L1148.7 1677.1L1152.2 1684.2L1148.7 1687.1ZM1325.4 1684.2L1326.4 1683.9L1329.3 1684.2L1326.4 1684.7ZM464.0 1696.2L467.6 1692.6L470.5 1696.2L467.6 1700.9ZM834.3 1696.2L837.7 1689.5L852.5 1695.3L864.4 1696.2L858.5 1708.0L852.5 1719.2L849.1 1708.0L837.7 1698.9ZM643.5 1708.0L645.2 1706.9L660.0 1706.5L666.0 1708.0L660.0 1709.6L645.2 1711.2ZM433.3 1720.0L437.9 1716.7L444.5 1720.0L437.9 1723.7ZM481.9 1720.0L482.4 1719.5L485.3 1720.0L491.2 1731.8L482.4 1736.6L477.9 1731.8ZM669.7 1720.0L674.9 1711.6L681.8 1720.0L674.9 1728.3ZM773.9 1720.0L778.5 1717.4L793.3 1714.3L808.1 1719.2L810.5 1720.0L808.1 1721.0L793.3 1724.5L778.5 1725.5ZM849.2 1731.8L852.5 1721.1L855.5 1731.8L852.5 1734.9ZM1055.8 1731.8L1059.8 1725.3L1070.7 1731.8L1059.8 1735.1ZM555.4 1743.8L556.4 1741.4L557.9 1743.8L559.4 1755.7L556.4 1756.0L555.9 1755.7ZM650.7 1743.8L660.0 1738.7L674.9 1736.6L679.3 1743.8L674.9 1749.1L660.0 1749.4ZM860.2 1743.8L867.3 1739.0L873.8 1743.8L867.3 1751.9ZM907.3 1743.8L911.8 1740.2L915.6 1743.8L911.8 1750.9ZM425.1 1755.7L437.9 1750.0L446.5 1755.7L437.9 1762.5ZM475.8 1755.7L482.4 1749.1L487.8 1755.7L482.4 1758.0ZM683.0 1755.7L689.7 1752.1L692.6 1755.7L689.7 1758.7ZM791.1 1755.7L793.3 1753.0L796.6 1755.7L793.3 1759.9ZM878.2 1755.7L882.1 1754.3L897.0 1753.7L902.9 1755.7L897.0 1758.8L891.5 1767.5L882.1 1772.6L868.1 1767.5ZM494.2 1767.5L497.2 1763.2L512.0 1761.0L526.8 1760.4L541.6 1767.2L542.1 1767.5L541.6 1768.3L526.8 1770.4L512.0 1774.1L497.2 1770.8ZM570.7 1767.5L571.2 1765.2L586.0 1767.3L586.4 1767.5L586.0 1767.8L571.2 1767.9ZM729.6 1767.5L734.1 1764.0L739.4 1767.5L734.1 1774.7ZM938.4 1779.5L941.4 1774.7L956.2 1777.1L956.8 1779.5L956.2 1780.0L941.4 1781.5ZM910.8 1791.3L911.8 1790.9L926.6 1785.8L932.8 1791.3L941.4 1798.3L948.3 1803.2L941.4 1807.8L926.6 1803.6L923.6 1803.2L911.8 1793.7ZM776.0 1815.2L778.5 1812.3L782.1 1815.2L778.5 1818.0ZM807.4 1815.2L808.1 1814.7L822.9 1814.7L837.7 1807.5L849.6 1815.2L837.7 1824.7L825.9 1827.0L822.9 1827.6L822.2 1827.0L808.1 1815.7ZM846.0 1839.0L852.5 1832.4L860.7 1839.0L852.5 1841.6ZM812.1 1850.8L822.9 1846.5L827.6 1850.8L837.7 1860.4L842.2 1862.8L837.7 1864.8L822.9 1863.9L822.3 1862.8ZM881.6 1850.8L882.1 1848.5L882.6 1850.8L882.1 1853.2ZM866.4 1862.8L867.3 1862.3L870.3 1862.8L867.3 1863.1Z" stroke="#404040" stroke-width="6.2" fill="none" stroke-linejoin="round" stroke-linecap="round"/>
<path d="M681.9 1172.5L689.7 1166.8L696.3 1172.5L689.7 1180.9ZM777.6 1172.5L778.5 1171.7L780.7 1172.5L778.9 1184.5L778.5 1184.8L777.4 1184.5ZM994.5 1172.5L1000.6 1167.6L1006.7 1172.5L1000.6 1176.5ZM1013.0 1184.5L1015.4 1181.9L1030.2 1177.4L1043.3 1184.5L1045.0 1185.6L1058.4 1196.3L1059.8 1197.7L1072.9 1208.2L1074.6 1211.0L1085.0 1208.2L1089.4 1207.1L1090.2 1208.2L1089.4 1211.8L1086.0 1220.2L1089.4 1220.8L1091.5 1220.2L1104.3 1215.0L1119.1 1214.5L1125.2 1220.2L1119.1 1222.8L1104.3 1225.8L1100.2 1232.0L1104.3 1237.1L1110.9 1244.0L1104.3 1252.3L1089.4 1247.9L1083.8 1244.0L1075.4 1232.0L1074.6 1229.3L1067.8 1220.2L1059.8 1216.1L1053.2 1220.2L1050.5 1232.0L1045.0 1237.7L1037.2 1244.0L1045.0 1252.8L1048.9 1255.8L1045.0 1258.4L1030.2 1259.3L1025.4 1255.8L1020.4 1244.0L1015.4 1238.9L1012.3 1232.0L1015.4 1222.9L1018.0 1220.2L1028.0 1208.2L1020.6 1196.3L1015.4 1192.2ZM1157.1 1184.5L1163.5 1179.3L1165.9 1184.5L1163.5 1186.2ZM746.7 1196.3L748.9 1188.6L753.7 1196.3L748.9 1198.3ZM790.2 1196.3L793.3 1194.1L808.1 1195.8L822.9 1193.9L831.4 1196.3L837.7 1203.1L844.0 1196.3L852.5 1189.5L859.3 1196.3L864.5 1208.2L862.3 1220.2L852.5 1228.0L837.7 1229.1L825.4 1220.2L822.9 1218.1L813.5 1208.2L808.1 1197.1L798.2 1208.2L793.3 1213.7L784.8 1208.2ZM880.7 1196.3L882.1 1196.0L886.6 1196.3L884.4 1208.2L882.1 1210.0L879.9 1208.2ZM902.1 1196.3L911.8 1191.2L918.2 1196.3L915.6 1208.2L911.8 1210.2L905.3 1208.2ZM945.4 1196.3L956.2 1186.7L971.0 1190.2L980.2 1196.3L985.8 1203.1L1000.6 1198.4L1013.7 1208.2L1005.0 1220.2L1000.6 1220.5L996.2 1220.2L985.8 1218.5L980.0 1208.2L971.0 1203.3L956.2 1205.0ZM1096.1 1196.3L1104.3 1192.4L1119.1 1188.5L1128.9 1196.3L1119.1 1203.4L1104.3 1200.7ZM1192.4 1196.3L1193.1 1195.2L1194.6 1196.3L1195.3 1208.2L1193.1 1208.8L1190.9 1208.2ZM1032.4 1208.2L1045.0 1205.7L1048.6 1208.2L1045.0 1212.3ZM1139.6 1208.2L1148.7 1201.9L1163.5 1203.4L1174.7 1208.2L1163.5 1214.6L1148.7 1215.6ZM697.3 1220.2L704.5 1209.4L712.2 1220.2L704.5 1230.9ZM726.3 1220.2L734.1 1212.7L748.9 1218.2L752.1 1220.2L749.5 1232.0L748.9 1232.3L747.4 1232.0L734.1 1228.5ZM950.9 1220.2L956.2 1212.8L965.3 1220.2L971.0 1228.2L980.6 1232.0L971.0 1237.2L956.2 1237.7L947.1 1232.0ZM689.2 1232.0L689.7 1231.5L694.1 1232.0L689.7 1235.6ZM1133.5 1232.0L1133.9 1231.3L1148.7 1226.6L1157.2 1232.0L1148.7 1234.5L1133.9 1233.8ZM1168.5 1232.0L1178.3 1227.7L1183.2 1232.0L1178.3 1236.4ZM1309.3 1232.0L1311.6 1230.9L1313.0 1232.0L1311.6 1232.8ZM761.3 1244.0L763.7 1240.9L770.5 1244.0L763.7 1249.4ZM830.9 1255.8L837.7 1253.1L849.1 1255.8L837.7 1260.4ZM936.6 1255.8L941.4 1253.3L945.2 1255.8L941.4 1258.4ZM963.0 1255.8L971.0 1247.3L981.6 1255.8L971.0 1264.4L964.7 1267.8L956.2 1271.7L951.3 1267.8L956.2 1263.2ZM1260.6 1255.8L1267.1 1251.3L1275.9 1255.8L1267.1 1260.4ZM896.2 1267.8L897.0 1267.0L911.8 1263.2L918.6 1267.8L911.8 1270.0L897.0 1268.3ZM998.5 1267.8L1000.6 1263.9L1015.4 1265.2L1018.2 1267.8L1020.3 1279.7L1015.4 1286.5L1013.3 1291.5L1015.4 1298.3L1028.0 1291.5L1030.2 1290.8L1034.7 1291.5L1045.0 1292.9L1055.4 1291.5L1059.8 1291.2L1062.1 1291.5L1062.1 1303.5L1074.6 1310.2L1077.8 1315.3L1074.6 1317.6L1059.8 1317.9L1045.0 1316.2L1042.8 1315.3L1030.2 1305.2L1015.4 1307.3L1011.6 1303.5L1000.6 1300.3L991.1 1291.5L1000.6 1283.9L1011.2 1279.7L1000.6 1270.0ZM1038.0 1279.7L1045.0 1274.0L1049.3 1279.7L1045.0 1289.9ZM1083.0 1291.5L1089.4 1290.0L1093.3 1291.5L1089.4 1294.6ZM889.0 1303.5L897.0 1298.8L904.9 1303.5L897.0 1307.7ZM922.7 1303.5L926.6 1295.7L929.8 1303.5L926.6 1305.4ZM951.3 1303.5L956.2 1300.4L959.6 1303.5L956.2 1306.9ZM879.1 1315.3L882.1 1310.8L885.6 1315.3L882.1 1318.4ZM1086.7 1327.2L1089.4 1324.7L1090.8 1327.2L1089.4 1329.2ZM966.5 1339.2L971.0 1338.7L985.8 1330.9L996.0 1339.2L986.5 1351.0L985.8 1352.8L984.3 1351.0L971.0 1340.3ZM1014.7 1351.0L1015.4 1350.5L1030.2 1343.3L1039.8 1351.0L1030.2 1353.6L1015.4 1351.8ZM569.3 1363.0L571.2 1361.0L572.7 1363.0L571.2 1368.1ZM981.4 1374.8L985.8 1373.1L987.3 1374.8L985.8 1375.4ZM969.1 1386.8L971.0 1379.0L973.4 1386.8L971.0 1388.7ZM597.6 1410.5L600.8 1402.8L602.7 1410.5L600.8 1412.8ZM896.3 1410.5L897.0 1410.1L897.4 1410.5L902.4 1422.5L897.0 1429.0L890.8 1422.5ZM583.3 1422.5L586.0 1419.9L588.8 1422.5L586.0 1424.7ZM633.9 1434.3L645.2 1428.9L650.9 1434.3L645.2 1437.8ZM697.4 1434.3L704.5 1430.7L710.3 1434.3L704.5 1440.0ZM787.9 1434.3L793.3 1429.4L800.3 1434.3L793.3 1444.2ZM880.2 1434.3L882.1 1431.8L887.0 1434.3L882.1 1437.4ZM940.6 1434.3L941.4 1433.8L942.5 1434.3L941.4 1437.9ZM759.4 1446.2L763.7 1439.9L772.8 1446.2L778.5 1451.6L786.6 1458.2L793.3 1466.2L798.3 1458.2L803.7 1446.2L808.1 1445.4L808.7 1446.2L822.9 1456.2L837.7 1454.2L841.1 1458.2L847.5 1470.0L852.5 1473.3L856.2 1470.0L862.0 1458.2L867.3 1451.8L875.3 1458.2L878.5 1470.0L878.0 1482.0L882.1 1483.6L894.9 1493.8L883.3 1505.8L892.4 1517.7L897.0 1523.2L907.9 1517.7L910.7 1505.8L911.8 1505.2L916.2 1505.8L915.0 1517.7L917.2 1529.5L926.6 1532.8L937.1 1529.5L936.5 1517.7L930.0 1505.8L926.6 1503.0L922.8 1493.8L926.6 1484.7L935.1 1493.8L941.4 1498.9L946.4 1493.8L946.6 1482.0L956.2 1478.9L960.0 1482.0L971.0 1487.5L985.8 1486.1L995.4 1493.8L1000.6 1495.5L1007.7 1505.8L1003.4 1517.7L1015.4 1526.1L1030.2 1524.6L1041.8 1517.7L1040.2 1505.8L1030.2 1495.0L1025.8 1493.8L1030.2 1493.1L1045.0 1492.7L1046.1 1493.8L1048.2 1505.8L1047.8 1517.7L1048.9 1529.5L1049.5 1541.5L1045.0 1543.2L1042.8 1541.5L1030.2 1537.4L1027.4 1541.5L1015.4 1547.7L1000.6 1547.1L992.5 1541.5L996.3 1529.5L985.8 1524.3L977.4 1529.5L981.4 1541.5L985.8 1552.2L986.9 1553.3L985.8 1556.9L982.3 1565.2L985.8 1569.4L989.0 1577.2L1000.6 1588.3L1015.4 1578.2L1030.2 1588.2L1032.4 1589.0L1045.0 1591.9L1053.4 1589.0L1045.0 1584.0L1039.3 1577.2L1030.2 1566.1L1028.0 1565.2L1030.2 1561.7L1045.0 1555.9L1059.8 1564.5L1060.9 1565.2L1061.3 1577.2L1062.2 1589.0L1059.8 1592.1L1053.7 1601.0L1059.8 1612.0L1060.5 1612.8L1059.8 1613.4L1050.5 1624.8L1055.6 1636.7L1052.0 1648.5L1046.1 1660.5L1045.0 1662.2L1038.7 1672.3L1030.2 1675.4L1026.0 1672.3L1026.8 1660.5L1015.4 1653.4L1005.6 1648.5L1000.6 1637.8L985.8 1646.9L975.4 1648.5L984.1 1660.5L985.8 1662.5L996.2 1660.5L1000.6 1659.3L1001.2 1660.5L1004.9 1672.3L1000.6 1675.8L985.8 1682.2L976.0 1672.3L971.0 1669.5L967.4 1672.3L956.2 1682.9L952.7 1684.2L941.4 1688.8L926.6 1689.5L915.4 1684.2L918.6 1672.3L926.6 1665.0L937.2 1672.3L941.4 1677.4L945.0 1672.3L956.2 1667.5L965.0 1660.5L969.5 1648.5L956.2 1644.5L949.6 1636.7L941.4 1628.7L932.4 1636.7L926.6 1644.0L918.6 1636.7L911.8 1632.6L903.9 1636.7L897.0 1646.5L893.5 1648.5L897.0 1652.7L903.4 1660.5L903.9 1672.3L897.0 1680.2L888.8 1672.3L882.1 1667.0L872.2 1672.3L867.3 1677.5L863.7 1684.2L852.5 1690.0L842.7 1684.2L837.7 1678.9L822.9 1681.9L813.8 1684.2L822.9 1689.8L828.2 1696.2L822.9 1701.3L815.9 1708.0L808.1 1714.3L794.8 1708.0L793.3 1703.9L791.6 1708.0L778.5 1712.9L769.8 1708.0L763.7 1704.0L748.9 1703.9L734.1 1706.9L730.6 1708.0L730.6 1720.0L719.3 1726.8L712.5 1720.0L714.4 1708.0L704.5 1702.5L692.9 1708.0L689.7 1713.2L685.8 1708.0L689.7 1700.3L691.4 1696.2L689.7 1693.4L679.3 1696.2L674.9 1697.0L660.0 1696.7L645.2 1699.6L633.2 1708.0L630.4 1715.8L627.7 1708.0L620.1 1696.2L615.6 1691.6L609.0 1696.2L600.8 1704.0L593.8 1696.2L600.3 1684.2L596.4 1672.3L600.8 1671.2L615.6 1663.3L621.7 1672.3L622.7 1684.2L630.4 1689.3L645.2 1692.2L651.6 1684.2L645.2 1679.6L638.0 1672.3L645.2 1664.5L654.4 1660.5L650.2 1648.5L645.2 1646.4L640.8 1648.5L630.4 1655.4L618.8 1648.5L630.4 1639.2L632.2 1636.7L635.4 1624.8L630.4 1620.7L615.6 1613.4L611.2 1612.8L615.6 1609.3L630.4 1602.0L632.5 1601.0L630.4 1600.0L620.2 1589.0L615.6 1580.2L610.6 1589.0L600.8 1599.9L588.8 1589.0L600.8 1581.2L611.8 1577.2L615.6 1569.4L616.7 1565.2L623.4 1553.3L629.3 1541.5L630.4 1539.7L645.2 1539.7L646.3 1541.5L645.2 1542.6L639.5 1553.3L645.2 1558.7L658.6 1553.3L660.0 1552.5L674.9 1544.8L687.4 1541.5L679.3 1529.5L681.7 1517.7L674.9 1511.4L670.0 1505.8L674.9 1497.9L679.9 1493.8L674.9 1488.8L670.7 1493.8L660.0 1498.5L645.2 1499.0L630.4 1499.0L615.6 1496.9L610.8 1493.8L600.8 1488.3L591.0 1482.0L600.8 1476.7L615.6 1476.3L621.9 1470.0L630.4 1460.7L643.8 1470.0L645.2 1478.4L648.7 1470.0L653.0 1458.2L660.0 1450.8L670.7 1458.2L674.9 1461.0L689.7 1461.5L692.8 1458.2L704.5 1451.3L719.3 1455.1L734.1 1457.8L735.6 1458.2L748.9 1461.1L763.7 1464.4L771.5 1458.2L763.7 1452.6ZM581.2 1458.2L586.0 1454.3L600.8 1454.3L604.7 1458.2L600.8 1460.1L586.0 1461.2ZM903.8 1458.2L911.8 1450.8L922.4 1458.2L911.8 1464.5ZM994.9 1458.2L1000.6 1455.4L1004.9 1458.2L1000.6 1462.7ZM1029.5 1458.2L1030.2 1457.3L1031.0 1458.2L1045.0 1469.5L1045.8 1470.0L1045.0 1471.2L1030.2 1475.0L1024.1 1470.0ZM732.0 1470.0L734.1 1461.7L735.2 1470.0L734.1 1478.4ZM892.1 1470.0L897.0 1467.0L900.8 1470.0L897.0 1477.8ZM558.1 1482.0L571.2 1476.7L581.0 1482.0L571.2 1492.5ZM716.2 1482.0L719.3 1477.4L732.6 1482.0L719.3 1483.6ZM777.0 1482.0L778.5 1480.9L788.9 1482.0L778.5 1482.7ZM820.3 1482.0L822.9 1477.8L825.0 1482.0L822.9 1486.1ZM732.7 1493.8L734.1 1483.7L738.3 1493.8L734.1 1495.5ZM595.1 1505.8L600.8 1501.8L604.6 1505.8L615.6 1513.7L630.4 1515.4L645.2 1510.8L660.0 1513.0L668.0 1517.7L664.9 1529.5L660.0 1532.6L653.6 1529.5L645.2 1524.5L630.4 1522.8L615.6 1521.6L600.8 1524.0L591.7 1529.5L586.0 1532.3L581.8 1529.5L586.0 1520.4L588.1 1517.7ZM715.1 1505.8L719.3 1504.6L721.4 1505.8L719.3 1507.3ZM755.3 1505.8L763.7 1503.9L766.2 1505.8L763.7 1512.5ZM952.7 1505.8L956.2 1503.7L966.5 1505.8L956.2 1508.5ZM973.2 1505.8L985.8 1499.0L990.0 1505.8L985.8 1508.0ZM1073.8 1505.8L1074.6 1505.0L1076.9 1505.8L1074.6 1506.2ZM1124.2 1505.8L1133.9 1502.7L1136.6 1505.8L1133.9 1507.5ZM522.0 1517.7L526.8 1515.7L528.3 1517.7L527.3 1529.5L526.8 1531.3L526.3 1529.5ZM699.0 1529.5L704.5 1522.2L709.9 1529.5L704.5 1534.0ZM762.0 1529.5L763.7 1525.4L765.0 1529.5L763.7 1530.2ZM820.1 1529.5L822.9 1526.7L826.1 1529.5L828.6 1541.5L822.9 1546.0L818.5 1541.5ZM862.3 1529.5L867.3 1528.1L875.7 1529.5L867.3 1532.4ZM597.4 1541.5L600.8 1536.9L606.5 1541.5L600.8 1546.9ZM878.6 1541.5L882.1 1534.7L897.0 1539.8L911.8 1534.5L915.2 1541.5L911.8 1550.8L897.0 1545.6L882.1 1546.5ZM946.8 1541.5L956.2 1530.1L963.2 1541.5L965.3 1553.3L962.5 1565.2L961.7 1577.2L956.2 1588.2L945.2 1577.2L953.9 1565.2L941.4 1554.2L931.0 1553.3L941.4 1551.3ZM687.6 1553.3L689.7 1545.0L691.1 1553.3L689.7 1556.1ZM756.8 1553.3L763.7 1550.6L768.3 1553.3L763.7 1556.7ZM1077.2 1553.3L1089.4 1545.8L1096.3 1553.3L1089.4 1558.5ZM818.7 1565.2L822.9 1561.9L831.3 1565.2L822.9 1570.3ZM913.2 1565.2L926.6 1554.5L929.9 1565.2L926.6 1569.8ZM563.4 1577.2L571.2 1568.8L580.5 1577.2L571.2 1585.5ZM774.9 1577.2L778.5 1572.6L782.5 1577.2L778.5 1582.5ZM847.6 1577.2L852.5 1570.9L867.3 1568.3L873.4 1577.2L867.3 1582.0L852.5 1582.0ZM1088.0 1577.2L1089.4 1576.8L1090.9 1577.2L1089.9 1589.0L1089.4 1590.2L1088.8 1589.0ZM1133.3 1577.2L1133.9 1576.7L1134.8 1577.2L1134.8 1589.0L1133.9 1589.6L1119.1 1598.2L1116.0 1589.0L1119.1 1586.3ZM755.3 1589.0L763.7 1587.0L768.7 1589.0L763.7 1595.8ZM569.0 1601.0L571.2 1599.8L571.9 1601.0L576.0 1612.8L578.3 1624.8L571.2 1631.1L562.1 1624.8L566.4 1612.8ZM653.2 1601.0L660.0 1597.8L671.0 1601.0L660.0 1606.5ZM873.8 1601.0L882.1 1595.9L884.9 1601.0L882.1 1603.0ZM909.0 1601.0L911.8 1590.8L926.6 1597.6L941.4 1599.6L943.1 1601.0L956.2 1608.8L967.4 1601.0L971.0 1594.2L974.6 1601.0L978.6 1612.8L971.0 1620.8L956.2 1623.6L941.4 1614.9L926.6 1614.0L924.0 1612.8L911.8 1605.0ZM1007.7 1601.0L1015.4 1596.3L1027.0 1601.0L1020.8 1612.8L1030.2 1623.8L1032.8 1624.8L1030.2 1626.4L1015.4 1628.9L1010.2 1624.8L1000.6 1619.6L997.5 1612.8L1000.6 1609.5ZM1065.3 1601.0L1074.6 1595.2L1085.0 1601.0L1074.6 1606.7ZM1102.8 1601.0L1104.3 1600.6L1108.7 1601.0L1104.3 1601.5ZM520.4 1612.8L526.8 1609.8L536.4 1612.8L526.8 1614.4ZM1113.3 1612.8L1119.1 1602.6L1131.8 1612.8L1119.1 1621.4ZM593.7 1624.8L600.8 1614.5L607.2 1624.8L608.7 1636.7L600.8 1647.2L593.7 1636.7ZM849.1 1624.8L852.5 1623.6L855.1 1624.8L852.5 1633.1ZM891.2 1624.8L897.0 1619.7L902.8 1624.8L897.0 1631.7ZM835.6 1636.7L837.7 1631.6L850.3 1636.7L837.7 1638.9ZM584.9 1648.5L586.0 1648.0L590.5 1648.5L592.8 1660.5L586.0 1669.6L584.3 1672.3L571.7 1684.2L571.2 1687.8L570.6 1684.2L563.4 1672.3L566.4 1660.5L571.2 1657.4ZM760.9 1648.5L763.7 1645.2L765.5 1648.5L763.7 1653.6ZM538.4 1660.5L541.6 1658.2L546.4 1660.5L542.5 1672.3L544.0 1684.2L541.6 1685.5L537.7 1684.2L541.0 1672.3ZM799.7 1660.5L808.1 1659.3L811.3 1660.5L808.1 1663.3ZM658.7 1672.3L660.0 1669.6L663.5 1672.3L660.0 1673.5ZM777.2 1672.3L778.5 1671.2L783.7 1672.3L778.5 1674.4ZM843.8 1672.3L852.5 1665.4L864.1 1672.3L852.5 1677.9ZM1085.2 1672.3L1089.4 1669.9L1095.1 1672.3L1089.4 1679.2ZM693.9 1684.2L704.5 1678.6L719.3 1680.2L734.1 1683.6L737.5 1684.2L734.1 1685.4L719.3 1687.8L704.5 1690.4ZM523.6 1696.2L526.8 1693.1L528.4 1696.2L526.8 1699.2ZM968.9 1696.2L971.0 1692.3L974.8 1696.2L971.0 1698.1ZM831.4 1708.0L837.7 1703.8L843.0 1708.0L842.6 1720.0L840.1 1731.8L852.5 1743.2L853.0 1743.8L854.0 1755.7L852.5 1756.1L837.7 1758.2L831.3 1755.7L832.1 1743.8L822.9 1732.7L819.0 1743.8L814.5 1755.7L808.1 1759.5L805.7 1755.7L793.3 1745.7L785.0 1755.7L787.0 1767.5L778.5 1771.5L763.7 1772.2L753.1 1767.5L752.3 1755.7L751.0 1743.8L748.9 1742.1L747.2 1743.8L734.1 1754.3L723.7 1755.7L719.3 1759.2L715.8 1767.5L704.5 1771.0L689.7 1767.9L688.9 1767.5L689.7 1767.0L700.7 1755.7L704.5 1750.2L717.8 1743.8L719.3 1742.0L734.1 1733.2L736.2 1731.8L744.4 1720.0L748.9 1716.4L763.7 1716.9L765.8 1720.0L763.7 1723.8L758.0 1731.8L763.7 1736.4L778.5 1736.9L786.9 1731.8L793.3 1730.3L808.1 1727.5L822.9 1728.3L826.4 1720.0ZM658.6 1720.0L660.0 1719.4L660.6 1720.0L661.2 1731.8L660.0 1732.2L658.9 1731.8ZM584.9 1731.8L586.0 1731.6L600.8 1727.9L604.6 1731.8L600.8 1734.3L586.0 1732.7ZM863.6 1731.8L867.3 1722.7L873.0 1731.8L867.3 1734.1ZM914.4 1731.8L926.6 1728.6L932.7 1731.8L928.8 1743.8L926.6 1744.5L925.9 1743.8ZM880.4 1743.8L882.1 1740.7L891.8 1743.8L882.1 1746.0ZM816.1 1767.5L822.9 1760.7L827.8 1767.5L822.9 1771.5ZM792.6 1791.3L793.3 1790.6L808.1 1785.7L812.7 1791.3L808.1 1795.0L793.3 1791.9Z" stroke="#606060" stroke-width="6.2" fill="none" stroke-linejoin="round" stroke-linecap="round"/>
<path d="M687.9 1172.5L689.7 1171.3L691.1 1172.5L689.7 1174.4ZM952.6 1196.3L956.2 1193.2L971.0 1193.4L975.3 1196.3L971.0 1199.6L956.2 1199.2ZM1040.9 1196.3L1045.0 1194.0L1048.0 1196.3L1045.0 1198.4ZM1116.1 1196.3L1119.1 1195.8L1119.8 1196.3L1119.1 1196.9ZM819.0 1208.2L822.9 1201.5L830.1 1208.2L822.9 1212.3ZM846.6 1208.2L852.5 1202.5L856.5 1208.2L852.5 1215.4L847.8 1220.2L837.7 1223.8L832.7 1220.2L837.7 1214.4ZM986.8 1208.2L1000.6 1202.0L1008.9 1208.2L1000.6 1215.9ZM1157.6 1208.2L1163.5 1207.9L1164.3 1208.2L1163.5 1208.7ZM702.9 1220.2L704.5 1217.8L706.2 1220.2L704.5 1222.5ZM732.4 1220.2L734.1 1218.5L738.2 1220.2L734.1 1222.0ZM1028.2 1232.0L1030.2 1229.7L1033.2 1232.0L1030.2 1234.4ZM1081.0 1232.0L1089.4 1225.3L1095.9 1232.0L1089.4 1240.9ZM1099.1 1244.0L1104.3 1242.4L1105.7 1244.0L1104.3 1245.8ZM995.6 1291.5L1000.6 1287.5L1007.3 1291.5L1000.6 1296.1ZM979.5 1339.2L985.8 1335.8L990.0 1339.2L985.8 1344.2ZM701.9 1458.2L704.5 1456.6L708.6 1458.2L704.5 1461.5ZM807.4 1458.2L808.1 1457.2L809.6 1458.2L812.3 1470.0L808.1 1475.6L804.0 1470.0ZM628.5 1470.0L630.4 1468.0L633.4 1470.0L630.4 1473.4ZM672.9 1470.0L674.9 1469.4L680.8 1470.0L689.7 1471.5L704.5 1474.8L710.6 1482.0L719.3 1486.7L728.6 1493.8L734.1 1500.4L743.0 1505.8L748.9 1512.9L754.8 1517.7L749.9 1529.5L748.9 1531.1L743.4 1541.5L734.1 1550.2L725.9 1541.5L719.3 1532.9L717.2 1529.5L708.7 1517.7L719.3 1511.8L727.4 1505.8L719.3 1501.4L705.2 1493.8L704.5 1492.7L689.7 1490.7L680.4 1482.0L674.9 1471.6ZM743.3 1470.0L748.9 1466.4L759.0 1470.0L763.7 1476.4L766.7 1482.0L778.5 1488.0L793.3 1492.9L808.1 1485.1L816.3 1493.8L816.5 1505.8L822.9 1516.1L824.4 1517.7L822.9 1518.3L812.1 1529.5L810.4 1541.5L808.1 1547.0L802.9 1541.5L796.3 1529.5L793.3 1528.1L790.3 1529.5L790.7 1541.5L791.1 1553.3L793.3 1553.9L807.5 1565.2L800.4 1577.2L808.1 1582.3L822.9 1581.0L830.6 1577.2L837.7 1572.4L841.0 1577.2L852.5 1588.5L867.3 1588.5L869.3 1589.0L867.3 1590.2L861.4 1601.0L856.0 1612.8L852.5 1615.2L842.2 1612.8L841.1 1601.0L837.7 1596.2L833.8 1601.0L822.9 1606.8L809.3 1612.8L813.2 1624.8L822.9 1630.2L829.6 1636.7L837.7 1645.4L846.6 1648.5L837.7 1658.1L833.3 1660.5L835.8 1672.3L822.9 1678.9L808.1 1673.9L806.6 1672.3L808.1 1671.7L820.3 1660.5L808.1 1656.1L793.3 1656.6L782.6 1660.5L778.5 1662.8L773.3 1660.5L770.7 1648.5L778.5 1641.2L787.0 1636.7L778.5 1628.8L766.7 1624.8L778.5 1620.0L786.1 1612.8L778.5 1608.1L769.6 1601.0L778.5 1591.8L793.3 1590.2L795.5 1589.0L793.3 1586.7L789.8 1577.2L779.1 1565.2L778.5 1563.5L774.3 1553.3L763.7 1547.0L752.7 1541.5L763.7 1534.7L774.1 1529.5L768.5 1517.7L773.5 1505.8L763.7 1498.6L750.7 1493.8L748.9 1490.3L745.4 1482.0ZM769.6 1470.0L778.5 1462.9L784.4 1470.0L778.5 1473.6ZM836.2 1470.0L837.7 1468.5L838.5 1470.0L837.7 1474.8ZM862.8 1470.0L867.3 1459.9L871.9 1470.0L867.3 1480.2ZM600.1 1482.0L600.8 1481.6L606.7 1482.0L600.8 1482.4ZM840.7 1482.0L852.5 1479.1L864.4 1482.0L867.3 1483.1L882.1 1488.5L888.8 1493.8L882.1 1500.3L873.6 1505.8L882.1 1512.6L886.3 1517.7L882.1 1523.4L867.3 1523.9L852.5 1524.8L846.6 1517.7L852.5 1513.6L861.0 1505.8L852.5 1499.7L837.7 1495.4L836.2 1493.8L837.7 1489.1ZM788.6 1505.8L793.3 1496.2L798.0 1505.8L793.3 1508.9ZM732.8 1517.7L734.1 1516.5L737.0 1517.7L745.9 1529.5L734.1 1532.7L726.2 1529.5ZM976.9 1517.7L985.8 1514.5L991.7 1517.7L985.8 1519.8ZM687.4 1529.5L689.7 1521.2L691.7 1529.5L689.7 1532.3ZM835.1 1529.5L837.7 1526.2L844.6 1529.5L837.7 1537.9ZM701.0 1541.5L704.5 1539.8L708.6 1541.5L708.6 1553.3L704.5 1557.5L701.5 1553.3ZM864.4 1541.5L867.3 1540.8L868.2 1541.5L867.3 1546.2ZM918.9 1541.5L926.6 1535.6L939.4 1541.5L926.6 1549.7ZM969.3 1541.5L971.0 1533.1L973.3 1541.5L971.0 1545.6ZM1006.5 1541.5L1015.4 1535.7L1019.4 1541.5L1015.4 1543.5ZM824.4 1553.3L837.7 1542.6L852.5 1551.0L858.5 1553.3L852.5 1555.7L837.7 1560.5ZM1084.4 1553.3L1089.4 1550.2L1092.2 1553.3L1089.4 1555.5ZM623.9 1565.2L630.4 1554.8L641.3 1565.2L643.0 1577.2L643.0 1589.0L630.4 1593.5L626.2 1589.0L623.2 1577.2ZM670.7 1565.2L674.9 1556.9L680.0 1565.2L683.7 1577.2L689.7 1587.9L696.3 1577.2L704.5 1569.7L711.7 1577.2L719.3 1588.1L721.2 1589.0L732.6 1601.0L734.1 1601.8L735.3 1601.0L748.9 1593.3L758.4 1601.0L763.7 1609.5L767.8 1612.8L763.7 1621.2L748.9 1622.0L734.1 1621.7L724.9 1612.8L719.3 1607.4L705.6 1612.8L710.4 1624.8L719.3 1628.6L733.0 1636.7L734.1 1637.7L737.0 1636.7L748.9 1629.5L760.7 1636.7L752.8 1648.5L748.9 1655.7L743.0 1660.5L745.9 1672.3L734.1 1678.7L719.3 1672.9L704.5 1673.7L701.0 1672.3L689.7 1666.9L674.9 1668.5L664.9 1660.5L660.0 1650.1L659.3 1648.5L660.0 1647.8L674.9 1640.2L689.7 1638.1L704.5 1640.2L705.6 1636.7L704.5 1634.3L695.6 1624.8L689.7 1621.6L674.9 1620.8L666.3 1624.8L660.0 1629.2L653.7 1636.7L645.2 1642.5L637.4 1636.7L642.0 1624.8L630.4 1615.4L625.4 1612.8L630.4 1609.3L645.2 1608.1L651.2 1612.8L660.0 1614.6L660.9 1612.8L674.9 1604.2L689.7 1602.4L704.5 1608.1L705.9 1601.0L704.5 1599.5L689.7 1593.8L674.9 1592.4L660.0 1593.6L646.7 1589.0L660.0 1581.0L664.9 1577.2ZM712.2 1565.2L719.3 1560.5L728.2 1565.2L719.3 1569.3ZM754.4 1565.2L763.7 1561.2L776.7 1565.2L768.3 1577.2L763.7 1581.2L748.9 1578.3L734.1 1578.7L732.9 1577.2L734.1 1574.8L748.9 1575.6ZM878.0 1565.2L882.1 1561.1L897.0 1561.9L900.4 1565.2L899.9 1577.2L897.0 1578.3L882.1 1578.7L881.5 1577.2ZM935.9 1565.2L941.4 1560.0L947.3 1565.2L941.4 1571.8ZM1041.6 1565.2L1045.0 1563.2L1048.5 1565.2L1045.0 1569.4ZM569.5 1577.2L571.2 1575.3L573.3 1577.2L571.2 1579.0ZM968.9 1577.2L971.0 1573.0L975.1 1577.2L971.0 1580.5ZM596.9 1589.0L600.8 1586.5L604.0 1589.0L600.8 1592.6ZM935.5 1589.0L941.4 1587.9L942.6 1589.0L941.4 1589.8ZM1010.3 1589.0L1015.4 1585.5L1020.5 1589.0L1015.4 1591.4ZM893.0 1601.0L897.0 1596.2L900.9 1601.0L903.9 1612.8L897.0 1614.4L885.1 1624.8L882.1 1634.3L873.3 1624.8L875.9 1612.8L882.1 1608.8ZM985.0 1601.0L985.8 1596.2L991.7 1601.0L988.4 1612.8L985.8 1621.2L984.2 1612.8ZM1043.5 1601.0L1045.0 1600.3L1045.7 1601.0L1045.0 1605.7ZM1072.6 1601.0L1074.6 1599.7L1076.9 1601.0L1074.6 1602.2ZM1026.3 1612.8L1030.2 1607.1L1042.8 1612.8L1030.2 1617.3ZM908.8 1624.8L911.8 1617.6L926.6 1622.4L933.5 1624.8L926.6 1633.1L911.8 1627.3ZM600.3 1636.7L600.8 1631.9L601.4 1636.7L600.8 1637.4ZM955.7 1636.7L956.2 1635.7L959.1 1636.7L956.2 1637.2ZM627.8 1648.5L630.4 1646.5L632.7 1648.5L630.4 1650.1ZM709.6 1648.5L719.3 1645.5L723.5 1648.5L719.3 1658.9ZM1014.7 1648.5L1015.4 1647.4L1030.2 1638.4L1040.3 1648.5L1030.2 1655.3L1015.4 1648.9ZM614.4 1672.3L615.6 1671.7L616.1 1672.3L615.6 1677.1ZM642.9 1672.3L645.2 1669.8L649.7 1672.3L645.2 1674.7ZM754.8 1672.3L763.7 1666.6L768.1 1672.3L763.7 1681.9ZM658.2 1684.2L660.0 1681.9L674.9 1678.5L682.0 1684.2L674.9 1688.3L660.0 1687.0ZM782.4 1684.2L793.3 1677.7L802.6 1684.2L793.3 1690.8ZM925.7 1684.2L926.6 1679.5L928.5 1684.2L926.6 1684.6ZM628.1 1696.2L630.4 1694.6L635.6 1696.2L630.4 1699.5ZM703.5 1696.2L704.5 1695.7L719.3 1694.3L734.1 1693.8L738.2 1696.2L734.1 1698.5L719.3 1700.3L704.5 1696.6ZM757.8 1696.2L763.7 1686.6L778.5 1693.8L780.0 1696.2L779.5 1708.0L778.5 1708.4L777.8 1708.0L763.7 1698.7ZM805.2 1708.0L808.1 1705.3L809.8 1708.0L808.1 1709.4ZM799.2 1743.8L808.1 1734.6L813.8 1743.8L808.1 1750.9ZM776.5 1755.7L778.5 1754.1L779.0 1755.7L778.5 1757.2Z" stroke="#808080" stroke-width="6.2" fill="none" stroke-linejoin="round" stroke-linecap="round"/>
<path d="M994.8 1208.2L1000.6 1205.6L1004.1 1208.2L1000.6 1211.5ZM1086.6 1232.0L1089.4 1229.8L1091.6 1232.0L1089.4 1235.0ZM697.1 1482.0L704.5 1481.3L705.0 1482.0L704.5 1482.9ZM711.3 1493.8L719.3 1489.8L724.6 1493.8L719.3 1498.1ZM771.1 1493.8L778.5 1493.3L780.0 1493.8L778.5 1496.8ZM859.9 1493.8L867.3 1492.9L882.1 1493.4L882.8 1493.8L882.1 1494.4L867.3 1496.8ZM716.8 1517.7L719.3 1516.3L722.4 1517.7L719.3 1521.2ZM775.1 1517.7L778.5 1510.2L790.8 1517.7L778.5 1523.6ZM859.9 1517.7L867.3 1510.2L876.6 1517.7L867.3 1519.8ZM760.0 1541.5L763.7 1539.2L778.5 1532.5L785.9 1541.5L778.5 1551.4L763.7 1543.3ZM922.5 1541.5L926.6 1538.3L933.4 1541.5L926.6 1545.8ZM784.3 1565.2L793.3 1558.0L802.3 1565.2L793.3 1574.4ZM658.8 1589.0L660.0 1588.3L661.9 1589.0L660.0 1589.5ZM819.2 1589.0L822.9 1588.3L825.4 1589.0L822.9 1595.0ZM745.7 1601.0L748.9 1599.2L751.1 1601.0L750.7 1612.8L748.9 1613.7L734.1 1615.8L731.0 1612.8L734.1 1609.1ZM777.7 1601.0L778.5 1600.1L793.3 1600.0L795.2 1601.0L793.3 1603.9L778.5 1601.6ZM668.2 1612.8L674.9 1608.7L688.2 1612.8L674.9 1616.7ZM790.8 1624.8L793.3 1621.8L795.8 1624.8L793.3 1627.7ZM642.6 1636.7L645.2 1630.7L648.1 1636.7L645.2 1638.6ZM714.6 1636.7L719.3 1633.9L723.9 1636.7L719.3 1639.6ZM820.5 1636.7L822.9 1636.1L823.5 1636.7L822.9 1637.8ZM731.6 1648.5L734.1 1646.0L739.6 1648.5L734.1 1653.0ZM775.9 1648.5L778.5 1646.1L793.3 1641.1L808.1 1640.0L816.9 1648.5L808.1 1652.8L793.3 1651.3L778.5 1653.5ZM673.9 1660.5L674.9 1659.0L689.7 1654.5L692.1 1660.5L689.7 1661.0L674.9 1661.2ZM730.4 1672.3L734.1 1667.9L736.9 1672.3L734.1 1673.8ZM814.8 1672.3L822.9 1665.1L829.7 1672.3L822.9 1675.8Z" stroke="#9f9f9f" stroke-width="6.2" fill="none" stroke-linejoin="round" stroke-linecap="round"/>
<path d="M717.3 1493.8L719.3 1492.8L720.6 1493.8L719.3 1494.9ZM770.8 1541.5L778.5 1538.4L781.1 1541.5L778.5 1544.9ZM789.5 1565.2L793.3 1562.2L797.1 1565.2L793.3 1569.1ZM802.2 1648.5L808.1 1646.4L810.3 1648.5L808.1 1649.6Z" stroke="#bfbfbf" stroke-width="6.2" fill="none" stroke-linejoin="round" stroke-linecap="round"/>
<path d="" stroke="#dfdfdf" stroke-width="6.2" fill="none" stroke-linejoin="round" stroke-linecap="round"/>
</g>
<rect x="360.5" y="120.5" width="1440.0" height="480.0" fill="none" stroke="#000" stroke-width="3.2"/>
<rect x="360.5" y="720.5" width="1440.0" height="1440.0" fill="none" stroke="#000" stroke-width="3.2"/>
<rect x="1920.5" y="720.5" width="570.0" height="1440.0" fill="none" stroke="#000" stroke-width="3.2"/>
<rect x="2610.5" y="720.5" width="150.0" height="1440.0" fill="none" stroke="#000" stroke-width="3.2"/>
<text transform="translate(211.50,498.49) rotate(-90) scale(0.6187,1)" font-size="104.5" font-family="Liberation Sans, sans-serif" font-weight="bold"># Counts</text><text transform="translate(211.50,499.79) rotate(-90) scale(0.6187,1)" font-size="104.5" font-family="Liberation Sans, sans-serif" font-weight="bold"># Counts</text><text transform="translate(211.50,501.10) rotate(-90) scale(0.6187,1)" font-size="104.5" font-family="Liberation Sans, sans-serif" font-weight="bold"># Counts</text>
<text transform="translate(251.58,380.30) scale(0.6182,1)" font-size="86.4" font-family="Liberation Sans, sans-serif" font-weight="bold">250</text><text transform="translate(252.66,380.30) scale(0.6182,1)" font-size="86.4" font-family="Liberation Sans, sans-serif" font-weight="bold">250</text><text transform="translate(253.74,380.30) scale(0.6182,1)" font-size="86.4" font-family="Liberation Sans, sans-serif" font-weight="bold">250</text>
<text transform="translate(313.78,620.40) scale(0.5712,1)" font-size="86.4" font-family="Liberation Sans, sans-serif" font-weight="bold">0</text><text transform="translate(314.86,620.40) scale(0.5712,1)" font-size="86.4" font-family="Liberation Sans, sans-serif" font-weight="bold">0</text><text transform="translate(315.94,620.40) scale(0.5712,1)" font-size="86.4" font-family="Liberation Sans, sans-serif" font-weight="bold">0</text>
<text transform="translate(1917.25,281.70) scale(0.5972,1)" font-size="128.0" font-family="Liberation Sans, sans-serif" font-weight="bold">PepDF</text><text transform="translate(1918.85,281.70) scale(0.5972,1)" font-size="128.0" font-family="Liberation Sans, sans-serif" font-weight="bold">PepDF</text><text transform="translate(1920.45,281.70) scale(0.5972,1)" font-size="128.0" font-family="Liberation Sans, sans-serif" font-weight="bold">PepDF</text>
<text transform="translate(1920.46,432.00) scale(0.6430,1)" font-size="104.5" font-family="Liberation Sans, sans-serif" font-weight="bold">Time window: 50 ns</text><text transform="translate(1921.77,432.00) scale(0.6430,1)" font-size="104.5" font-family="Liberation Sans, sans-serif" font-weight="bold">Time window: 50 ns</text><text transform="translate(1923.07,432.00) scale(0.6430,1)" font-size="104.5" font-family="Liberation Sans, sans-serif" font-weight="bold">Time window: 50 ns</text>
<text transform="translate(252.09,922.10) scale(0.6146,1)" font-size="86.4" font-family="Liberation Sans, sans-serif" font-weight="bold">200</text><text transform="translate(253.17,922.10) scale(0.6146,1)" font-size="86.4" font-family="Liberation Sans, sans-serif" font-weight="bold">200</text><text transform="translate(254.25,922.10) scale(0.6146,1)" font-size="86.4" font-family="Liberation Sans, sans-serif" font-weight="bold">200</text>
<text transform="translate(250.59,1191.70) scale(0.6174,1)" font-size="86.4" font-family="Liberation Sans, sans-serif" font-weight="bold">100</text><text transform="translate(251.67,1191.70) scale(0.6174,1)" font-size="86.4" font-family="Liberation Sans, sans-serif" font-weight="bold">100</text><text transform="translate(252.75,1191.70) scale(0.6174,1)" font-size="86.4" font-family="Liberation Sans, sans-serif" font-weight="bold">100</text>
<text transform="translate(313.78,1461.30) scale(0.5712,1)" font-size="86.4" font-family="Liberation Sans, sans-serif" font-weight="bold">0</text><text transform="translate(314.86,1461.30) scale(0.5712,1)" font-size="86.4" font-family="Liberation Sans, sans-serif" font-weight="bold">0</text><text transform="translate(315.94,1461.30) scale(0.5712,1)" font-size="86.4" font-family="Liberation Sans, sans-serif" font-weight="bold">0</text>
<text transform="translate(202.29,1730.90) scale(0.7082,1)" font-size="86.4" font-family="Liberation Sans, sans-serif" font-weight="bold">−100</text><text transform="translate(203.37,1730.90) scale(0.7082,1)" font-size="86.4" font-family="Liberation Sans, sans-serif" font-weight="bold">−100</text><text transform="translate(204.45,1730.90) scale(0.7082,1)" font-size="86.4" font-family="Liberation Sans, sans-serif" font-weight="bold">−100</text>
<text transform="translate(202.38,2000.50) scale(0.7119,1)" font-size="86.4" font-family="Liberation Sans, sans-serif" font-weight="bold">−200</text><text transform="translate(203.46,2000.50) scale(0.7119,1)" font-size="86.4" font-family="Liberation Sans, sans-serif" font-weight="bold">−200</text><text transform="translate(204.54,2000.50) scale(0.7119,1)" font-size="86.4" font-family="Liberation Sans, sans-serif" font-weight="bold">−200</text>
<text transform="translate(161.30,1780.82) rotate(-90) scale(0.6434,1)" font-size="104.5" font-family="Liberation Sans, sans-serif" font-weight="bold">Precession (degrees)</text><text transform="translate(161.30,1782.13) rotate(-90) scale(0.6434,1)" font-size="104.5" font-family="Liberation Sans, sans-serif" font-weight="bold">Precession (degrees)</text><text transform="translate(161.30,1783.44) rotate(-90) scale(0.6434,1)" font-size="104.5" font-family="Liberation Sans, sans-serif" font-weight="bold">Precession (degrees)</text>
<text transform="translate(346.25,2236.00) scale(0.5785,1)" font-size="86.4" font-family="Liberation Sans, sans-serif" font-weight="bold">0</text><text transform="translate(347.33,2236.00) scale(0.5785,1)" font-size="86.4" font-family="Liberation Sans, sans-serif" font-weight="bold">0</text><text transform="translate(348.41,2236.00) scale(0.5785,1)" font-size="86.4" font-family="Liberation Sans, sans-serif" font-weight="bold">0</text>
<text transform="translate(797.34,2236.00) scale(0.5976,1)" font-size="86.4" font-family="Liberation Sans, sans-serif" font-weight="bold">2</text><text transform="translate(798.42,2236.00) scale(0.5976,1)" font-size="86.4" font-family="Liberation Sans, sans-serif" font-weight="bold">2</text><text transform="translate(799.50,2236.00) scale(0.5976,1)" font-size="86.4" font-family="Liberation Sans, sans-serif" font-weight="bold">2</text>
<text transform="translate(1248.63,2236.00) scale(0.5925,1)" font-size="86.4" font-family="Liberation Sans, sans-serif" font-weight="bold">4</text><text transform="translate(1249.71,2236.00) scale(0.5925,1)" font-size="86.4" font-family="Liberation Sans, sans-serif" font-weight="bold">4</text><text transform="translate(1250.79,2236.00) scale(0.5925,1)" font-size="86.4" font-family="Liberation Sans, sans-serif" font-weight="bold">4</text>
<text transform="translate(1701.36,2236.00) scale(0.5928,1)" font-size="86.4" font-family="Liberation Sans, sans-serif" font-weight="bold">6</text><text transform="translate(1702.44,2236.00) scale(0.5928,1)" font-size="86.4" font-family="Liberation Sans, sans-serif" font-weight="bold">6</text><text transform="translate(1703.52,2236.00) scale(0.5928,1)" font-size="86.4" font-family="Liberation Sans, sans-serif" font-weight="bold">6</text>
<text transform="translate(657.32,2344.10) scale(0.6491,1)" font-size="104.5" font-family="Liberation Sans, sans-serif" font-weight="bold">Lateral displacement (nm)</text><text transform="translate(658.63,2344.10) scale(0.6491,1)" font-size="104.5" font-family="Liberation Sans, sans-serif" font-weight="bold">Lateral displacement (nm)</text><text transform="translate(659.94,2344.10) scale(0.6491,1)" font-size="104.5" font-family="Liberation Sans, sans-serif" font-weight="bold">Lateral displacement (nm)</text>
<text transform="translate(1906.25,2236.00) scale(0.5785,1)" font-size="86.4" font-family="Liberation Sans, sans-serif" font-weight="bold">0</text><text transform="translate(1907.33,2236.00) scale(0.5785,1)" font-size="86.4" font-family="Liberation Sans, sans-serif" font-weight="bold">0</text><text transform="translate(1908.41,2236.00) scale(0.5785,1)" font-size="86.4" font-family="Liberation Sans, sans-serif" font-weight="bold">0</text>
<text transform="translate(2395.30,2236.00) scale(0.6159,1)" font-size="86.4" font-family="Liberation Sans, sans-serif" font-weight="bold">500</text><text transform="translate(2396.38,2236.00) scale(0.6159,1)" font-size="86.4" font-family="Liberation Sans, sans-serif" font-weight="bold">500</text><text transform="translate(2397.46,2236.00) scale(0.6159,1)" font-size="86.4" font-family="Liberation Sans, sans-serif" font-weight="bold">500</text>
<text transform="translate(2065.60,2344.00) scale(0.6173,1)" font-size="104.5" font-family="Liberation Sans, sans-serif" font-weight="bold"># Counts</text><text transform="translate(2066.91,2344.00) scale(0.6173,1)" font-size="104.5" font-family="Liberation Sans, sans-serif" font-weight="bold"># Counts</text><text transform="translate(2068.22,2344.00) scale(0.6173,1)" font-size="104.5" font-family="Liberation Sans, sans-serif" font-weight="bold"># Counts</text>
<text transform="translate(2777.61,2181.50) scale(0.6192,1)" font-size="86.4" font-family="Liberation Sans, sans-serif" font-weight="bold">0.0</text><text transform="translate(2778.69,2181.50) scale(0.6192,1)" font-size="86.4" font-family="Liberation Sans, sans-serif" font-weight="bold">0.0</text><text transform="translate(2779.77,2181.50) scale(0.6192,1)" font-size="86.4" font-family="Liberation Sans, sans-serif" font-weight="bold">0.0</text>
<text transform="translate(2777.62,1893.50) scale(0.6188,1)" font-size="86.4" font-family="Liberation Sans, sans-serif" font-weight="bold">0.2</text><text transform="translate(2778.70,1893.50) scale(0.6188,1)" font-size="86.4" font-family="Liberation Sans, sans-serif" font-weight="bold">0.2</text><text transform="translate(2779.78,1893.50) scale(0.6188,1)" font-size="86.4" font-family="Liberation Sans, sans-serif" font-weight="bold">0.2</text>
<text transform="translate(2777.67,1605.50) scale(0.6031,1)" font-size="86.4" font-family="Liberation Sans, sans-serif" font-weight="bold">0.4</text><text transform="translate(2778.75,1605.50) scale(0.6031,1)" font-size="86.4" font-family="Liberation Sans, sans-serif" font-weight="bold">0.4</text><text transform="translate(2779.83,1605.50) scale(0.6031,1)" font-size="86.4" font-family="Liberation Sans, sans-serif" font-weight="bold">0.4</text>
<text transform="translate(2777.62,1317.50) scale(0.6169,1)" font-size="86.4" font-family="Liberation Sans, sans-serif" font-weight="bold">0.6</text><text transform="translate(2778.70,1317.50) scale(0.6169,1)" font-size="86.4" font-family="Liberation Sans, sans-serif" font-weight="bold">0.6</text><text transform="translate(2779.78,1317.50) scale(0.6169,1)" font-size="86.4" font-family="Liberation Sans, sans-serif" font-weight="bold">0.6</text>
<text transform="translate(2777.63,1029.50) scale(0.6145,1)" font-size="86.4" font-family="Liberation Sans, sans-serif" font-weight="bold">0.8</text><text transform="translate(2778.71,1029.50) scale(0.6145,1)" font-size="86.4" font-family="Liberation Sans, sans-serif" font-weight="bold">0.8</text><text transform="translate(2779.79,1029.50) scale(0.6145,1)" font-size="86.4" font-family="Liberation Sans, sans-serif" font-weight="bold">0.8</text>
<text transform="translate(2777.73,741.50) scale(0.6096,1)" font-size="86.4" font-family="Liberation Sans, sans-serif" font-weight="bold">1.0</text><text transform="translate(2778.81,741.50) scale(0.6096,1)" font-size="86.4" font-family="Liberation Sans, sans-serif" font-weight="bold">1.0</text><text transform="translate(2779.89,741.50) scale(0.6096,1)" font-size="86.4" font-family="Liberation Sans, sans-serif" font-weight="bold">1.0</text>
<text transform="translate(2932.60,1731.33) rotate(-90) scale(0.6034,1)" font-size="89.5" font-family="Liberation Sans, sans-serif" font-weight="bold">Normalized Mean Time</text><text transform="translate(2932.60,1732.45) rotate(-90) scale(0.6034,1)" font-size="89.5" font-family="Liberation Sans, sans-serif" font-weight="bold">Normalized Mean Time</text><text transform="translate(2932.60,1733.56) rotate(-90) scale(0.6034,1)" font-size="89.5" font-family="Liberation Sans, sans-serif" font-weight="bold">Normalized Mean Time</text>
</svg></body></html>
